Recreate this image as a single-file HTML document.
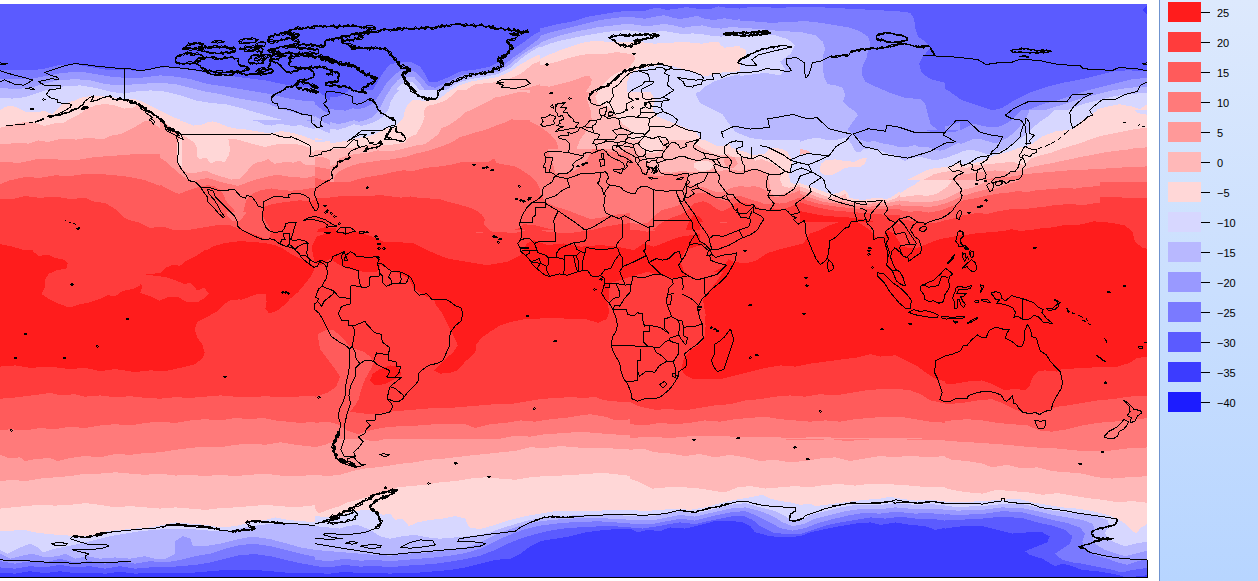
<!DOCTYPE html>
<html><head><meta charset="utf-8"><title>map</title>
<style>
html,body{margin:0;padding:0;background:#fff;}
body{width:1258px;height:581px;position:relative;overflow:hidden;font-family:"Liberation Sans",sans-serif;}
#map{position:absolute;left:0;top:0;}
#leg{position:absolute;left:1159px;top:0;width:99px;height:581px;background:linear-gradient(#dde9fd,#b7d5ff);border-left:1px solid #6f93cf;box-sizing:border-box;}
.sw{position:absolute;left:8px;width:33px;height:20px;}
.tk{position:absolute;left:41px;width:9px;height:1px;background:#000;}
.lb{position:absolute;left:57px;font-size:11px;line-height:12px;color:#000;white-space:nowrap;}
</style></head><body>
<svg id="map" width="1258" height="581" viewBox="0 0 1258 581">

<g shape-rendering="crispEdges">
<clipPath id="c0"><rect x="0" y="4" width="315" height="145"/></clipPath>
<g clip-path="url(#c0)">
<rect x="0" y="4" width="315" height="145" fill="#5b5bff"/>
<polygon fill="#7a7aff" points="0.0,69.6 15.0,69.6 30.0,70.3 42.6,69.1 57.6,65.3 75.1,64.1 87.6,66.6 105.2,69.6 120.2,69.6 140.2,71.1 160.2,67.8 175.3,66.6 190.3,69.6 205.3,72.9 220.3,74.6 235.4,76.6 250.4,78.6 265.4,80.4 280.4,83.6 295.4,86.6 315.0,87.9 365.0,3000.0 -50.0,3000.0"/>
<polygon fill="#9999ff" points="0.0,79.1 15.0,79.1 30.0,79.1 45.1,76.1 62.6,72.9 80.1,71.6 95.1,74.1 110.2,76.6 125.2,77.9 140.2,77.9 160.2,75.4 175.3,76.6 190.3,79.1 207.8,84.1 225.3,86.6 240.4,89.1 255.4,91.6 270.4,94.1 285.4,97.9 300.5,100.4 315.0,101.6 365.0,3000.0 -50.0,3000.0"/>
<polygon fill="#b8b8ff" points="0.0,87.9 15.0,89.1 30.0,87.9 42.6,84.1 57.6,80.4 75.1,79.1 90.1,80.4 105.2,84.1 120.2,85.4 130.2,84.6 145.2,83.6 160.2,82.9 175.3,84.1 190.3,87.9 205.3,91.6 220.3,94.1 235.4,97.9 250.4,100.4 265.4,102.9 275.4,106.7 290.4,111.7 305.5,115.4 315.0,116.7 365.0,3000.0 -50.0,3000.0"/>
<polygon fill="#d7d7ff" points="0.0,97.9 12.5,98.6 25.0,97.1 37.6,92.9 50.1,89.1 65.1,86.1 80.1,85.4 95.1,87.9 110.2,91.6 123.2,93.6 135.2,91.6 150.2,90.4 165.2,91.6 180.3,95.4 195.3,100.4 210.3,102.9 225.3,104.2 240.4,107.9 255.4,112.2 270.4,116.7 285.4,120.7 300.5,124.2 315.0,126.7 365.0,3000.0 -50.0,3000.0"/>
<polygon fill="#ffd7d7" points="-2.5,110.4 0.0,110.4 5.0,106.7 12.5,105.9 19.0,108.4 25.0,111.7 35.1,112.4 44.6,110.9 52.6,114.2 62.6,104.2 75.1,100.4 82.6,97.1 95.1,95.6 110.2,97.1 123.2,98.6 135.2,99.1 145.2,102.9 155.2,107.9 165.2,112.9 175.3,117.9 185.3,121.7 200.3,124.2 215.3,121.7 230.3,124.2 245.4,127.9 260.4,130.4 275.4,130.4 290.4,132.9 305.5,135.4 315.0,136.7 365.0,3000.0 -52.5,3000.0"/>
<polygon fill="#ffb8b8" points="227.8,138.0 240.4,139.2 260.4,141.2 275.4,140.5 295.4,142.2 315.0,144.2 315.0,154.2 227.8,154.2"/>
</g>
<clipPath id="c1"><rect x="0" y="4" width="315" height="145"/></clipPath>
<g clip-path="url(#c1)">
<polygon fill="#ffb8b8" points="0.0,127.7 9.5,125.3 19.1,122.9 28.6,121.7 38.2,123.7 44.5,126.1 52.5,123.7 63.6,122.6 70.0,119.0 79.5,114.2 85.9,109.4 95.4,105.4 104.9,103.8 114.5,105.4 124.0,108.6 132.0,107.8 136.7,105.4 139.9,103.8 143.1,108.6 149.4,114.2 159.0,119.7 168.5,126.1 176.5,132.5 182.8,139.6 190.8,143.6 200.0,148.4 250.0,3000.0 -50.0,3000.0"/>
<polygon fill="#ff9999" points="0.0,144.4 9.5,143.6 19.1,142.8 28.6,143.6 38.2,140.4 47.7,142.0 57.2,139.6 66.8,138.8 76.3,139.6 85.9,138.0 95.4,138.5 103.3,139.6 111.3,135.6 120.8,134.1 127.2,130.9 135.1,126.9 141.5,122.9 146.3,120.5 151.0,121.3 159.0,127.7 166.9,132.5 174.9,135.6 179.7,139.6 178.1,146.8 177.3,154.7 178.9,162.7 182.8,173.8 232.8,3000.0 -50.0,3000.0"/>
<polygon fill="#ff7a7a" points="0.0,162.7 9.5,163.5 19.1,161.9 28.6,161.1 38.2,161.9 47.7,160.3 57.2,159.5 66.8,160.3 74.7,159.5 82.7,157.1 92.2,156.3 101.7,155.5 111.3,154.7 120.8,156.3 130.4,154.7 143.1,153.9 152.6,153.9 160.6,155.5 166.9,159.5 173.3,164.3 176.5,169.0 179.7,173.8 229.7,3000.0 -50.0,3000.0"/>
</g>
<clipPath id="c2"><rect x="315" y="4" width="315" height="145"/></clipPath>
<g clip-path="url(#c2)">
<rect x="315" y="4" width="315" height="145" fill="#5b5bff"/>
<polygon fill="#7a7aff" points="312.5,86.6 315.0,87.9 324.0,95.9 334.0,104.2 347.0,108.2 360.6,104.2 370.6,94.1 377.1,82.6 384.1,71.1 390.6,64.1 397.6,62.8 410.1,61.6 420.2,66.6 425.2,74.1 428.9,81.6 437.7,81.6 450.2,76.6 460.2,71.6 475.2,69.6 490.3,66.6 501.5,60.3 507.8,54.1 515.3,47.8 522.8,42.8 532.8,35.3 545.3,29.0 560.4,24.0 575.4,20.3 590.4,16.5 602.9,14.0 615.5,12.0 630.0,10.3 680.0,3000.0 262.5,3000.0"/>
<polygon fill="#9999ff" points="312.5,102.9 315.0,104.2 325.0,111.7 337.5,117.9 347.5,119.2 357.6,115.4 368.8,109.2 376.3,101.6 381.3,91.6 387.6,81.6 395.1,74.1 401.4,70.3 415.2,71.6 422.7,79.1 427.7,85.4 435.2,87.9 445.2,82.9 455.2,77.9 465.2,74.1 480.2,72.1 495.3,69.6 505.3,64.1 512.8,57.8 520.3,52.8 530.3,45.3 540.3,37.8 552.9,32.8 567.9,27.8 580.4,24.5 592.9,21.5 605.4,19.5 618.0,18.5 630.0,17.8 680.0,3000.0 262.5,3000.0"/>
<polygon fill="#b8b8ff" points="312.5,114.2 315.0,115.9 325.0,122.9 337.5,127.9 347.5,127.9 357.6,124.2 370.1,117.9 378.8,109.2 385.1,99.1 390.1,89.1 397.6,80.4 402.6,76.6 413.9,76.6 420.2,84.1 425.2,90.4 432.7,94.1 440.2,91.6 447.7,85.4 457.7,80.4 470.2,76.6 485.3,74.1 497.8,71.6 507.8,66.1 515.3,59.6 522.8,54.1 532.8,47.8 542.8,42.1 557.9,36.0 572.9,30.3 585.4,26.5 597.9,22.8 610.4,19.5 630.0,17.0 680.0,3000.0 262.5,3000.0"/>
<polygon fill="#d7d7ff" points="312.5,124.2 315.0,125.9 325.0,131.7 337.5,135.4 347.5,134.2 362.6,129.2 373.8,122.9 381.3,114.2 387.6,104.2 392.6,94.1 400.1,85.4 405.1,81.6 412.6,81.6 417.7,87.9 422.7,95.4 431.4,102.9 440.2,97.9 447.7,89.1 457.7,82.9 470.2,79.1 485.3,76.6 497.8,74.1 510.3,67.8 517.8,61.6 525.3,55.3 535.3,49.1 547.8,42.8 562.9,36.5 577.9,31.5 590.4,27.8 605.4,24.0 618.0,22.0 630.0,20.3 680.0,3000.0 262.5,3000.0"/>
<polygon fill="#ffd7d7" points="312.5,136.7 315.0,137.5 325.0,140.5 337.5,143.0 345.0,142.2 360.1,139.2 375.1,140.5 387.6,139.2 400.1,136.7 403.1,129.2 403.9,119.2 405.1,109.2 407.6,99.1 411.4,90.4 417.7,92.9 425.2,101.6 431.4,104.2 440.2,100.4 449.0,91.6 459.0,85.4 470.2,81.6 485.3,79.1 497.8,77.1 510.3,71.6 519.1,65.3 527.8,60.3 537.8,55.3 550.4,51.6 565.4,47.8 580.4,44.1 592.9,41.6 605.4,41.1 618.0,41.6 630.0,41.6 680.0,3000.0 262.5,3000.0"/>
<polygon fill="#ffb8b8" points="312.5,146.7 315.0,147.5 330.0,150.5 340.0,151.7 422.7,151.7 423.2,134.2 425.2,116.7 432.7,109.2 445.2,102.9 455.2,97.9 465.2,90.4 475.2,84.1 490.3,82.9 505.3,80.4 520.3,74.1 532.8,64.1 547.8,57.8 565.4,52.8 577.9,51.6 587.9,45.3 597.9,42.8 615.5,41.6 630.0,39.1 680.0,3000.0 262.5,3000.0"/>
<polygon fill="#ff9999" points="440.2,151.7 442.7,134.2 455.2,121.7 465.2,114.2 477.7,109.2 490.3,102.9 502.8,94.1 515.3,90.4 527.8,87.9 540.3,84.1 555.4,80.4 572.9,77.9 587.9,75.4 591.7,79.1 590.4,89.1 586.7,99.1 590.4,109.2 591.7,119.2 587.9,129.2 580.4,139.2 575.4,151.7"/>
<polygon fill="#ff7a7a" points="460.2,151.7 465.2,139.2 475.2,131.7 490.3,126.7 505.3,121.7 515.3,119.2 530.3,121.7 540.3,126.7 550.4,134.2 556.6,141.7 559.1,151.7"/>
<polygon fill="#ffd7d7" points="633.0,67.8 630.0,67.8 615.5,76.6 602.9,86.6 595.4,96.6 597.9,104.2 607.9,106.7 615.5,114.2 623.0,124.2 630.0,129.2 633.0,129.2"/>
</g>
<clipPath id="c3"><rect x="630" y="4" width="315" height="145"/></clipPath>
<g clip-path="url(#c3)">
<rect x="630" y="4" width="315" height="145" fill="#5b5bff"/>
<polygon fill="#7a7aff" points="630.0,10.3 655.0,8.5 680.1,9.5 705.1,7.8 730.2,8.5 755.2,7.0 780.2,7.8 805.3,6.5 830.3,7.8 855.3,9.0 880.4,10.3 900.4,11.5 910.4,12.8 914.2,19.0 915.4,29.0 917.9,36.5 925.4,41.6 930.5,47.8 922.9,56.6 919.2,64.1 921.7,72.9 930.5,79.1 945.0,82.9 995.0,3000.0 580.0,3000.0"/>
<polygon fill="#9999ff" points="630.0,19.5 645.0,21.5 660.0,19.5 680.1,22.0 700.1,19.0 715.1,22.0 735.2,20.3 755.2,21.5 770.2,22.8 790.2,22.0 805.3,21.0 820.3,22.8 835.3,25.3 850.3,27.8 860.3,31.5 867.9,36.5 870.4,44.1 867.9,51.6 866.6,57.8 862.8,65.3 861.6,74.1 865.4,81.6 875.4,86.6 890.4,92.9 905.4,97.9 920.4,99.1 925.4,104.2 927.9,114.2 930.5,124.2 938.0,130.4 945.0,131.7 995.0,3000.0 580.0,3000.0"/>
<polygon fill="#b8b8ff" points="630.0,26.5 650.0,27.8 667.6,26.0 685.1,29.0 705.1,27.0 720.1,29.0 740.2,27.8 760.2,29.0 780.2,31.0 800.3,32.0 815.3,35.3 822.8,41.6 825.3,49.1 822.8,56.6 822.8,66.6 824.0,76.6 827.8,84.1 835.3,85.4 842.8,87.9 845.3,95.4 842.8,101.6 847.8,106.7 855.3,111.7 857.8,115.4 852.8,121.7 847.8,129.2 847.8,134.2 855.3,136.7 870.4,139.2 885.4,139.2 905.4,140.5 920.4,139.2 930.5,138.0 945.0,139.2 995.0,3000.0 580.0,3000.0"/>
<polygon fill="#d7d7ff" points="630.0,34.0 655.0,35.3 680.1,33.5 705.1,36.0 730.2,36.5 755.2,34.5 775.2,35.3 787.7,39.1 795.2,45.3 790.2,54.1 780.2,61.6 785.2,69.1 780.2,75.4 765.2,72.9 745.2,75.4 730.2,76.6 712.6,79.1 700.1,86.6 695.6,94.1 700.1,102.9 712.6,109.2 722.6,114.2 727.6,121.7 735.2,131.7 750.2,138.0 770.2,140.5 790.2,141.2 805.3,140.5 820.3,136.7 835.3,138.0 842.8,144.2 837.8,151.7 887.8,3000.0 580.0,3000.0"/>
<polygon fill="#ffd7d7" points="617.5,41.6 630.0,41.6 645.0,39.1 665.1,41.1 685.1,42.8 705.1,44.1 720.1,47.8 735.2,46.6 745.2,49.1 746.4,54.1 740.2,61.6 730.2,66.6 715.1,70.3 705.1,72.9 690.1,71.6 670.1,66.6 655.0,65.3 640.0,66.6 630.0,69.1 617.5,69.1"/>
<polygon fill="#ffb8b8" points="627.5,51.6 632.5,52.8 634.5,57.8 632.5,64.1 627.5,65.3"/>
<polygon fill="#ffd7d7" points="617.5,86.6 630.0,86.6 640.0,87.9 650.0,91.6 655.0,99.1 652.5,109.2 657.5,116.7 670.1,121.7 682.6,126.7 695.1,131.7 701.4,139.2 697.6,151.7 617.5,151.7"/>
</g>
<clipPath id="c4"><rect x="945" y="4" width="202" height="145"/></clipPath>
<g clip-path="url(#c4)">
<rect x="945" y="4" width="202" height="145" fill="#5b5bff"/>
<polygon fill="#7a7aff" points="832.0,8.5 847.0,7.0 862.0,9.5 882.1,11.0 902.1,12.8 912.1,15.3 914.6,24.0 917.1,29.0 925.9,34.0 927.1,41.6 922.1,49.1 919.6,56.6 919.6,66.6 924.6,76.6 937.2,84.1 949.7,91.6 962.2,100.4 977.2,105.4 992.2,110.4 1002.3,107.9 1012.3,101.6 1022.3,96.6 1032.3,91.6 1047.3,86.6 1062.3,82.9 1082.4,79.1 1097.4,75.4 1112.4,71.6 1127.4,70.3 1147.0,71.1 1197.0,3000.0 782.0,3000.0"/>
<polygon fill="#3c3cff" points="1142.5,10.3 1147.0,5.3 1150.0,5.3 1150.0,15.3 1147.0,14.5"/>
<polygon fill="#9999ff" points="832.0,30.3 844.5,35.3 857.0,42.8 867.1,51.6 869.6,59.1 863.3,66.6 861.5,76.6 869.6,85.4 882.1,91.6 897.1,97.9 912.1,100.4 922.1,98.6 925.1,106.7 922.6,114.2 927.1,122.9 930.9,129.2 939.7,127.9 949.7,125.4 962.2,121.7 972.2,122.9 982.2,124.2 992.2,126.7 1002.3,124.2 1012.3,117.9 1018.5,114.2 1029.8,109.2 1042.3,104.2 1057.3,100.4 1072.4,95.4 1087.4,90.4 1102.4,86.6 1117.4,82.9 1132.5,79.1 1147.0,77.9 1197.0,3000.0 782.0,3000.0"/>
<polygon fill="#b8b8ff" points="932.2,146.7 944.9,144.2 957.2,140.5 972.2,138.0 987.2,139.2 1002.3,136.7 1012.3,129.2 1019.8,121.7 1029.8,115.4 1039.8,111.7 1052.3,107.9 1067.4,102.9 1082.4,97.9 1097.4,94.1 1112.4,90.4 1127.4,87.9 1147.0,86.6 1197.0,3000.0 882.2,3000.0"/>
<polygon fill="#d7d7ff" points="1029.8,151.7 1032.3,139.2 1037.3,129.2 1044.8,121.7 1057.3,114.2 1069.9,109.2 1082.4,104.2 1097.4,100.4 1112.4,96.6 1127.4,94.1 1147.0,92.9 1197.0,3000.0 979.8,3000.0"/>
<polygon fill="#ffd7d7" points="1039.8,151.7 1047.3,144.2 1057.3,136.7 1067.4,129.2 1077.4,121.7 1087.4,114.2 1097.4,109.2 1107.4,106.7 1119.9,104.2 1132.5,106.7 1140.0,109.2 1147.0,104.2 1197.0,3000.0 989.8,3000.0"/>
<polygon fill="#ffb8b8" points="1082.4,151.7 1097.4,139.2 1112.4,131.7 1127.4,126.7 1140.0,124.2 1147.0,125.4 1197.0,3000.0 1032.4,3000.0"/>
</g>
<clipPath id="c5"><rect x="0" y="149" width="315" height="145"/></clipPath>
<g clip-path="url(#c5)">
<rect x="0" y="149" width="315" height="145" fill="#ff9999"/>
<polygon fill="#ff7a7a" points="-5.0,162.0 0.0,162.0 20.0,162.8 35.1,159.5 50.1,158.5 65.1,160.3 80.1,159.5 95.1,157.0 110.2,156.0 130.2,154.5 150.2,153.5 160.2,154.5 166.5,161.5 175.3,159.0 315.0,159.0 365.0,3000.0 -55.0,3000.0"/>
<polygon fill="#ff5b5b" points="-5.0,184.1 0.0,184.1 10.0,180.3 25.0,177.0 40.1,177.8 55.1,175.3 70.1,176.0 85.1,174.0 100.2,174.0 115.2,175.3 130.2,177.0 145.2,180.3 155.2,184.1 161.5,186.6 175.3,189.1 200.3,186.6 225.3,184.1 315.0,179.0 365.0,3000.0 -55.0,3000.0"/>
<polygon fill="#ff3c3c" points="-5.0,199.1 0.0,199.1 12.5,199.1 25.0,196.1 40.1,197.8 55.1,196.6 70.1,199.1 85.1,197.8 95.1,202.1 105.2,202.8 115.2,209.1 122.7,216.6 130.2,220.4 140.2,222.9 150.2,227.9 162.7,226.6 175.3,230.4 190.3,229.6 205.3,227.1 220.3,224.6 230.3,225.4 240.4,229.1 250.4,232.9 260.4,236.6 267.9,240.4 271.7,231.6 265.9,221.6 261.6,212.8 262.9,204.1 267.9,196.6 280.4,191.6 295.4,189.1 315.0,186.6 365.0,3000.0 -55.0,3000.0"/>
<polygon fill="#ff7a7a" points="225.3,209.1 227.8,216.6 232.8,221.6 240.4,220.4 245.4,214.1 246.6,209.1"/>
<polygon fill="#ff1c1c" points="-2.5,244.1 0.0,244.1 12.5,246.6 25.0,250.4 37.6,255.4 50.1,256.7 62.6,259.2 67.6,262.9 66.3,268.7 55.1,270.4 47.6,276.7 45.1,284.2 43.8,296.7 -2.5,296.7"/>
<polygon fill="#ff1c1c" points="145.2,274.2 160.2,273.7 170.3,266.7 180.3,262.9 190.3,259.2 200.3,254.2 212.8,246.6 225.3,242.9 240.4,241.1 255.4,242.1 267.9,243.6 275.4,245.4 282.9,249.2 290.4,254.2 300.5,259.2 310.5,266.7 318.0,269.2 318.0,296.7 205.3,296.7 195.3,288.0 185.3,283.0 175.3,279.2 160.2,275.4"/>
</g>
<clipPath id="c6"><rect x="160" y="120" width="155" height="92"/></clipPath>
<g clip-path="url(#c6)">
<rect x="160" y="120" width="155" height="92" fill="#d7d7ff"/>
<polygon fill="#b8b8ff" points="250.6,118.4 250.6,120.0 258.6,121.6 264.9,124.8 271.3,125.6 277.6,124.0 287.2,124.8 293.5,126.4 299.9,124.8 306.3,127.2 312.6,128.7 319.0,131.1 326.9,132.7 326.9,118.4"/>
<polygon fill="#9999ff" points="303.1,118.4 303.1,120.0 312.6,121.3 319.0,121.9 326.9,122.4 326.9,118.4"/>
<polygon fill="#ffd7d7" points="156.8,113.6 169.5,115.2 179.1,120.0 185.4,122.4 193.4,125.6 201.3,124.8 207.7,122.4 212.5,121.3 218.8,123.2 226.8,126.4 236.3,128.7 245.9,129.5 255.4,131.1 264.9,132.7 274.5,132.7 280.8,131.1 287.2,131.9 295.1,133.5 303.1,135.9 311.0,139.1 319.0,142.3 326.9,143.8 334.9,143.1 384.9,3000.0 106.8,3000.0"/>
<polygon fill="#ffb8b8" points="182.3,135.1 189.4,139.1 194.2,142.3 197.4,148.6 197.4,156.6 199.7,159.0 206.1,157.4 210.9,163.7 217.2,160.5 225.2,162.1 229.2,154.2 230.0,148.6 228.4,139.1 234.7,138.8 244.3,141.5 255.4,144.6 264.9,147.0 274.5,144.6 284.0,143.8 293.5,143.8 303.1,145.4 309.4,147.8 312.6,151.8 319.0,150.2 328.5,148.3 378.5,3000.0 132.3,3000.0"/>
<polygon fill="#ff9999" points="156.8,116.8 169.5,126.4 180.7,135.9 176.7,145.4 176.7,159.7 183.8,170.9 188.6,173.3 196.6,172.5 206.1,170.9 215.6,174.8 223.6,177.2 231.5,179.6 239.5,178.8 245.9,172.5 250.6,166.9 255.4,162.9 261.7,161.7 268.1,159.0 274.5,163.7 284.0,162.1 293.5,162.6 299.9,160.5 304.7,164.5 312.6,165.3 322.2,163.7 331.7,162.1 381.7,3000.0 106.8,3000.0"/>
<polygon fill="#ff7a7a" points="156.8,154.2 160.0,157.4 166.4,162.1 172.7,167.7 179.1,173.3 185.4,178.0 191.8,181.2 199.7,179.6 207.7,178.0 215.6,180.4 223.6,182.8 231.5,184.4 237.9,186.0 244.3,183.6 250.6,181.2 258.6,178.8 268.1,176.4 277.6,174.8 287.2,176.4 296.7,177.2 306.3,178.0 315.8,175.6 325.3,174.1 375.3,3000.0 106.8,3000.0"/>
<polygon fill="#ff5b5b" points="156.8,182.0 160.0,184.4 166.4,188.4 172.7,191.5 179.1,193.9 185.4,191.5 191.8,189.2 199.7,186.8 207.7,185.2 214.1,186.0 220.4,190.0 223.6,194.7 225.2,199.5 228.4,204.3 233.1,208.2 236.3,213.8 242.7,213.8 245.9,201.1 249.0,196.3 253.8,193.1 261.7,190.0 271.3,188.4 280.8,190.0 290.4,190.7 299.9,190.0 309.4,188.4 319.0,186.8 328.5,183.6 378.5,3000.0 106.8,3000.0"/>
<polygon fill="#ff3c3c" points="261.7,213.8 264.9,206.6 271.3,204.3 280.8,202.7 290.4,201.4 299.9,200.3 309.4,201.1 315.8,199.5 319.0,194.7 325.3,193.1 375.3,3000.0 211.7,3000.0"/>
</g>
<clipPath id="c7"><rect x="315" y="149" width="315" height="145"/></clipPath>
<g clip-path="url(#c7)">
<rect x="315" y="149" width="315" height="145" fill="#ff7a7a"/>
<polygon fill="#ff9999" points="312.5,161.5 315.0,161.5 330.0,159.0 345.0,156.5 360.1,155.3 375.1,152.8 390.1,151.5 410.1,150.3 427.7,147.7 477.7,-3000.0 262.5,-3000.0"/>
<polygon fill="#ffb8b8" points="312.5,154.0 315.0,154.0 327.5,151.5 340.0,147.7 390.0,-3000.0 262.5,-3000.0"/>
<polygon fill="#ff9999" points="549.1,154.0 552.9,164.0 555.4,172.8 565.4,174.0 575.4,170.3 582.9,164.0 587.9,159.0 590.4,152.8 592.9,147.7 547.8,147.7"/>
<polygon fill="#ff9999" points="602.9,147.7 607.9,151.5 620.5,152.8 633.0,151.5 633.0,147.7"/>
<polygon fill="#ff5b5b" points="312.5,174.0 315.0,174.0 327.5,170.3 340.0,167.8 355.1,164.0 370.1,162.8 385.1,160.3 400.1,158.5 415.2,156.5 430.2,154.5 445.2,156.5 460.2,155.3 475.2,156.5 490.3,159.0 495.3,162.8 505.3,164.0 515.3,166.5 525.3,172.8 532.8,177.8 537.8,184.1 540.3,190.3 540.3,194.1 545.3,201.6 555.4,206.6 567.9,210.3 580.4,215.3 590.4,219.1 600.4,217.9 610.4,215.3 620.5,214.1 633.0,212.8 683.0,3000.0 262.5,3000.0"/>
<polygon fill="#ff3c3c" points="312.5,197.8 315.0,197.8 327.5,195.3 340.0,194.1 355.1,195.3 370.1,194.1 385.1,196.6 400.1,197.8 415.2,197.8 430.2,199.1 445.2,200.3 460.2,205.3 475.2,211.6 482.8,217.9 485.3,224.1 495.3,229.1 510.3,230.4 520.3,227.9 522.8,224.1 535.3,225.4 550.4,229.1 565.4,231.6 580.4,232.9 590.4,230.4 605.4,226.6 620.5,224.1 633.0,222.9 683.0,3000.0 262.5,3000.0"/>
<polygon fill="#ff1c1c" points="312.5,225.4 315.0,225.4 325.0,229.1 335.0,231.6 345.0,234.1 357.6,232.9 367.6,235.4 377.6,240.4 387.6,241.6 400.1,241.1 407.6,245.4 420.2,247.9 432.7,254.2 437.7,259.2 450.2,260.4 465.2,264.2 480.2,266.7 495.3,266.2 507.8,262.9 515.3,256.7 519.1,249.2 520.3,242.9 530.3,239.1 540.3,242.9 555.4,244.1 567.9,242.9 580.4,241.6 590.4,240.4 605.4,239.1 618.0,240.4 633.0,241.6 683.0,3000.0 262.5,3000.0"/>
<polygon fill="#ff3c3c" points="312.5,261.7 315.0,261.7 325.0,259.2 332.5,255.4 340.0,254.2 342.5,259.2 347.5,261.7 360.1,259.2 372.6,259.2 380.1,264.2 390.1,269.2 400.1,271.7 407.6,276.7 412.6,284.2 415.2,296.7 312.5,296.7"/>
<polygon fill="#ff3c3c" points="619.2,266.7 625.5,267.9 633.0,266.7 633.0,285.5 625.5,284.2 620.5,277.9"/>
</g>
<clipPath id="c8"><rect x="630" y="149" width="315" height="145"/></clipPath>
<g clip-path="url(#c8)">
<rect x="630" y="149" width="315" height="145" fill="#ff1c1c"/>
<polygon fill="#ff3c3c" points="627.5,256.7 630.0,256.7 637.5,259.2 645.0,249.2 650.0,239.1 660.0,235.4 675.1,234.1 687.6,236.6 691.3,244.1 686.3,251.7 680.1,264.2 687.6,274.2 700.1,279.2 715.1,274.2 725.1,266.7 735.2,261.7 747.7,257.9 760.2,254.2 770.2,249.2 780.2,245.4 790.2,240.4 800.3,236.6 805.3,231.6 815.3,230.4 825.3,226.6 835.3,224.1 845.3,220.4 850.3,222.9 855.3,224.1 865.4,221.6 870.4,226.6 872.9,234.1 876.6,239.1 882.9,235.4 885.4,229.1 890.4,231.6 892.9,239.1 897.9,246.6 902.9,254.2 910.4,259.2 917.9,256.7 922.9,249.2 930.5,244.1 948.0,242.9 998.0,-3000.0 577.5,-3000.0"/>
<polygon fill="#ff5b5b" points="627.5,232.9 630.0,232.9 645.0,231.6 655.0,226.6 667.6,221.6 680.1,221.1 690.1,224.1 697.6,221.6 705.1,217.9 715.1,216.6 725.1,219.1 735.2,221.6 745.2,220.4 755.2,217.9 765.2,215.3 775.2,216.6 785.2,217.9 795.2,212.8 805.3,207.8 815.3,205.3 825.3,207.8 835.3,210.3 845.3,211.6 855.3,212.8 865.4,211.6 875.4,210.3 885.4,212.8 895.4,217.9 905.4,220.4 917.9,220.4 930.5,219.1 948.0,216.6 998.0,-3000.0 577.5,-3000.0"/>
<polygon fill="#ff7a7a" points="627.5,211.6 630.0,211.6 642.5,210.3 655.0,207.8 667.6,206.1 680.1,205.3 690.1,202.8 700.1,199.1 710.1,195.3 720.1,197.8 730.2,201.6 740.2,205.3 750.2,205.3 755.2,209.1 770.2,210.3 785.2,209.1 795.2,202.8 805.3,197.8 815.3,195.3 825.3,197.8 835.3,200.3 845.3,202.8 855.3,204.1 865.4,202.8 875.4,200.3 885.4,202.8 895.4,207.8 905.4,210.3 917.9,209.1 930.5,207.8 948.0,205.3 998.0,-3000.0 577.5,-3000.0"/>
<polygon fill="#ff3c3c" points="667.6,296.7 670.1,284.2 680.1,277.9 692.6,280.4 705.1,281.7 707.6,296.7"/>
</g>
<clipPath id="c9"><rect x="945" y="149" width="202" height="145"/></clipPath>
<g clip-path="url(#c9)">
<rect x="945" y="149" width="202" height="145" fill="#d7d7ff"/>
<polygon fill="#b8b8ff" points="854.5,147.7 862.0,152.8 877.1,155.3 894.6,156.5 907.1,159.0 919.6,157.8 932.2,155.3 937.2,151.5 942.2,147.7"/>
<polygon fill="#9999ff" points="877.1,147.7 889.6,152.0 907.1,154.0 922.1,152.0 929.6,147.7"/>
<polygon fill="#ffd7d7" points="829.5,190.3 832.0,190.3 842.0,192.8 852.0,195.3 862.0,194.1 872.1,195.3 882.1,196.6 889.6,194.1 897.1,189.1 902.1,181.5 907.1,176.5 917.1,172.8 927.1,170.3 937.2,168.5 947.2,166.5 957.2,165.3 967.2,162.8 977.2,159.0 987.2,155.3 997.2,151.5 1004.8,147.7 1583.1,-1.2 1633.1,3000.0 779.5,3000.0"/>
<polygon fill="#ffb8b8" points="829.5,192.8 832.0,192.8 847.0,196.1 862.0,196.6 877.1,196.6 887.1,197.1 897.1,195.3 907.1,191.6 917.1,186.6 927.1,182.8 937.2,179.0 947.2,176.5 957.2,175.3 967.2,172.8 977.2,169.0 987.2,165.3 997.2,161.5 1007.3,157.8 1017.3,154.0 1027.3,150.3 1032.3,147.7 1583.1,-1.2 1633.1,3000.0 779.5,3000.0"/>
<polygon fill="#ff9999" points="829.5,195.3 832.0,195.3 847.0,197.8 862.0,199.1 877.1,199.1 887.1,200.3 897.1,200.3 907.1,199.1 917.1,196.6 927.1,192.8 937.2,189.1 947.2,186.1 957.2,184.1 967.2,180.3 977.2,176.5 987.2,172.8 997.2,170.3 1007.3,167.8 1022.3,164.0 1037.3,160.3 1052.3,157.8 1067.4,155.3 1082.4,153.5 1097.4,151.5 1107.4,147.7 1583.1,-1.2 1633.1,3000.0 779.5,3000.0"/>
<polygon fill="#ff7a7a" points="829.5,197.8 832.0,197.8 847.0,200.3 862.0,201.1 874.6,201.6 887.1,204.1 897.1,205.3 907.1,206.1 919.6,205.3 932.2,202.8 942.2,199.1 952.2,195.3 962.2,191.6 972.2,189.1 982.2,186.6 994.7,182.8 1007.3,180.3 1022.3,177.0 1037.3,175.3 1052.3,172.8 1067.4,171.0 1082.4,169.5 1097.4,167.8 1112.4,165.3 1127.4,163.5 1150.0,162.8 1200.0,3000.0 779.5,3000.0"/>
<polygon fill="#ff5b5b" points="829.5,200.3 832.0,200.3 842.0,202.8 852.0,204.6 862.0,203.6 872.1,205.3 882.1,207.8 892.1,210.3 904.6,211.6 917.1,212.1 929.6,210.3 939.7,207.8 949.7,205.3 959.7,202.8 969.7,201.6 979.7,199.1 992.2,196.6 1007.3,194.1 1022.3,192.1 1037.3,190.3 1052.3,188.6 1067.4,186.6 1082.4,185.3 1097.4,184.1 1112.4,182.8 1127.4,183.6 1150.0,184.1 1200.0,3000.0 779.5,3000.0"/>
<polygon fill="#ff3c3c" points="829.5,206.6 832.0,206.6 842.0,209.1 852.0,210.3 859.5,207.8 869.6,211.6 879.6,215.3 889.6,217.9 902.1,219.1 914.6,220.4 927.1,219.6 937.2,217.9 947.2,216.6 957.2,217.9 967.2,216.6 977.2,214.1 987.2,212.8 1002.3,211.6 1017.3,210.3 1032.3,209.1 1047.3,207.1 1062.3,205.3 1077.4,203.6 1092.4,202.8 1107.4,200.3 1122.4,199.1 1135.0,197.8 1150.0,199.1 1200.0,3000.0 779.5,3000.0"/>
<polygon fill="#ff1c1c" points="829.5,220.4 832.0,220.4 842.0,221.6 852.0,219.1 859.5,221.6 867.1,224.1 874.6,231.6 882.1,237.9 889.6,241.6 897.1,245.4 907.1,247.9 917.1,245.4 924.6,241.6 932.2,237.9 942.2,235.4 952.2,234.1 962.2,235.4 972.2,234.1 982.2,232.9 994.7,231.6 1007.3,230.4 1022.3,229.1 1037.3,228.6 1052.3,226.6 1067.4,224.1 1082.4,222.9 1097.4,221.6 1112.4,222.9 1124.9,225.4 1132.5,231.6 1135.0,241.6 1142.5,247.9 1150.0,249.2 1200.0,3000.0 779.5,3000.0"/>
</g>
<clipPath id="c10"><rect x="630" y="140" width="200" height="92"/></clipPath>
<g clip-path="url(#c10)">
<rect x="630" y="140" width="200" height="92" fill="#ff7a7a"/>
<polygon fill="#ff9999" points="628.4,157.5 630.0,157.5 636.4,163.8 642.7,169.4 649.1,174.2 655.4,175.8 661.8,175.8 671.3,174.2 680.9,172.6 687.2,174.2 688.0,179.7 690.4,184.5 696.8,186.1 704.7,187.7 712.7,190.9 719.0,192.5 725.4,190.9 731.7,187.7 739.7,186.1 747.6,186.9 754.0,186.1 760.4,187.7 766.7,190.9 769.9,194.8 776.3,197.2 782.6,195.6 789.0,194.1 795.3,192.5 801.7,189.3 808.1,190.1 814.4,192.5 820.8,194.1 831.9,194.8 881.9,-3000.0 578.4,-3000.0"/>
<polygon fill="#ffb8b8" points="628.4,143.2 630.0,143.2 634.8,149.5 639.5,155.9 645.9,162.3 653.8,168.6 661.8,171.8 671.3,172.6 680.9,171.0 690.4,171.8 700.0,172.6 709.5,171.0 714.3,168.6 719.0,171.8 723.8,170.2 731.7,169.4 739.7,171.0 747.6,169.4 757.2,168.6 765.1,171.8 768.3,178.2 769.9,186.1 771.5,194.1 777.9,195.6 784.2,193.3 790.6,190.9 796.9,187.7 803.3,185.3 809.7,186.9 816.0,189.3 822.4,190.9 831.9,191.7 881.9,-3000.0 578.4,-3000.0"/>
<polygon fill="#ff9999" points="725.4,155.9 734.9,157.5 738.1,163.8 733.3,168.3 727.0,167.0 723.8,162.3"/>
<polygon fill="#ffd7d7" points="641.9,139.2 639.5,146.4 645.9,152.7 655.4,153.5 661.8,149.5 663.4,143.2 661.8,139.2"/>
<polygon fill="#ffd7d7" points="693.6,163.8 700.0,160.7 709.5,161.5 713.5,165.4 709.5,170.2 700.0,171.0 694.4,167.8"/>
<polygon fill="#ffd7d7" points="688.8,138.4 690.4,140.0 696.8,144.8 704.7,149.5 712.7,153.5 720.6,155.1 728.6,154.3 733.3,157.5 741.3,156.7 747.6,159.1 752.4,158.3 755.6,160.7 762.0,159.1 769.9,162.3 777.9,167.0 781.0,173.4 780.2,179.7 782.6,186.1 789.0,187.7 795.3,186.1 801.7,183.7 804.9,180.5 812.8,184.5 820.8,187.7 831.9,189.3 881.9,-3000.0 638.8,-3000.0"/>
<polygon fill="#d7d7ff" points="703.1,138.4 704.7,140.0 709.5,142.4 715.9,145.6 723.8,145.6 729.4,144.0 731.7,147.9 739.7,150.3 747.6,152.7 751.6,155.1 757.2,154.6 765.1,154.0 768.3,149.5 773.1,147.9 781.0,148.7 787.4,151.9 790.6,157.5 792.2,162.3 789.8,168.6 789.0,176.6 790.6,182.1 795.3,184.5 800.9,182.1 803.3,177.4 808.1,179.0 814.4,182.9 820.8,186.1 827.1,187.7 831.9,188.5 881.9,-3000.0 653.1,-3000.0"/>
<polygon fill="#ffd7d7" points="831.9,160.7 824.0,163.1 820.8,168.6 823.2,174.2 831.9,175.8"/>
<polygon fill="#ff5b5b" points="628.4,222.7 630.0,222.7 639.5,224.3 647.5,222.7 653.8,216.3 661.8,210.0 671.3,207.6 679.3,205.2 684.1,200.4 693.6,194.1 703.1,192.5 712.7,195.6 719.0,198.8 725.4,201.2 731.7,198.0 738.1,195.6 744.5,197.2 750.8,199.6 757.2,201.2 763.5,203.6 769.9,204.4 773.1,202.0 779.4,203.6 785.8,202.8 792.2,200.4 798.5,198.0 804.9,195.6 811.2,197.2 817.6,198.8 824.0,200.4 831.9,201.2 881.9,3000.0 578.4,3000.0"/>
<polygon fill="#ff3c3c" points="645.9,235.4 653.8,229.0 661.8,222.7 671.3,217.9 680.9,214.7 687.2,210.0 693.6,203.6 703.1,201.2 709.5,203.6 715.9,208.4 722.2,211.5 728.6,208.4 734.9,203.6 741.3,202.0 747.6,203.6 754.0,205.2 760.4,208.4 766.7,210.0 773.1,208.4 779.4,209.2 785.8,208.4 792.2,206.0 798.5,203.6 804.9,202.8 811.2,203.6 817.6,205.2 824.0,206.0 831.9,206.8 881.9,3000.0 595.9,3000.0"/>
<polygon fill="#ff1c1c" points="684.1,233.8 687.2,225.9 690.4,219.5 693.6,214.7 698.4,216.3 703.1,221.1 704.7,227.4 706.3,233.8"/>
<polygon fill="#ff1c1c" points="804.9,233.8 812.8,229.0 820.8,227.4 831.9,226.6 831.9,233.8"/>
</g>
<clipPath id="c11"><rect x="800" y="130" width="200" height="92"/></clipPath>
<g clip-path="url(#c11)">
<rect x="800" y="130" width="200" height="92" fill="#d7d7ff"/>
<polygon fill="#b8b8ff" points="798.4,141.9 800.0,141.9 809.5,138.7 819.1,137.9 828.6,140.3 838.2,139.5 846.1,137.2 849.3,141.1 852.5,145.9 855.6,151.5 860.4,152.3 863.6,149.1 870.0,148.3 876.3,149.1 882.7,151.5 889.0,153.8 895.4,155.4 901.7,159.4 904.9,161.0 911.3,157.8 920.8,157.0 927.2,158.6 933.5,160.2 939.9,159.4 946.3,157.8 952.6,155.4 959.0,153.1 965.3,150.7 971.7,151.5 978.1,153.8 984.4,155.4 990.8,157.0 1001.9,155.4 1051.9,-3000.0 748.4,-3000.0"/>
<polygon fill="#9999ff" points="846.1,128.4 847.7,130.0 854.1,134.8 860.4,139.5 866.8,141.9 874.7,141.1 882.7,143.5 892.2,145.1 900.2,147.5 908.1,146.7 914.5,145.1 920.8,147.5 927.2,146.7 933.5,149.1 939.9,150.7 946.3,149.1 952.6,145.9 959.0,142.7 966.9,140.3 974.9,139.5 982.8,141.1 990.8,143.5 1001.9,142.7 1051.9,-3000.0 796.1,-3000.0"/>
<polygon fill="#7a7aff" points="924.0,129.2 930.4,131.6 943.1,132.4 955.8,131.6 960.6,129.2"/>
<polygon fill="#ffd7d7" points="820.7,164.2 825.4,160.2 835.0,159.4 844.5,161.0 854.1,161.8 860.4,158.6 866.8,158.3 865.2,163.4 860.4,166.6 850.9,166.9 844.5,168.2 838.2,172.1 831.8,175.3 825.4,175.3 819.9,172.1"/>
<polygon fill="#ffb8b8" points="798.4,149.1 800.0,149.1 806.4,149.9 810.3,152.3 806.4,153.8 800.0,154.6 798.4,154.6"/>
<polygon fill="#ffd7d7" points="798.4,183.3 800.0,183.3 804.8,184.8 809.5,186.4 814.3,188.0 820.7,190.4 827.0,192.8 831.8,194.4 838.2,192.8 844.5,189.6 847.7,192.8 849.3,197.6 855.6,199.2 863.6,200.0 871.5,198.4 879.5,197.6 885.9,199.2 890.6,197.6 895.4,194.4 900.2,191.2 901.7,185.6 904.9,181.7 911.3,177.7 917.6,174.5 924.0,171.3 930.4,169.0 936.7,167.8 943.1,167.4 949.4,166.2 955.8,164.2 962.2,161.8 968.5,160.2 974.9,159.4 982.8,157.8 990.8,156.2 1001.9,153.8 1051.9,3000.0 748.4,3000.0"/>
<polygon fill="#ffb8b8" points="798.4,186.4 800.0,186.4 806.4,188.8 812.7,191.2 819.1,193.6 825.4,196.0 831.8,197.6 839.7,196.8 845.3,193.6 846.9,198.4 850.9,200.7 857.2,201.5 866.8,202.3 874.7,200.7 882.7,200.0 888.2,200.7 895.4,198.4 901.7,193.6 908.1,189.6 914.5,184.8 920.8,180.9 927.2,177.7 933.5,174.5 939.9,172.6 946.3,171.7 952.6,170.5 959.0,169.7 965.3,169.0 971.7,168.2 978.1,165.8 984.4,163.4 990.8,161.8 1001.9,159.4 1051.9,3000.0 748.4,3000.0"/>
<polygon fill="#ff9999" points="798.4,190.4 800.0,190.4 806.4,192.8 812.7,195.2 819.1,197.6 825.4,199.2 831.8,200.7 841.3,201.2 850.9,203.1 860.4,203.9 870.0,203.9 879.5,202.3 887.4,203.1 895.4,201.5 903.3,199.2 909.7,196.0 916.1,192.0 922.4,188.0 928.8,184.8 935.1,182.5 943.1,180.9 949.4,179.3 955.8,177.7 962.2,176.9 968.5,176.1 974.9,174.5 981.2,172.1 987.6,170.5 994.0,168.2 1001.9,165.8 1051.9,3000.0 748.4,3000.0"/>
<polygon fill="#ff7a7a" points="798.4,193.6 800.0,193.6 807.9,196.8 815.9,199.6 823.8,201.9 831.8,203.1 841.3,203.9 850.9,205.5 860.4,206.3 870.0,206.6 879.5,205.5 889.0,206.0 898.6,204.7 908.1,202.3 917.6,200.0 927.2,197.6 936.7,195.2 946.3,192.8 952.6,191.2 959.0,190.4 965.3,187.2 971.7,184.8 978.1,182.5 984.4,180.1 990.8,177.7 1001.9,175.3 1051.9,3000.0 748.4,3000.0"/>
<polygon fill="#ff5b5b" points="798.4,197.6 800.0,197.6 807.9,200.7 815.9,203.1 823.8,204.7 831.8,206.0 841.3,207.1 850.9,208.2 860.4,209.2 870.0,209.5 879.5,209.2 889.0,209.5 898.6,208.7 908.1,207.9 917.6,206.3 927.2,205.5 936.7,204.7 946.3,203.9 952.6,201.5 959.0,198.4 965.3,195.2 971.7,192.8 978.1,191.2 984.4,188.8 990.8,186.4 1001.9,184.1 1051.9,3000.0 748.4,3000.0"/>
<polygon fill="#ff3c3c" points="798.4,202.3 800.0,202.3 807.9,204.7 815.9,207.1 823.8,208.7 831.8,210.3 841.3,211.1 850.9,211.9 860.4,212.7 870.0,213.5 879.5,214.3 889.0,215.1 898.6,215.1 908.1,214.3 917.6,213.5 927.2,213.5 936.7,214.3 946.3,213.5 952.6,211.1 959.0,207.9 965.3,204.7 971.7,202.3 978.1,200.7 984.4,200.0 990.8,198.4 1001.9,196.8 1051.9,3000.0 748.4,3000.0"/>
<polygon fill="#ff1c1c" points="798.4,211.1 800.0,211.1 807.9,212.7 815.9,214.3 825.4,215.9 835.0,216.6 847.7,217.4 860.4,219.0 870.0,220.6 879.5,223.8 929.5,3000.0 748.4,3000.0"/>
</g>
<clipPath id="c12"><rect x="960" y="110" width="187" height="92"/></clipPath>
<g clip-path="url(#c12)">
<rect x="960" y="110" width="187" height="92" fill="#7a7aff"/>
<polygon fill="#9999ff" points="958.4,130.7 960.0,130.7 966.4,127.5 972.7,123.5 979.1,125.1 987.0,126.7 995.0,127.5 1001.3,125.9 1007.7,122.7 1014.1,117.9 1018.8,113.2 1022.0,109.2 1436.9,14.6 1486.9,3000.0 908.4,3000.0"/>
<polygon fill="#b8b8ff" points="958.4,144.2 960.0,144.2 966.4,141.8 972.7,139.4 979.1,138.6 987.0,141.0 995.0,143.4 999.7,141.8 1006.1,138.6 1012.5,133.8 1018.8,127.5 1023.6,121.1 1026.8,116.4 1030.0,109.2 1436.9,14.6 1486.9,3000.0 908.4,3000.0"/>
<polygon fill="#d7d7ff" points="958.4,152.1 960.0,152.1 966.4,150.5 972.7,149.7 980.7,152.1 988.6,154.5 995.0,152.9 1001.3,150.5 1007.7,147.4 1014.1,143.4 1020.4,138.6 1026.8,133.8 1033.1,127.5 1039.5,121.9 1045.9,117.9 1050.6,114.0 1055.4,109.2 1436.9,14.6 1486.9,3000.0 908.4,3000.0"/>
<polygon fill="#ffd7d7" points="958.4,164.1 960.0,164.1 964.8,164.8 969.5,163.3 975.9,162.5 982.3,160.9 988.6,157.7 995.0,155.3 1001.3,153.7 1007.7,152.1 1014.1,149.7 1020.4,147.4 1026.8,145.8 1033.1,143.4 1037.9,139.4 1042.7,136.2 1049.0,133.8 1055.4,131.5 1061.7,130.7 1068.1,129.9 1074.5,128.3 1077.6,124.3 1082.4,120.3 1087.2,117.2 1093.5,113.2 1098.3,109.2 1436.9,14.6 1486.9,3000.0 908.4,3000.0"/>
<polygon fill="#d7d7ff" points="1133.3,109.2 1138.1,113.2 1147.6,114.8 1147.6,109.2"/>
<polygon fill="#ffb8b8" points="958.4,166.4 960.0,166.4 966.4,168.0 972.7,165.6 980.7,164.8 988.6,164.1 996.6,163.3 1004.5,162.5 1012.5,161.7 1018.8,164.1 1023.6,164.8 1026.8,162.5 1031.5,158.5 1037.9,156.1 1044.3,154.5 1050.6,152.9 1057.0,150.5 1063.3,148.2 1071.3,145.8 1077.6,144.2 1084.0,141.8 1090.4,139.4 1096.7,137.3 1103.1,135.4 1111.0,133.8 1119.0,132.3 1126.9,130.7 1134.9,129.1 1141.2,128.3 1147.6,127.5 1197.6,3000.0 908.4,3000.0"/>
<polygon fill="#ff9999" points="958.4,173.6 960.0,173.6 966.4,174.4 972.7,172.8 979.1,172.0 987.0,171.2 995.0,170.4 1002.9,171.2 1010.9,172.0 1017.2,171.2 1023.6,169.6 1028.4,168.0 1034.7,166.4 1042.7,164.8 1050.6,163.3 1058.6,161.7 1068.1,159.6 1074.5,158.5 1080.8,156.9 1090.4,155.3 1098.3,153.7 1106.3,152.1 1112.6,151.3 1119.0,150.5 1126.9,149.7 1133.3,148.5 1139.7,147.8 1147.6,147.4 1197.6,3000.0 908.4,3000.0"/>
<polygon fill="#ff7a7a" points="958.4,181.5 960.0,181.5 967.9,181.5 975.9,180.7 983.8,180.0 991.8,178.4 999.7,177.6 1007.7,176.8 1015.6,176.0 1023.6,174.4 1031.5,173.6 1039.5,172.8 1049.0,172.0 1058.6,171.2 1068.1,170.4 1077.6,170.1 1087.2,169.6 1096.7,168.8 1106.3,168.5 1115.8,168.0 1125.3,167.2 1134.9,166.9 1147.6,166.4 1197.6,3000.0 908.4,3000.0"/>
<polygon fill="#ff5b5b" points="958.4,189.5 960.0,189.5 966.4,191.1 972.7,190.3 980.7,189.5 988.6,187.9 996.6,186.3 1004.5,184.7 1012.5,183.1 1020.4,181.5 1028.4,180.7 1037.9,180.7 1047.4,181.2 1058.6,181.9 1068.1,181.5 1077.6,182.3 1087.2,182.3 1096.7,181.9 1106.3,182.3 1115.8,182.3 1125.3,182.3 1134.9,181.9 1147.6,181.9 1197.6,3000.0 908.4,3000.0"/>
<polygon fill="#ff3c3c" points="958.4,198.2 960.0,198.2 966.4,199.0 975.9,198.2 985.4,197.4 995.0,195.9 1004.5,194.3 1014.1,192.7 1023.6,191.1 1033.1,191.1 1042.7,191.9 1052.2,193.5 1061.7,193.9 1071.3,194.3 1080.8,195.1 1090.4,195.9 1099.9,196.6 1109.4,197.1 1119.0,197.4 1128.5,197.8 1138.1,198.2 1147.6,198.2 1197.6,3000.0 908.4,3000.0"/>
</g>
<clipPath id="c13"><rect x="0" y="294" width="315" height="145"/></clipPath>
<g clip-path="url(#c13)">
<rect x="0" y="294" width="315" height="145" fill="#ff1c1c"/>
<polygon fill="#ff3c3c" points="40.1,292.7 50.1,300.3 65.1,306.5 80.1,305.3 95.1,300.3 105.2,296.5 115.2,292.7"/>
<polygon fill="#ff3c3c" points="140.2,292.7 150.2,297.8 165.2,300.3 175.3,296.5 185.3,299.0 197.8,302.8 205.3,297.8 210.3,292.7"/>
<polygon fill="#ff3c3c" points="-2.5,366.6 0.0,366.6 15.0,365.4 30.0,367.9 50.1,366.6 70.1,369.1 85.1,367.9 100.2,371.1 115.2,369.1 135.2,372.1 150.2,370.4 165.2,371.1 180.3,367.9 195.3,364.1 202.8,357.8 204.8,351.6 200.3,342.8 196.5,335.3 195.3,327.8 200.3,321.5 210.3,316.5 220.3,310.3 227.8,304.0 240.4,300.3 250.4,296.5 260.4,292.7 751.1,143.8 801.1,3000.0 -52.5,3000.0"/>
<polygon fill="#ff1c1c" points="265.4,292.7 266.6,301.5 265.4,309.0 269.2,313.5 277.9,310.3 285.4,304.0 292.9,296.5 296.7,292.7"/>
<polygon fill="#ff5b5b" points="-2.5,398.7 0.0,398.7 12.5,397.9 25.0,396.2 37.6,394.7 50.1,392.9 60.1,395.4 75.1,394.2 85.1,396.7 100.2,395.4 115.2,397.2 130.2,396.2 145.2,397.9 160.2,398.7 175.3,397.2 190.3,397.9 205.3,396.7 220.3,395.4 235.4,396.7 250.4,397.2 265.4,396.2 280.4,397.2 295.4,396.7 318.0,395.4 368.0,3000.0 -52.5,3000.0"/>
<polygon fill="#ff7a7a" points="-2.5,430.5 0.0,430.5 10.0,429.2 25.0,430.5 40.1,428.0 55.1,429.2 70.1,426.7 85.1,428.0 100.2,425.4 115.2,424.2 130.2,425.4 145.2,422.9 160.2,421.7 175.3,422.9 190.3,420.4 205.3,419.2 220.3,420.4 235.4,417.9 250.4,419.2 262.9,417.9 275.4,420.4 287.9,421.7 300.5,422.9 318.0,421.7 368.0,3000.0 -52.5,3000.0"/>
</g>
<clipPath id="c14"><rect x="315" y="294" width="315" height="145"/></clipPath>
<g clip-path="url(#c14)">
<rect x="315" y="294" width="315" height="145" fill="#ff3c3c"/>
<polygon fill="#ff1c1c" points="432.7,291.5 432.7,292.7 435.2,304.0 442.7,314.0 447.7,324.0 451.5,331.6 455.2,339.1 457.7,345.3 452.7,352.8 445.2,359.1 437.7,366.6 433.9,370.4 440.2,373.6 450.2,372.9 457.7,370.4 465.2,361.6 475.2,352.8 476.5,344.1 481.5,337.8 490.3,331.6 500.3,325.3 512.8,321.5 525.3,319.0 540.3,318.5 555.4,317.8 570.4,319.0 585.4,319.0 597.9,322.8 606.7,319.0 609.2,311.5 607.9,304.0 605.4,296.5 602.9,291.5"/>
<polygon fill="#ff1c1c" points="370.1,380.4 372.6,374.1 380.1,369.1 390.1,365.4 397.6,366.6 401.4,374.1 395.1,379.1 385.1,384.1 375.1,385.4"/>
<polygon fill="#ff5b5b" points="317.5,334.1 325.0,330.3 333.8,330.3 341.3,336.6 348.8,345.3 355.1,349.1 362.6,351.1 370.1,356.6 373.8,362.9 370.1,370.4 365.1,379.1 361.3,389.1 358.8,399.2 355.1,405.4 350.1,411.7 346.3,419.2 347.5,429.2 352.6,441.7 312.5,441.7 312.5,396.7 315.0,396.7 327.5,392.9 336.3,386.6 340.0,376.6 335.0,369.1 327.5,359.1 320.0,349.1"/>
<polygon fill="#ff5b5b" points="312.5,396.7 315.0,396.7 327.5,394.2 340.0,399.2 350.1,411.7 365.1,413.7 375.1,414.2 390.1,411.7 405.1,410.4 420.2,409.2 435.2,407.9 450.2,407.9 465.2,406.7 480.2,405.4 495.3,404.2 510.3,404.2 525.3,401.7 540.3,399.2 555.4,397.9 570.4,397.2 585.4,397.9 595.4,396.7 600.4,399.2 610.4,401.2 620.5,401.7 633.0,402.2 683.0,3000.0 262.5,3000.0"/>
<polygon fill="#ff7a7a" points="312.5,422.9 315.0,422.9 327.5,421.7 337.5,424.2 347.5,430.5 357.6,434.2 365.1,431.7 375.1,429.2 390.1,426.7 405.1,426.2 420.2,425.4 435.2,424.2 450.2,423.7 465.2,424.2 475.2,428.0 490.3,424.2 505.3,422.9 520.3,420.4 535.3,421.7 550.4,419.2 565.4,417.9 580.4,415.4 590.4,414.2 605.4,416.7 615.5,420.4 633.0,419.2 683.0,3000.0 262.5,3000.0"/>
<polygon fill="#ff9999" points="490.3,441.7 500.3,438.7 515.3,435.5 530.3,436.7 545.3,434.2 565.4,433.0 580.4,431.7 595.4,433.0 610.4,434.2 633.0,435.5 683.0,3000.0 440.3,3000.0"/>
</g>
<clipPath id="c15"><rect x="630" y="294" width="315" height="145"/></clipPath>
<g clip-path="url(#c15)">
<rect x="630" y="294" width="315" height="145" fill="#ff1c1c"/>
<polygon fill="#ff3c3c" points="627.5,291.5 702.1,291.5 703.6,304.0 705.6,314.0 705.1,324.0 705.6,325.3 705.1,336.6 700.1,344.1 690.1,350.3 683.8,359.1 681.3,369.1 683.8,374.1 692.6,379.1 705.1,378.6 720.1,379.1 735.2,375.4 750.2,371.6 765.2,367.9 780.2,365.4 795.2,366.6 810.3,363.6 825.3,361.6 840.3,359.6 855.3,357.8 870.4,354.1 880.4,356.6 895.4,355.3 905.4,360.3 917.9,366.6 927.9,374.1 935.5,379.1 948.0,381.6 948.0,444.2 627.5,444.2"/>
<polygon fill="#ff5b5b" points="627.5,402.2 630.0,402.2 640.0,406.7 655.0,409.7 670.1,409.2 685.1,410.4 700.1,407.9 715.1,405.4 730.2,404.2 745.2,400.4 760.2,399.2 775.2,396.7 790.2,395.4 805.3,396.7 820.3,394.2 835.3,395.4 850.3,392.9 865.4,390.4 880.4,389.1 895.4,388.6 910.4,390.4 920.4,394.2 930.5,400.4 948.0,404.2 998.0,3000.0 577.5,3000.0"/>
<polygon fill="#ff7a7a" points="627.5,424.2 630.0,424.2 645.0,425.4 660.0,422.9 675.1,424.2 690.1,422.9 705.1,420.4 720.1,421.7 735.2,419.2 750.2,417.9 765.2,416.7 780.2,419.2 795.2,420.4 810.3,421.7 825.3,420.4 840.3,421.7 855.3,419.2 870.4,417.9 885.4,416.7 900.4,416.7 915.4,419.2 930.5,421.7 948.0,422.9 998.0,3000.0 577.5,3000.0"/>
<polygon fill="#ff9999" points="627.5,438.0 630.0,438.0 650.0,436.7 670.1,438.0 690.1,436.2 715.1,435.5 740.2,437.2 765.2,436.7 790.2,438.0 815.3,437.2 855.3,438.0 948.0,438.7 998.0,3000.0 577.5,3000.0"/>
</g>
<clipPath id="c16"><rect x="945" y="294" width="202" height="145"/></clipPath>
<g clip-path="url(#c16)">
<rect x="945" y="294" width="202" height="145" fill="#ff1c1c"/>
<polygon fill="#ff3c3c" points="829.5,361.1 832.0,361.1 844.5,357.8 857.0,356.6 869.6,354.1 882.1,356.6 894.6,356.1 907.1,361.6 917.1,366.6 927.1,374.1 934.7,379.1 939.7,382.9 952.2,384.1 967.2,381.6 982.2,380.4 992.2,384.1 1004.8,390.4 1014.8,388.6 1024.8,390.4 1029.8,385.4 1032.3,377.9 1037.3,371.6 1044.8,370.4 1057.3,371.6 1062.3,369.1 1072.4,368.6 1087.4,367.9 1102.4,366.6 1117.4,366.6 1129.9,362.9 1137.5,357.8 1150.0,356.6 1200.0,3000.0 779.5,3000.0"/>
<polygon fill="#ff5b5b" points="829.5,394.2 832.0,394.2 847.0,392.9 862.0,391.6 877.1,389.1 892.1,390.4 907.1,394.2 919.6,399.2 932.2,402.9 947.2,404.2 962.2,402.9 977.2,400.4 992.2,399.2 1004.8,404.2 1017.3,410.4 1032.3,412.9 1044.8,411.7 1057.3,406.7 1067.4,405.4 1082.4,402.9 1097.4,400.4 1112.4,399.2 1127.4,396.7 1150.0,395.4 1200.0,3000.0 779.5,3000.0"/>
<polygon fill="#ff7a7a" points="829.5,419.2 832.0,419.2 847.0,421.7 862.0,418.7 877.1,417.9 892.1,419.2 907.1,420.4 922.1,421.7 937.2,422.2 952.2,420.4 967.2,419.2 982.2,420.4 997.2,422.9 1012.3,424.2 1027.3,425.4 1039.8,430.5 1052.3,431.7 1067.4,429.2 1082.4,425.4 1097.4,422.9 1112.4,421.7 1127.4,420.4 1150.0,417.9 1200.0,3000.0 779.5,3000.0"/>
</g>
<clipPath id="c17"><rect x="0" y="439" width="315" height="138"/></clipPath>
<g clip-path="url(#c17)">
<rect x="0" y="439" width="315" height="138" fill="#ff7a7a"/>
<polygon fill="#ff9999" points="-2.5,454.8 0.0,454.8 10.0,458.5 20.0,457.3 25.0,461.0 35.1,459.0 50.1,458.0 57.6,461.0 70.1,458.0 85.1,456.0 100.2,457.3 115.2,454.0 130.2,454.8 145.2,453.0 160.2,452.3 175.3,449.8 190.3,448.0 205.3,446.5 220.3,447.3 235.4,444.8 250.4,443.5 265.4,444.8 280.4,442.3 295.4,444.8 318.0,447.3 368.0,3000.0 -52.5,3000.0"/>
<polygon fill="#ffb8b8" points="-2.5,481.1 0.0,481.1 12.5,479.8 25.0,481.1 40.1,478.6 55.1,477.3 70.1,476.1 85.1,473.6 100.2,473.6 115.2,472.3 130.2,473.6 145.2,474.8 160.2,473.6 175.3,475.6 190.3,474.8 205.3,476.1 220.3,474.8 235.4,476.1 250.4,474.8 265.4,473.6 280.4,475.6 295.4,476.1 318.0,474.8 368.0,3000.0 -52.5,3000.0"/>
<polygon fill="#ffd7d7" points="-2.5,508.6 0.0,508.6 12.5,507.4 25.0,506.1 40.1,504.9 55.1,505.6 70.1,504.9 85.1,503.1 100.2,504.9 115.2,507.4 130.2,506.1 145.2,507.4 160.2,508.6 175.3,507.4 190.3,508.6 205.3,509.9 220.3,508.1 235.4,507.4 250.4,506.1 265.4,504.9 280.4,506.1 295.4,507.4 318.0,504.9 368.0,3000.0 -52.5,3000.0"/>
<polygon fill="#d7d7ff" points="-2.5,531.1 0.0,531.1 12.5,530.6 25.0,529.9 35.1,532.4 45.1,533.6 57.6,534.9 70.1,535.6 82.6,536.2 95.1,534.9 107.7,531.1 120.2,529.9 135.2,528.6 150.2,527.4 162.7,524.9 175.3,522.4 190.3,523.6 205.3,524.9 220.3,527.4 235.4,526.1 250.4,522.4 265.4,519.9 275.4,517.4 287.9,519.9 300.5,521.1 318.0,522.4 368.0,3000.0 -52.5,3000.0"/>
<polygon fill="#b8b8ff" points="-2.5,549.9 0.0,549.9 7.5,553.7 17.5,548.7 30.0,543.7 37.6,547.4 42.6,552.4 55.1,548.7 67.6,546.2 80.1,543.7 95.1,539.9 110.2,536.2 125.2,533.6 140.2,531.1 155.2,529.9 170.3,528.6 185.3,528.6 200.3,529.9 215.3,531.1 230.3,530.6 245.4,527.4 260.4,524.9 275.4,523.6 290.4,523.6 300.5,524.9 318.0,526.1 368.0,3000.0 -52.5,3000.0"/>
<polygon fill="#9999ff" points="-2.5,553.7 0.0,553.7 10.0,558.7 20.0,556.2 32.5,553.7 45.1,557.4 57.6,556.2 65.1,553.7 75.1,558.7 87.6,556.2 100.2,558.7 115.2,557.4 130.2,558.7 145.2,556.2 155.2,558.7 165.2,558.7 175.3,553.7 175.3,541.2 182.8,536.2 190.3,538.7 192.8,546.2 205.3,546.2 220.3,543.7 235.4,539.9 250.4,536.7 255.4,536.9 270.4,539.2 285.4,543.2 300.5,547.4 318.0,550.4 368.0,3000.0 -52.5,3000.0"/>
<polygon fill="#7a7aff" points="-2.5,561.2 0.0,561.2 15.0,563.7 30.0,561.2 45.1,562.4 60.1,558.7 75.1,562.4 90.1,561.2 105.2,563.7 120.2,561.2 135.2,563.7 150.2,561.2 165.2,562.4 180.3,559.9 195.3,556.2 210.3,553.7 225.3,548.7 240.4,544.9 255.4,543.9 270.4,546.2 285.4,549.9 300.5,553.7 318.0,557.4 368.0,3000.0 -52.5,3000.0"/>
<polygon fill="#5b5bff" points="-2.5,567.4 0.0,567.4 15.0,568.7 30.0,566.2 45.1,567.4 60.1,564.9 75.1,567.4 90.1,566.2 105.2,568.7 120.2,566.2 135.2,568.7 150.2,567.4 165.2,567.4 180.3,566.2 195.3,564.9 210.3,562.4 225.3,558.7 240.4,554.9 255.4,554.2 270.4,556.2 285.4,559.9 300.5,563.2 318.0,566.4 368.0,3000.0 -52.5,3000.0"/>
<polygon fill="#3c3cff" points="-2.5,572.5 0.0,572.5 15.0,573.7 30.0,571.2 45.1,573.2 60.1,571.2 75.1,573.2 90.1,572.5 105.2,573.7 120.2,571.7 135.2,573.7 150.2,572.5 165.2,573.2 180.3,572.5 195.3,572.5 210.3,571.2 225.3,570.0 240.4,570.0 255.4,570.0 270.4,571.2 285.4,572.5 300.5,572.5 318.0,572.5 368.0,3000.0 -52.5,3000.0"/>
</g>
<clipPath id="c18"><rect x="315" y="439" width="315" height="138"/></clipPath>
<g clip-path="url(#c18)">
<rect x="315" y="439" width="315" height="138" fill="#ff9999"/>
<polygon fill="#ff7a7a" points="312.5,433.5 312.5,447.3 315.0,447.3 325.0,444.8 335.0,441.0 340.0,438.5 345.0,436.0 347.5,433.5"/>
<polygon fill="#ff7a7a" points="360.1,433.5 365.1,439.8 375.1,441.5 385.1,439.0 390.1,433.5"/>
<polygon fill="#ffb8b8" points="312.5,474.8 315.0,474.8 327.5,476.1 340.0,474.8 352.6,471.1 365.1,468.5 377.6,467.3 390.1,465.5 402.6,463.5 415.2,462.3 427.7,459.8 440.2,459.0 455.2,457.3 470.2,455.5 485.3,454.0 500.3,452.3 515.3,451.0 530.3,447.3 545.3,448.0 560.4,446.0 575.4,447.3 590.4,448.5 605.4,448.0 620.5,449.0 633.0,449.8 683.0,3000.0 262.5,3000.0"/>
<polygon fill="#ffd7d7" points="312.5,508.6 315.0,508.6 318.8,513.6 327.5,509.9 340.0,506.1 347.5,502.3 357.6,499.8 370.1,496.1 385.1,492.3 397.6,487.3 410.1,486.1 425.2,484.8 440.2,482.3 455.2,481.1 470.2,478.6 485.3,477.3 500.3,478.6 515.3,479.8 530.3,477.3 545.3,476.1 560.4,475.6 575.4,474.8 590.4,473.6 605.4,473.1 620.5,474.8 633.0,476.1 683.0,3000.0 262.5,3000.0"/>
<polygon fill="#d7d7ff" points="312.5,515.6 315.0,515.6 325.0,517.4 335.0,516.1 345.0,513.6 355.1,511.1 365.1,509.9 375.1,511.1 382.6,514.9 390.1,513.6 395.1,519.9 402.6,518.6 408.9,526.1 417.7,522.4 430.2,519.9 442.7,518.6 455.2,516.1 465.2,518.6 469.0,527.4 480.2,529.1 495.3,524.9 510.3,519.9 525.3,516.1 540.3,513.6 555.4,511.1 570.4,510.6 585.4,511.1 600.4,510.6 615.5,509.9 633.0,509.9 683.0,3000.0 262.5,3000.0"/>
<polygon fill="#b8b8ff" points="312.5,526.1 315.0,526.1 327.5,527.4 340.0,528.6 347.5,526.1 357.6,524.9 370.1,529.9 380.1,536.2 390.1,538.7 402.6,536.2 415.2,534.9 427.7,537.4 440.2,538.7 455.2,537.4 470.2,536.2 480.2,534.9 490.3,532.4 500.3,528.6 512.8,524.9 525.3,521.1 540.3,518.1 555.4,516.1 570.4,515.6 585.4,514.9 600.4,514.6 615.5,515.1 633.0,516.1 683.0,3000.0 262.5,3000.0"/>
<polygon fill="#9999ff" points="312.5,549.9 315.0,549.9 330.0,551.2 345.0,552.4 360.1,553.7 375.1,554.9 390.1,555.7 405.1,553.7 420.2,553.2 435.2,551.7 450.2,549.9 465.2,547.4 477.7,543.7 487.8,538.7 497.8,533.6 510.3,529.1 522.8,524.9 537.8,521.6 552.9,519.9 570.4,518.6 585.4,518.1 600.4,518.1 615.5,518.9 633.0,519.9 683.0,3000.0 262.5,3000.0"/>
<polygon fill="#7a7aff" points="312.5,559.9 315.0,559.9 330.0,561.2 345.0,558.7 360.1,560.7 375.1,559.9 390.1,561.2 405.1,559.9 420.2,558.7 435.2,557.4 450.2,555.7 465.2,553.2 480.2,548.7 490.3,543.7 500.3,538.7 512.8,533.6 525.3,529.1 540.3,525.6 555.4,523.6 570.4,522.4 585.4,521.6 600.4,521.4 615.5,522.4 633.0,523.6 683.0,3000.0 262.5,3000.0"/>
<polygon fill="#5b5bff" points="312.5,566.2 315.0,566.2 330.0,567.4 345.0,564.9 360.1,566.7 375.1,565.7 390.1,567.4 405.1,565.7 420.2,564.9 435.2,563.7 450.2,561.7 465.2,559.2 480.2,555.7 495.3,549.9 507.8,543.7 520.3,538.7 532.8,534.9 547.8,531.1 562.9,528.6 577.9,527.4 592.9,526.6 607.9,526.1 620.5,526.6 633.0,527.4 683.0,3000.0 262.5,3000.0"/>
<polygon fill="#3c3cff" points="312.5,573.2 315.0,573.2 330.0,573.7 345.0,571.7 360.1,573.2 375.1,572.5 390.1,573.7 405.1,572.5 420.2,572.5 435.2,571.2 450.2,570.0 465.2,567.4 480.2,563.7 495.3,559.9 510.3,558.7 520.3,553.7 530.3,546.2 540.3,541.2 555.4,538.7 570.4,536.2 585.4,532.4 600.4,530.4 615.5,529.1 633.0,528.6 683.0,3000.0 262.5,3000.0"/>
</g>
<clipPath id="c19"><rect x="630" y="439" width="315" height="138"/></clipPath>
<g clip-path="url(#c19)">
<rect x="630" y="439" width="315" height="138" fill="#ff9999"/>
<polygon fill="#ff7a7a" points="755.2,433.5 770.2,438.5 790.2,439.8 810.3,440.5 830.3,439.0 845.3,441.0 865.4,439.8 880.4,438.5 900.4,439.0 920.4,440.5 945.0,439.8 948.0,433.5"/>
<polygon fill="#ff7a7a" points="662.5,433.5 672.6,438.0 692.6,438.5 707.6,437.3 715.1,433.5"/>
<polygon fill="#ffb8b8" points="627.5,449.8 630.0,449.8 642.5,448.5 655.0,452.3 670.1,453.5 685.1,456.0 700.1,454.0 715.1,457.3 730.2,454.8 745.2,457.3 760.2,461.0 775.2,459.8 790.2,462.3 805.3,461.0 820.3,458.5 835.3,457.3 850.3,461.0 865.4,458.5 880.4,456.0 895.4,457.3 910.4,455.5 925.4,457.3 948.0,456.0 998.0,3000.0 577.5,3000.0"/>
<polygon fill="#ffd7d7" points="627.5,478.6 630.0,478.6 640.0,482.3 652.5,488.6 667.6,487.3 685.1,487.3 700.1,488.6 715.1,491.1 725.1,492.3 737.7,487.3 750.2,486.1 765.2,488.6 780.2,487.3 795.2,486.1 810.3,487.3 825.3,484.8 840.3,484.1 855.3,485.6 870.4,483.6 885.4,484.1 900.4,484.8 915.4,486.1 930.5,487.3 948.0,487.3 998.0,3000.0 577.5,3000.0"/>
<polygon fill="#d7d7ff" points="627.5,509.9 630.0,509.9 645.0,511.1 660.0,509.9 675.1,508.6 690.1,509.9 705.1,507.4 720.1,503.1 735.2,499.8 750.2,497.3 762.7,494.8 770.2,498.6 780.2,501.1 790.2,502.3 800.3,504.9 810.3,503.6 815.3,506.1 825.3,504.9 837.8,503.1 850.3,501.6 865.4,499.8 880.4,498.6 890.4,496.8 900.4,498.6 915.4,500.6 930.5,499.8 948.0,501.6 998.0,3000.0 577.5,3000.0"/>
<polygon fill="#b8b8ff" points="627.5,516.1 630.0,516.1 655.0,515.6 680.1,511.1 695.1,513.6 710.1,509.9 730.2,504.9 745.2,503.1 760.2,507.4 775.2,511.1 785.2,516.1 792.7,521.1 802.8,519.9 810.3,514.9 825.3,511.1 840.3,507.4 855.3,504.9 880.4,504.9 895.4,503.1 915.4,504.9 930.5,504.1 948.0,505.6 998.0,3000.0 577.5,3000.0"/>
<polygon fill="#9999ff" points="627.5,519.9 630.0,519.9 655.0,519.9 680.1,514.9 695.1,516.6 710.1,513.1 730.2,508.6 745.2,507.4 760.2,511.1 772.7,516.1 782.7,522.4 792.7,526.1 805.3,523.6 815.3,518.6 830.3,514.9 845.3,511.1 860.3,509.1 880.4,509.1 895.4,507.4 915.4,509.1 930.5,508.6 948.0,509.9 998.0,3000.0 577.5,3000.0"/>
<polygon fill="#7a7aff" points="627.5,523.6 630.0,523.6 655.0,523.6 680.1,518.6 695.1,520.6 710.1,516.6 730.2,512.4 745.2,511.1 757.7,516.1 770.2,522.4 780.2,528.1 792.7,530.6 805.3,528.1 817.8,523.1 832.8,519.1 847.8,515.6 862.8,513.1 880.4,513.6 895.4,511.6 915.4,513.6 930.5,513.1 948.0,514.9 998.0,3000.0 577.5,3000.0"/>
<polygon fill="#5b5bff" points="627.5,527.4 630.0,527.4 642.5,528.6 655.0,526.6 680.1,522.4 695.1,524.1 710.1,520.6 730.2,516.6 742.7,515.6 752.7,519.9 760.2,526.1 772.7,532.4 785.2,534.1 800.3,534.1 812.8,529.9 825.3,525.6 840.3,522.4 855.3,519.9 870.4,517.4 885.4,518.6 900.4,516.6 915.4,518.6 930.5,518.6 948.0,521.1 998.0,3000.0 577.5,3000.0"/>
<polygon fill="#3c3cff" points="627.5,528.6 630.0,528.6 637.5,532.4 647.5,529.9 660.0,531.1 670.1,527.4 685.1,528.6 700.1,524.9 715.1,521.1 730.2,520.6 742.7,522.4 750.2,526.1 755.2,532.4 770.2,536.2 785.2,537.4 800.3,536.2 810.3,532.4 825.3,529.1 840.3,526.1 855.3,523.6 870.4,522.4 880.4,524.9 895.4,522.4 910.4,524.9 925.4,526.1 935.5,529.9 948.0,527.4 998.0,3000.0 577.5,3000.0"/>
</g>
<clipPath id="c20"><rect x="945" y="439" width="202" height="138"/></clipPath>
<g clip-path="url(#c20)">
<rect x="945" y="439" width="202" height="138" fill="#ff7a7a"/>
<polygon fill="#ff9999" points="829.5,440.5 832.0,440.5 857.0,439.8 882.1,439.0 907.1,439.8 932.2,440.5 957.2,441.5 982.2,443.0 1007.3,444.8 1032.3,447.3 1057.3,448.5 1082.4,451.0 1107.4,451.0 1127.4,448.5 1150.0,447.3 1200.0,3000.0 779.5,3000.0"/>
<polygon fill="#ffb8b8" points="829.5,457.3 832.0,457.3 847.0,459.8 862.0,457.3 882.1,456.0 902.1,458.0 917.1,455.5 932.2,457.3 942.2,456.0 952.2,459.8 967.2,461.0 982.2,463.5 992.2,467.3 1007.3,464.8 1022.3,468.5 1037.3,467.3 1052.3,471.1 1067.4,472.3 1082.4,473.6 1097.4,477.3 1112.4,478.6 1127.4,477.3 1150.0,476.1 1200.0,3000.0 779.5,3000.0"/>
<polygon fill="#ffd7d7" points="829.5,484.1 832.0,484.1 847.0,485.6 862.0,484.8 882.1,486.1 902.1,487.3 917.1,484.8 932.2,488.6 942.2,487.3 952.2,489.8 967.2,492.3 982.2,493.6 997.2,489.8 1012.3,491.1 1027.3,492.3 1042.3,494.8 1057.3,493.1 1072.4,495.6 1087.4,498.1 1102.4,499.8 1117.4,502.3 1132.5,501.1 1150.0,503.1 1200.0,3000.0 779.5,3000.0"/>
<polygon fill="#d7d7ff" points="829.5,502.3 832.0,502.3 857.0,499.8 882.1,498.6 892.1,497.3 907.1,500.6 932.2,501.6 957.2,502.3 982.2,501.1 1002.3,499.8 1017.3,498.6 1032.3,502.3 1047.3,504.9 1062.3,507.4 1077.4,508.6 1092.4,511.1 1107.4,514.9 1117.4,518.6 1124.9,523.6 1132.5,531.1 1136.2,533.6 1141.2,527.4 1150.0,522.4 1200.0,3000.0 779.5,3000.0"/>
<polygon fill="#b8b8ff" points="829.5,508.6 832.0,508.6 857.0,506.1 892.1,504.1 932.2,504.9 957.2,506.9 982.2,506.1 1002.3,504.1 1022.3,504.1 1037.3,507.4 1052.3,510.6 1067.4,512.4 1082.4,514.1 1097.4,516.6 1107.4,519.9 1109.9,526.1 1104.9,532.4 1107.4,538.7 1114.9,542.4 1124.9,546.2 1135.0,543.7 1150.0,541.2 1200.0,3000.0 779.5,3000.0"/>
<polygon fill="#9999ff" points="829.5,512.4 832.0,512.4 857.0,509.9 892.1,508.1 932.2,509.1 957.2,510.6 982.2,509.9 1002.3,507.4 1022.3,508.1 1037.3,511.1 1052.3,514.9 1067.4,517.4 1082.4,519.9 1092.4,523.6 1094.9,529.9 1092.4,536.2 1094.9,543.7 1104.9,549.9 1114.9,553.2 1124.9,556.2 1135.0,553.7 1150.0,549.9 1200.0,3000.0 779.5,3000.0"/>
<polygon fill="#7a7aff" points="829.5,516.1 832.0,516.1 857.0,514.1 892.1,512.4 932.2,513.6 957.2,514.9 982.2,514.1 1002.3,511.1 1022.3,512.4 1037.3,516.1 1052.3,519.9 1067.4,523.1 1079.9,527.4 1084.9,533.6 1082.4,541.2 1084.9,548.7 1094.9,554.9 1107.4,558.7 1117.4,562.4 1127.4,564.9 1137.5,561.2 1150.0,558.7 1200.0,3000.0 779.5,3000.0"/>
<polygon fill="#5b5bff" points="829.5,521.1 832.0,521.1 857.0,519.9 892.1,517.4 932.2,519.1 957.2,519.9 982.2,518.6 1002.3,516.6 1022.3,518.1 1037.3,522.4 1052.3,525.6 1064.8,529.9 1072.4,536.2 1069.9,543.7 1062.3,548.7 1054.8,553.7 1062.3,559.9 1072.4,562.4 1082.4,563.7 1094.9,566.2 1107.4,568.7 1122.4,572.5 1132.5,570.0 1150.0,567.4 1200.0,3000.0 779.5,3000.0"/>
<polygon fill="#3c3cff" points="829.5,527.4 832.0,527.4 844.5,528.1 857.0,525.6 877.1,523.6 892.1,526.1 907.1,527.4 922.1,529.1 937.2,529.9 952.2,527.4 967.2,525.6 982.2,526.1 997.2,529.9 1012.3,533.6 1027.3,532.4 1042.3,532.4 1049.8,536.2 1047.3,542.4 1037.3,546.2 1024.8,551.2 1029.8,554.9 1042.3,558.7 1054.8,566.2 1062.3,563.7 1072.4,566.2 1082.4,570.0 1097.4,571.2 1112.4,573.7 1127.4,577.5 1150.0,575.0 1200.0,3000.0 779.5,3000.0"/>
</g>
<clipPath id="c21"><rect x="20" y="250" width="220" height="102"/></clipPath>
<g clip-path="url(#c21)">
<rect x="20" y="250" width="220" height="102" fill="#ff1c1c"/>
<polygon fill="#ff3c3c" points="33.2,248.2 33.2,251.8 39.3,256.1 48.1,254.4 55.1,257.9 63.9,259.7 67.8,263.2 66.5,268.4 56.9,270.2 49.0,273.7 44.6,279.9 45.5,286.0 41.4,293.9 48.1,298.3 58.6,303.6 69.2,307.6 79.7,304.4 90.2,302.3 99.0,299.2 107.8,295.3 115.7,296.0 121.8,291.3 132.4,289.0 139.4,286.0 141.2,282.5 142.0,287.8 140.3,293.0 149.9,296.0 159.6,300.6 169.3,296.5 178.0,297.1 186.8,301.8 197.3,302.3 204.4,298.3 208.8,293.9 204.4,287.8 197.3,290.4 190.3,282.5 185.1,284.2 174.5,279.9 165.7,277.2 153.5,275.5 145.5,274.6 160.5,272.8 165.7,267.6 172.8,264.9 179.8,265.8 186.8,260.5 195.6,256.1 202.6,251.8 206.1,248.2"/>
<polygon fill="#ff3c3c" points="243.0,299.2 230.7,300.0 223.7,304.4 216.7,311.5 206.1,317.6 197.3,322.0 194.7,329.0 197.3,337.8 202.6,344.8 204.4,353.6 243.0,353.6"/>
</g>
<clipPath id="c22"><rect x="280" y="230" width="420" height="70"/></clipPath>
<g clip-path="url(#c22)">
<rect x="280" y="230" width="420" height="70" fill="#ff3c3c"/>
<polygon fill="#ff1c1c" points="311.7,246.7 316.7,236.7 330.1,231.7 346.8,230.1 363.5,233.4 376.8,238.4 383.5,241.7 393.5,241.7 413.6,243.4 426.9,250.1 446.9,258.4 467.0,261.8 487.0,265.1 507.0,261.8 520.4,255.1 527.1,243.4 533.8,240.1 547.1,245.1 563.8,243.4 580.5,246.7 600.5,245.1 617.2,246.7 633.9,250.1 643.9,243.4 654.0,246.7 670.7,240.1 680.7,236.7 704.0,233.4 704.0,271.8 687.3,275.1 674.0,278.5 660.6,275.1 647.3,271.8 630.6,276.8 620.6,280.1 608.9,283.5 608.9,305.2 610.6,313.5 605.5,321.9 593.9,320.2 573.8,318.5 553.8,316.9 533.8,318.5 513.7,321.9 493.7,328.5 480.3,336.9 477.0,346.9 472.0,360.3 460.3,372.0 443.6,373.6 435.3,370.3 440.3,365.3 446.9,356.9 452.0,346.9 450.3,340.2 453.6,331.9 446.9,315.2 436.9,300.2 426.9,296.8 413.6,288.5 408.5,278.5 393.5,270.8 380.2,265.1 380.2,266.8 376.8,271.8 363.5,271.8 346.8,268.4 336.8,263.4 330.1,258.4 321.7,265.1 315.1,263.4 313.4,256.8"/>
<polygon fill="#ff1c1c" points="276.7,245.1 280.0,246.7 290.0,253.4 300.0,258.4 310.1,263.4 315.1,266.8 311.7,275.1 306.7,281.8 298.4,291.8 288.3,300.2 280.0,306.8 276.7,308.5"/>
<polygon fill="#ff3c3c" points="680.0,260.1 685.7,250.1 697.4,246.1 710.7,246.7 720.7,253.4 720.7,276.8 707.4,278.5 694.0,277.5 684.0,271.8"/>
<polygon fill="#ff5b5b" points="423.6,226.7 446.9,230.1 467.0,230.7 480.3,233.4 485.3,231.7 500.4,231.7 513.7,233.4 520.4,231.7 533.8,228.4 547.1,231.7 567.1,233.4 587.2,230.7 600.5,228.4 617.2,226.7 633.9,229.4 647.3,231.7 657.3,230.1 657.3,223.4 423.6,223.4"/>
</g>
<clipPath id="c23"><rect x="700" y="222" width="245" height="78"/></clipPath>
<g clip-path="url(#c23)">
<rect x="700" y="222" width="245" height="78" fill="#ff1c1c"/>
<polygon fill="#ff3c3c" points="676.7,220.0 680.0,220.0 686.7,225.0 693.4,231.7 700.0,240.1 708.4,250.1 720.1,255.1 733.4,261.8 746.8,263.4 756.8,260.1 766.8,253.4 776.8,250.1 790.2,246.7 803.5,243.4 810.2,233.4 820.2,230.1 830.3,225.0 840.3,221.7 850.3,220.0 860.3,223.4 870.3,230.1 877.0,238.4 883.7,236.7 887.0,230.1 893.7,233.4 900.4,243.4 910.4,246.7 920.4,243.4 930.4,236.7 947.1,233.4 963.8,231.7 980.5,233.4 1030.5,-3000.0 626.7,-3000.0"/>
<polygon fill="#ff5b5b" points="676.7,206.7 680.0,206.7 693.4,213.4 710.1,220.0 723.4,223.4 736.8,220.0 750.1,216.7 760.1,213.4 770.2,211.7 780.2,215.0 790.2,216.7 800.2,220.0 813.6,218.4 826.9,215.0 840.3,211.7 853.6,211.7 867.0,215.0 880.3,220.0 897.0,223.4 913.7,225.0 927.1,221.7 940.4,218.4 953.8,215.0 1003.8,-3000.0 626.7,-3000.0"/>
<polygon fill="#ff3c3c" points="685.0,250.1 693.4,243.4 706.7,245.1 720.1,250.1 730.1,256.8 723.4,266.8 713.4,271.8 700.0,271.8 690.0,266.8"/>
<polygon fill="#ff3c3c" points="680.0,271.8 723.4,271.8 715.1,283.5 706.7,293.5 700.7,303.5 698.4,310.2 680.0,310.2"/>
</g>
<clipPath id="c24"><rect x="540" y="4" width="200" height="88"/></clipPath>
<g clip-path="url(#c24)">
<rect x="540" y="4" width="200" height="88" fill="#5b5bff"/>
<polygon fill="#7a7aff" points="538.4,28.6 540.0,28.6 549.5,26.2 559.1,23.8 568.6,22.3 578.2,19.9 587.7,16.7 597.2,15.1 606.8,13.5 616.3,11.9 625.9,11.1 635.4,11.4 644.9,11.1 651.3,8.7 657.6,7.9 667.2,9.9 676.7,8.7 686.3,7.2 692.6,7.9 702.2,9.5 711.7,8.7 718.1,6.4 727.6,7.9 741.9,8.7 791.9,3000.0 488.4,3000.0"/>
<polygon fill="#9999ff" points="538.4,35.8 540.0,35.8 549.5,32.6 559.1,30.2 568.6,27.8 578.2,25.4 587.7,23.1 597.2,20.7 606.8,19.1 616.3,17.8 625.9,16.7 635.4,17.5 644.9,18.8 654.5,16.7 664.0,15.1 672.0,17.5 679.9,19.1 689.4,17.5 697.4,15.9 705.3,19.1 714.9,19.9 724.4,18.3 734.0,19.9 741.9,19.1 791.9,3000.0 488.4,3000.0"/>
<polygon fill="#b8b8ff" points="538.4,42.9 540.0,42.9 549.5,39.0 559.1,35.8 568.6,33.4 578.2,31.0 587.7,29.4 597.2,27.3 606.8,26.2 616.3,25.1 625.9,23.8 635.4,24.6 644.9,26.2 654.5,25.4 664.0,23.8 673.5,25.4 683.1,27.8 692.6,26.2 702.2,25.4 711.7,27.8 721.2,28.6 730.8,27.0 741.9,27.8 791.9,3000.0 488.4,3000.0"/>
<polygon fill="#d7d7ff" points="538.4,47.7 540.0,47.7 549.5,43.7 559.1,41.0 568.6,39.0 578.2,36.9 587.7,35.0 597.2,33.4 606.8,31.8 616.3,31.0 625.9,30.2 635.4,31.0 644.9,32.6 654.5,31.8 664.0,31.0 673.5,32.6 683.1,34.2 692.6,33.4 702.2,34.2 711.7,35.8 721.2,36.6 730.8,35.8 741.9,36.6 791.9,3000.0 488.4,3000.0"/>
<polygon fill="#ffd7d7" points="538.4,58.8 540.0,58.8 546.4,55.6 552.7,53.3 559.1,50.6 565.4,48.5 571.8,46.1 579.7,43.7 587.7,41.7 597.2,41.0 606.8,41.7 616.3,42.1 625.9,41.7 635.4,41.7 644.9,42.6 654.5,43.7 664.0,42.9 673.5,42.6 683.1,41.7 692.6,42.9 702.2,43.7 711.7,42.1 718.1,41.7 721.2,45.3 724.4,47.7 730.8,46.9 741.9,45.3 791.9,3000.0 488.4,3000.0"/>
<polygon fill="#ffb8b8" points="538.4,65.2 540.0,65.2 549.5,63.6 559.1,61.2 568.6,58.0 578.2,55.6 587.7,54.1 597.2,54.4 606.8,53.7 616.3,52.1 625.9,53.3 633.8,54.8 635.4,58.8 632.2,63.6 629.0,67.6 624.3,70.0 617.9,72.3 611.5,76.3 606.8,81.1 602.0,85.9 597.2,89.0 592.5,93.8 538.4,93.8"/>
<polygon fill="#ff9999" points="538.4,85.9 540.0,85.9 549.5,86.6 559.1,84.3 568.6,81.9 578.2,78.7 584.5,76.3 589.3,75.5 591.7,79.5 590.9,84.3 587.7,89.0 584.5,93.8 538.4,93.8"/>
<polygon fill="#d7d7ff" points="626.6,93.8 627.1,82.7 629.8,74.7 637.0,70.0 648.1,66.8 660.8,65.2 672.0,66.0 683.1,69.2 695.8,72.3 705.3,76.3 713.3,74.7 722.8,72.3 730.8,72.3 741.9,70.7 741.9,93.8"/>
<polygon fill="#b8b8ff" points="697.4,93.8 705.3,86.6 714.9,81.1 724.4,77.9 734.0,75.5 741.9,73.9 741.9,93.8"/>
</g>
<clipPath id="c25"><rect x="900" y="180" width="200" height="92"/></clipPath>
<g clip-path="url(#c25)">
<rect x="900" y="180" width="200" height="92" fill="#d7d7ff"/>
<polygon fill="#ffd7d7" points="898.4,194.3 900.0,193.5 903.2,191.1 907.9,187.9 914.3,184.8 920.7,180.0 922.3,178.4 1376.9,84.6 1426.9,3000.0 848.4,3000.0"/>
<polygon fill="#ffb8b8" points="898.4,197.8 900.0,197.5 909.5,195.9 919.1,195.1 927.0,195.9 935.0,194.3 941.3,191.1 947.7,186.4 952.5,180.0 953.3,178.4 1376.9,84.6 1426.9,3000.0 848.4,3000.0"/>
<polygon fill="#ff9999" points="898.4,200.7 900.0,200.7 909.5,201.5 919.1,201.5 928.6,202.3 938.2,200.7 944.5,199.1 952.5,195.1 960.4,191.1 963.6,189.5 971.5,187.9 979.5,184.8 989.0,180.0 990.6,178.4 1376.9,84.6 1426.9,3000.0 848.4,3000.0"/>
<polygon fill="#ff7a7a" points="898.4,205.4 900.0,205.4 909.5,206.2 919.1,206.2 928.6,207.0 938.2,205.4 946.1,203.1 954.1,199.9 962.0,195.9 968.4,194.3 976.3,191.9 985.9,189.5 995.4,188.7 1001.7,186.4 1011.3,183.2 1020.8,180.0 1022.4,178.4 1376.9,84.6 1426.9,3000.0 848.4,3000.0"/>
<polygon fill="#ff5b5b" points="898.4,210.2 900.0,210.2 909.5,211.8 919.1,211.0 928.6,212.6 938.2,211.0 947.7,207.8 954.1,205.4 962.0,200.7 970.0,199.1 979.5,197.5 989.0,195.1 998.6,193.5 1008.1,192.7 1017.6,191.1 1027.2,191.9 1036.7,190.3 1046.3,189.5 1055.8,188.7 1065.3,187.9 1074.9,188.7 1084.4,187.2 1094.0,186.4 1101.9,185.6 1151.9,3000.0 848.4,3000.0"/>
<polygon fill="#ff3c3c" points="898.4,219.7 900.0,219.7 909.5,220.5 919.1,221.3 925.4,223.7 935.0,222.9 944.5,220.5 954.1,218.2 960.4,215.8 970.0,214.2 979.5,212.6 985.9,214.2 995.4,211.8 1004.9,210.2 1014.5,208.6 1024.0,209.4 1033.5,207.8 1043.1,207.0 1052.6,205.4 1062.2,204.6 1071.7,203.8 1081.2,205.4 1090.8,203.8 1101.9,202.3 1151.9,3000.0 848.4,3000.0"/>
<polygon fill="#ff1c1c" points="898.4,246.8 900.0,246.8 907.9,247.6 915.9,248.4 923.8,245.2 931.8,242.0 941.3,238.8 950.9,237.2 957.2,235.6 966.8,234.8 976.3,233.3 985.9,232.5 995.4,231.7 1004.9,230.9 1011.3,229.3 1020.8,230.9 1030.4,230.1 1039.9,228.5 1049.4,227.7 1059.0,226.1 1066.9,224.5 1074.9,225.3 1084.4,223.7 1094.0,221.3 1101.9,222.1 1151.9,3000.0 848.4,3000.0"/>
</g>
<clipPath id="c26"><rect x="315" y="140" width="200" height="92"/></clipPath>
<g clip-path="url(#c26)">
<rect x="315" y="140" width="200" height="92" fill="#d7d7ff"/>
<polygon fill="#ffd7d7" points="313.4,142.4 315.0,142.4 324.5,141.6 334.1,140.0 335.7,138.4 791.9,44.6 841.9,3000.0 263.4,3000.0"/>
<polygon fill="#ffb8b8" points="313.4,150.3 315.0,150.3 324.5,149.5 334.1,149.5 343.6,151.1 351.6,151.9 362.7,149.5 372.2,147.2 381.8,144.8 391.3,142.4 397.7,140.0 399.3,138.4 791.9,44.6 841.9,3000.0 263.4,3000.0"/>
<polygon fill="#ff9999" points="313.4,156.7 315.0,156.7 324.5,157.5 330.9,160.7 335.7,163.8 343.6,162.3 353.2,159.9 362.7,157.5 372.2,155.1 381.8,151.9 391.3,150.3 400.9,147.9 410.4,147.2 419.9,145.6 426.3,143.2 432.6,140.0 434.2,138.4 791.9,44.6 841.9,3000.0 263.4,3000.0"/>
<polygon fill="#ff7a7a" points="313.4,167.0 315.0,167.0 322.9,167.8 330.9,169.4 340.4,167.8 350.0,165.4 359.5,163.8 369.1,163.8 378.6,161.5 388.1,159.9 397.7,156.7 407.2,155.9 416.7,153.5 426.3,154.3 435.8,149.5 442.2,146.4 450.1,142.4 453.3,140.0 454.9,138.4 791.9,44.6 841.9,3000.0 263.4,3000.0"/>
<polygon fill="#ff5b5b" points="313.4,177.4 315.0,177.4 324.5,180.5 334.1,177.4 343.6,175.8 353.2,174.2 362.7,172.6 372.2,172.6 381.8,171.8 391.3,169.4 400.9,170.2 410.4,168.6 419.9,167.8 429.5,166.2 439.0,164.6 448.5,163.8 458.1,162.3 467.6,161.5 477.2,161.5 486.7,160.7 493.1,158.3 496.2,163.8 502.6,165.4 509.0,164.6 516.9,166.2 566.9,3000.0 263.4,3000.0"/>
<polygon fill="#ff3c3c" points="313.4,198.0 315.0,198.0 324.5,198.0 334.1,197.2 343.6,195.6 353.2,196.4 362.7,196.4 372.2,195.6 381.8,195.3 391.3,196.4 400.9,197.6 410.4,196.4 419.9,198.0 429.5,198.5 439.0,198.8 448.5,202.0 458.1,204.4 467.6,206.8 475.6,210.0 481.9,214.7 485.1,219.5 483.5,224.3 488.3,229.0 494.7,233.8 544.7,3000.0 263.4,3000.0"/>
<polygon fill="#ff1c1c" points="318.2,229.0 324.5,227.4 335.7,228.2 337.3,233.8 316.6,233.8"/>
</g>
<clipPath id="c27"><rect x="330" y="90" width="200" height="92"/></clipPath>
<g clip-path="url(#c27)">
<rect x="330" y="90" width="200" height="92" fill="#5b5bff"/>
<polygon fill="#7a7aff" points="328.4,97.2 330.0,97.2 336.4,97.2 342.7,94.8 347.5,91.6 349.1,88.4 806.9,-5.4 856.9,3000.0 278.4,3000.0"/>
<polygon fill="#9999ff" points="328.4,109.1 330.0,109.1 337.9,109.9 345.9,110.7 352.3,108.3 358.6,109.1 365.0,107.5 371.3,104.3 376.1,99.5 379.3,94.8 382.5,90.0 383.3,88.4 806.9,-5.4 856.9,3000.0 278.4,3000.0"/>
<polygon fill="#b8b8ff" points="328.4,121.8 330.0,121.8 337.9,124.2 345.9,122.6 353.8,120.2 358.6,121.8 365.0,120.2 371.3,117.8 376.1,113.8 379.3,109.1 382.5,102.7 385.6,96.4 390.4,90.0 391.2,88.4 806.9,-5.4 856.9,3000.0 278.4,3000.0"/>
<polygon fill="#d7d7ff" points="328.4,129.0 330.0,129.0 337.9,129.7 345.9,127.4 353.8,124.2 361.8,125.8 368.2,124.2 374.5,121.8 379.3,119.4 384.1,115.4 388.8,109.1 390.4,102.7 393.6,96.4 400.0,90.0 400.7,88.4 806.9,-5.4 856.9,3000.0 278.4,3000.0"/>
<polygon fill="#ffd7d7" points="328.4,143.3 330.0,143.3 336.4,142.5 345.9,140.9 358.6,137.7 369.7,136.1 377.7,132.9 385.6,128.2 395.2,126.6 400.0,121.8 403.1,118.6 404.7,110.7 407.9,104.3 412.7,99.5 425.4,101.1 438.1,99.5 444.5,94.8 450.8,90.0 451.6,88.4 806.9,-5.4 856.9,3000.0 278.4,3000.0"/>
<polygon fill="#ffb8b8" points="328.4,148.8 330.0,148.8 336.4,148.8 345.9,148.0 358.6,147.2 366.6,145.6 374.5,144.1 382.5,145.6 390.4,144.8 396.8,144.1 404.7,142.5 409.5,136.9 415.9,134.5 419.0,129.7 422.2,123.4 424.6,117.0 423.8,110.7 427.0,105.9 434.9,104.3 444.5,101.1 450.8,96.4 457.2,90.0 458.0,88.4 806.9,-5.4 856.9,3000.0 278.4,3000.0"/>
<polygon fill="#ff9999" points="328.4,166.3 330.0,166.3 334.8,164.7 339.5,158.4 349.1,155.2 358.6,153.6 368.2,152.8 377.7,150.4 387.2,151.2 396.8,150.4 406.3,148.0 415.9,145.6 425.4,144.1 431.7,139.3 438.1,134.5 441.3,128.2 447.6,125.8 454.0,121.8 460.4,117.0 465.1,112.3 473.1,109.1 482.6,104.3 489.0,101.1 495.3,97.2 501.7,96.4 511.2,94.0 520.8,91.6 531.9,93.2 581.9,3000.0 278.4,3000.0"/>
<polygon fill="#ff7a7a" points="333.2,183.8 334.8,175.9 339.5,171.1 345.9,167.9 352.3,165.5 360.2,163.1 368.2,162.3 377.7,160.7 387.2,160.0 396.8,158.4 406.3,156.8 415.9,153.6 423.8,152.0 431.7,149.6 441.3,146.4 447.6,144.1 454.0,140.9 460.4,136.9 466.7,135.3 476.3,132.1 485.8,129.7 495.3,125.8 504.9,122.6 511.2,119.4 520.8,120.2 531.9,119.4 581.9,3000.0 283.2,3000.0"/>
<polygon fill="#ff5b5b" points="345.9,183.8 355.4,179.8 365.0,177.4 374.5,175.9 384.1,174.3 393.6,171.9 403.1,170.3 412.7,171.1 422.2,168.7 431.7,167.1 441.3,166.3 450.8,164.7 460.4,162.3 469.9,161.5 479.4,162.3 489.0,161.5 493.8,158.4 496.9,163.1 504.9,164.7 514.4,166.3 520.8,169.5 525.5,172.7 531.9,176.6 581.9,3000.0 295.9,3000.0"/>
</g>
</g>
<clipPath id="cm"><rect x="0" y="4" width="1147" height="573"/></clipPath>
<g clip-path="url(#cm)" fill="none" stroke="#000" stroke-width="1" stroke-linejoin="round" shape-rendering="crispEdges">
<polyline points="0.0,559.9 25.0,560.7 50.1,562.4 75.1,563.2 100.2,562.4 131.4,561.7"/>
<polyline points="86.4,559.9 85.1,556.2 88.9,553.7 82.6,552.4 72.6,549.9 82.6,549.9 100.2,548.7 108.9,546.2 105.2,544.2 87.6,544.2 77.6,541.2 70.1,538.7 72.6,536.2 85.1,537.4 92.6,536.2 107.7,532.4 125.2,530.6 140.2,529.1 155.2,528.1 170.3,524.9 185.3,526.1 200.3,527.4 215.3,528.6 220.3,530.6 230.3,531.1 250.4,529.9 255.4,528.6 247.9,524.9 245.4,522.4 257.9,520.6 270.4,522.4 285.4,523.6 300.5,524.1 315.0,525.6"/>
<polyline points="51.3,543.7 58.8,542.2 67.6,543.7 65.1,545.7 56.3,545.7 51.3,543.7"/>
<polyline points="315.0,523.6 330.0,521.1 340.0,518.6 330.0,517.4 337.5,514.9 347.5,511.1 355.1,506.1 365.1,501.1 375.1,494.8 387.6,491.1 397.6,489.8 390.1,494.8 380.1,498.6 372.6,503.6 370.1,508.6 375.1,511.1 378.8,516.1 381.3,523.6 375.1,528.6 365.1,532.4 352.6,534.1 337.5,534.1 325.0,533.1 323.8,534.9 332.5,537.4 342.5,538.7 330.0,539.2 315.0,538.7"/>
<polyline points="315.0,543.7 330.0,546.2 345.0,548.7 365.1,551.7 385.1,554.9 390.1,554.9 405.1,553.2 425.2,551.7 445.2,549.9 465.2,548.2 480.2,546.2 485.3,543.7 480.2,542.4 465.2,541.2 457.7,541.7 459.0,538.7 475.2,536.2 490.3,534.1 505.3,532.4 515.3,531.1 520.3,527.4 530.3,522.4 540.3,518.6 550.4,516.6 565.4,517.4 575.4,516.6 590.4,515.6 605.4,514.9 620.5,514.9 630.0,514.1"/>
<polyline points="400.1,547.4 410.1,542.4 420.2,539.9 432.7,540.7 435.2,544.9 425.2,546.7 410.1,548.2 400.1,547.4"/>
<polyline points="360.1,546.2 370.1,544.7 381.3,545.2 380.1,547.9 368.8,548.2 360.1,546.2"/>
<polyline points="345.0,543.2 352.6,541.2 357.6,542.7 352.6,544.2 345.0,543.2"/>
<polyline points="630.0,514.9 642.5,515.1 655.0,514.9 667.6,513.1 680.1,509.9 687.6,511.6 695.1,512.4 705.1,509.1 717.6,506.6 730.2,503.6 737.7,501.6 745.2,501.1 752.7,503.1 760.2,504.9 770.2,506.1 780.2,506.9 795.2,507.4 795.7,511.1 790.2,514.1 789.0,519.9 795.2,521.1 802.8,518.6 805.3,515.6 815.3,512.4 825.3,508.6 835.3,506.1 845.3,504.1 855.3,503.1 867.9,503.1 880.4,503.1 890.4,501.6 895.4,499.8 905.4,501.6 917.9,503.1 930.5,501.1 945.0,503.1"/>
<polyline points="832.0,506.1 844.5,504.1 854.5,502.3 857.0,503.6 869.6,503.1 882.1,502.3 892.1,501.1 894.6,503.1 907.1,502.3 919.6,503.6 932.2,501.6 944.7,503.6 957.2,503.6 972.2,503.1 982.2,504.1 992.2,502.3 1001.0,501.1 1001.0,498.6 1004.8,498.6 1004.8,501.6 1017.3,503.1 1032.3,504.1 1039.8,507.4 1052.3,509.1 1064.8,510.6 1077.4,513.1 1089.9,514.9 1102.4,516.6 1117.4,519.1 1114.9,524.9 1104.9,527.4 1094.9,529.9 1091.1,533.6 1094.9,537.4 1104.9,538.7 1113.7,538.2 1102.4,539.9 1092.4,542.4 1084.9,544.9 1078.6,546.7 1084.9,548.7 1089.9,552.4 1097.4,554.2 1107.4,556.2 1119.9,558.2 1132.5,559.2 1147.0,559.9"/>
<polyline points="124.3,68.9 111.5,67.7 95.6,66.1 86.0,64.8 74.9,63.5 63.7,66.1 54.2,69.3 44.6,72.4 51.0,75.6 57.3,77.2 58.9,79.4 51.0,78.8 38.2,81.7 44.6,85.2 60.5,85.2 60.5,88.3 49.4,89.9 46.2,94.7 51.0,97.9 57.3,99.5 57.3,102.7 68.5,103.6 71.7,104.3 70.1,107.4 62.1,112.2 54.2,115.4 48.4,116.7 57.3,115.4 66.9,112.9 76.5,109.0 82.8,104.9 84.4,101.7 89.2,97.9 94.0,95.7 90.8,101.7 97.2,100.1 102.0,97.9 108.3,96.3 114.7,99.5 122.7,99.5 129.0,100.4 137.0,104.3 143.4,107.4 149.7,112.2 156.1,115.4 159.3,118.6 164.1,123.4 167.3,128.1 175.2,131.3 181.0,134.5 183.2,139.3 176.2,136.4 178.4,143.4 178.1,153.6 177.5,161.9 181.6,169.5 184.8,173.3 189.2,180.7 195.9,182.2 200.4,187.0 203.9,192.4 207.1,196.6 207.1,201.3 210.3,204.5 215.1,209.3 218.2,213.1 223.0,217.3 224.6,216.6 221.4,212.5 218.2,206.1 214.1,199.8 208.7,193.4 207.7,189.3 213.5,191.2 215.1,196.6 219.8,201.3 224.6,206.1 229.4,210.9 234.2,215.7 237.4,222.0 237.4,226.2 242.1,230.0 248.5,233.2 254.9,236.4 262.8,239.5 270.8,238.9 274.0,239.5 279.7,244.0 286.7,246.5 294.1,248.5 294.7,249.7 299.5,253.9 300.4,256.1 302.7,258.6 307.4,262.8 309.7,264.4 313.8,267.2 317.6,266.6 318.6,263.4 320.2,261.8 324.3,264.4 326.9,267.6"/>
<polyline points="326.9,262.8 321.8,260.2 315.4,262.5 310.6,260.2 307.4,257.0 306.8,252.3 308.1,243.4 304.3,240.2 299.5,239.9 293.1,240.2 290.6,239.5 292.5,234.8 294.7,226.8 296.3,222.0 291.5,222.0 285.8,223.6 284.5,228.4 282.0,231.6 274.0,232.5 269.2,230.6 266.0,227.4 262.8,220.4 262.2,214.1 263.8,207.7 263.5,202.0 269.2,198.8 274.0,196.3 280.4,196.3 285.1,197.5 289.3,197.8 288.3,194.3 293.1,193.7 299.5,193.7 304.3,195.0 309.0,198.2 310.0,202.0 312.2,206.1 314.8,210.3 317.6,209.9 318.6,205.2 316.7,199.8 314.5,195.0 315.4,188.6 320.2,185.4 325.0,182.2 329.8,180.0 332.6,178.1 331.3,172.7 332.9,169.5 337.1,164.7 337.7,161.6 344.1,160.0 350.5,157.7 348.2,154.6 350.5,151.1 355.2,149.1 360.0,147.2 366.4,145.6 368.0,146.3 363.2,152.0 369.6,148.8 379.1,146.3 382.3,144.1 380.7,140.9 375.9,144.7 369.6,143.1 367.0,138.3 363.2,137.0 366.4,134.5 360.0,134.5 353.6,137.7 347.3,141.5 350.5,139.3 356.8,134.5 361.6,130.7 372.8,130.4 382.3,130.4 387.1,127.2 395.1,125.0 395.1,120.2 388.7,117.0 382.3,113.8 377.5,109.0 375.9,104.3 369.6,98.5 363.2,102.7 356.8,104.3 352.1,102.7 352.1,96.3 344.1,93.8 337.7,92.2 326.6,91.5 325.0,96.3 326.6,101.1 323.4,103.6 328.2,109.0 329.8,113.8 321.8,117.0 320.2,125.0 322.4,126.5 317.0,127.5 311.6,122.4 311.3,115.4 302.7,114.5 293.1,110.6 285.1,108.4 278.8,109.0 277.2,103.6 272.4,102.7 271.4,97.9 277.2,93.1 283.6,89.9 286.7,86.8 293.1,86.8 296.3,82.6 299.5,79.4 307.4,79.8 313.8,77.2 313.8,72.4 310.6,68.6 302.7,68.6 293.1,71.8 286.7,72.4 283.6,69.3 277.2,62.9 270.8,61.3 267.6,67.7 274.0,70.8 267.6,73.4 258.1,74.0 248.5,74.7 235.8,72.4 227.8,75.6 223.0,74.0 211.9,74.7 205.5,71.5 191.2,69.3 176.8,67.7 168.9,67.0 164.1,66.1 156.1,67.7 149.7,69.3 140.2,70.8 130.6,68.9 124.3,68.9"/>
<polyline points="124.3,68.9 124.3,98.5"/>
<polyline points="181.0,134.5 270.8,134.5 271.4,133.5 280.4,136.7 288.3,137.7 291.5,136.7 304.3,142.5 307.4,144.1 310.6,146.3 310.6,153.6 309.0,156.8 315.4,155.8 321.8,153.9 321.8,152.0 329.8,150.4 334.5,147.2 345.7,147.2 348.9,144.1 353.6,139.6 357.5,140.9 357.5,145.0 360.0,147.2"/>
<polyline points="200.4,187.0 207.7,187.0 219.8,190.8 228.8,190.8 228.8,189.3 234.2,189.3 240.5,196.3 245.3,198.2 246.9,195.6 251.7,196.6 256.5,202.9 258.1,206.4 263.8,207.7"/>
<polyline points="279.7,244.0 282.0,239.5 285.1,239.5 283.6,235.7 283.6,233.8 289.3,233.8 289.3,239.5 290.6,239.5"/>
<polyline points="289.3,239.5 289.0,244.6 286.7,246.5"/>
<polyline points="289.0,244.6 291.5,245.9 294.1,248.5"/>
<polyline points="294.7,249.7 297.9,246.5 302.7,244.0 308.1,243.4"/>
<polyline points="300.4,256.1 304.3,255.5 306.8,256.1"/>
<polyline points="309.7,264.4 309.7,260.2"/>
<polyline points="340.9,41.6 356.8,48.6 350.5,47.0 363.2,48.6 382.3,48.6 388.7,51.7 396.7,61.3 399.8,66.1 411.0,69.3 403.0,72.4 404.6,80.4 409.4,86.8 415.8,93.1 420.6,96.3 430.1,99.5 436.5,98.9 438.1,93.1 444.4,85.2 455.6,81.3 468.3,75.6 487.5,72.4 500.2,67.7 503.4,62.9 497.0,59.7 506.6,54.9 509.8,50.2 512.9,45.4 506.6,42.2 516.1,37.4 519.3,35.2 509.8,33.6 528.9,32.0 506.6,29.5 477.9,25.3 452.4,24.7 430.1,27.9 407.8,28.8 382.3,29.5 372.8,32.0 356.8,34.2 363.2,37.4 340.9,41.6"/>
<polyline points="497.0,82.0 503.4,79.1 516.1,79.8 525.7,79.4 530.2,83.6 525.7,85.8 514.5,88.7 506.6,87.4 501.2,87.4 503.4,85.2 497.0,83.6 503.4,82.6 497.0,82.0"/>
<polyline points="302.7,220.8 309.0,217.3 315.4,216.6 325.0,219.5 332.9,224.6 337.1,226.2 326.6,227.1 327.5,224.9 323.4,222.0 313.8,219.8 307.4,219.8 302.7,220.8"/>
<polyline points="336.4,231.9 340.9,227.1 345.0,227.8 350.5,227.4 355.6,231.3 352.1,231.9 345.7,234.1 342.5,232.5 336.4,231.9"/>
<polyline points="345.0,227.8 345.0,233.2"/>
<polyline points="324.0,232.2 330.4,232.5 328.2,233.8 324.0,232.2"/>
<polyline points="359.4,231.9 364.5,231.9 363.2,233.2 359.4,233.2 359.4,231.9"/>
<polyline points="384.6,139.0 388.7,132.9 392.5,127.2 396.3,126.5 395.1,131.3 401.4,132.9 404.6,136.1 405.6,139.3 403.0,141.8 398.2,140.9 395.1,139.3 384.6,139.0"/>
<polyline points="164.7,128.8 173.6,130.7 180.0,136.1 175.2,135.1 167.3,131.3 164.7,128.8"/>
<polyline points="377.5,78.8 369.6,83.6 361.6,89.9 366.4,93.1 356.8,91.5 347.3,87.4 336.1,85.2 325.0,85.2 328.2,82.0 337.7,82.0 339.3,74.0 328.2,69.3 321.8,67.7 302.7,67.7 289.9,66.1 289.9,56.5 302.7,55.9 317.0,56.5 325.0,58.7 337.7,62.9 347.3,64.5 356.8,67.7 360.0,71.5 369.6,75.6 377.5,78.8"/>
<polyline points="175.2,61.3 181.6,63.8 194.3,62.9 205.5,58.1 199.1,54.3 184.8,53.3 176.8,56.5 175.2,61.3"/>
<polyline points="200.7,68.0 213.5,72.1 229.4,72.1 242.1,71.2 250.1,68.9 245.3,66.1 238.9,64.5 238.9,58.7 229.4,57.5 219.8,58.7 210.3,57.2 197.5,59.1 194.3,62.9 200.7,66.1 200.7,68.0"/>
<polyline points="254.9,71.2 264.4,69.3 266.0,71.8 258.1,72.4 254.9,71.2"/>
<polyline points="248.5,62.9 261.3,63.5 266.0,59.1 261.3,54.9 251.7,55.9 248.5,59.7 248.5,62.9"/>
<polyline points="269.2,61.3 286.7,55.2 272.4,54.6 269.2,61.3"/>
<polyline points="267.6,50.2 280.4,53.0 293.1,53.3 318.6,53.0 318.6,50.2 312.2,48.6 289.9,47.0 280.4,46.7 267.6,50.2"/>
<polyline points="286.7,47.0 302.7,43.8 325.0,46.0 325.0,40.6 334.5,39.0 347.3,35.8 366.4,31.1 375.9,27.9 350.5,26.3 318.6,26.3 293.1,29.5 283.6,32.6 299.5,34.9 293.1,39.0 299.5,42.2 286.7,47.0"/>
<polyline points="267.6,41.6 280.4,40.6 296.3,37.4 286.7,32.6 270.8,35.8 267.6,41.6"/>
<polyline points="197.5,50.2 216.6,53.3 235.8,51.7 235.8,48.6 223.0,47.0 203.9,47.0 197.5,50.2"/>
<polyline points="238.9,49.2 262.8,51.7 261.3,47.0 248.5,47.0 238.9,49.2"/>
<polyline points="181.6,48.6 197.5,48.6 203.9,43.8 191.2,43.8 181.6,48.6"/>
<polyline points="299.5,81.7 305.9,82.9 318.6,87.7 309.0,90.6 296.3,87.7 299.5,81.7"/>
<polyline points="25.5,88.3 35.0,89.9 31.9,87.7 25.5,88.3"/>
<polyline points="6.4,125.6 12.7,125.3"/>
<polyline points="17.5,124.3 25.5,124.0"/>
<polyline points="35.0,122.4 43.0,119.5"/>
<polyline points="86.0,106.5 81.2,109.0 87.6,107.4 86.0,106.5"/>
<polyline points="326.9,262.8 331.3,260.9 332.9,256.4 337.1,254.8 344.1,251.6 345.7,255.5 344.1,260.2 347.3,260.2 345.7,255.5 350.5,251.6 355.2,254.5 356.8,257.0 363.2,256.7 368.0,258.0 375.9,256.4 379.1,259.3 377.5,263.4 382.3,264.1 387.1,268.2 391.9,271.4 398.2,271.4 403.0,273.0 407.8,275.5 411.0,277.7 414.2,284.7 414.2,290.5 419.0,295.2 426.9,293.7 431.7,299.1 439.7,299.4 446.0,299.4 450.8,302.2 455.6,305.7 461.3,308.0 462.6,314.3 461.3,320.7 455.6,325.5 450.8,331.8 449.2,338.2 449.2,346.2 446.0,353.5 442.9,360.5 436.5,363.7 430.7,364.6 425.3,367.5 419.0,372.6 418.6,380.5 414.2,386.0 407.2,393.0 403.0,398.7 398.6,401.6 393.5,401.2 387.4,398.7 391.2,403.5 392.8,406.6 389.6,412.1 379.1,414.6 375.3,414.6 375.0,420.3 366.4,421.0 370.2,425.7 366.4,428.9 364.8,433.7 358.4,436.9 363.2,441.7 358.4,448.0 353.6,452.2 355.6,456.9 347.3,458.5 347.3,461.7 337.7,459.2 334.5,452.8 332.9,444.8 336.1,438.5 339.3,430.5 340.9,424.2 338.4,417.8 339.3,408.9 342.5,403.5 345.7,393.9 345.7,386.0 347.3,378.0 348.9,371.6 349.2,365.3 349.8,357.3 349.5,349.0 345.7,345.5 339.3,342.0 331.3,336.6 327.5,328.7 323.4,320.7 319.2,313.4 314.8,309.6 314.5,304.2 317.6,301.3 318.6,298.4 315.4,297.5 317.0,293.3 318.6,288.9 322.4,286.0 323.4,282.5 326.6,278.4 327.2,273.0 326.9,267.6"/>
<polyline points="354.9,458.2 355.9,460.1 361.6,464.9 365.8,464.6 356.8,467.1 348.9,465.5 340.9,462.4 347.3,461.7"/>
<polyline points="379.1,454.4 383.9,453.8 389.3,454.7 385.5,456.9 379.1,454.4"/>
<polyline points="326.9,267.6 327.5,265.3 326.9,262.8"/>
<polyline points="344.1,251.6 341.5,256.1 342.5,261.8 343.1,266.6 350.5,268.2 358.4,270.7 358.4,276.1 360.0,284.1 360.3,286.7"/>
<polyline points="360.3,286.7 351.1,285.1 350.5,288.9 350.5,303.8"/>
<polyline points="350.5,303.8 341.5,306.4 338.4,313.7 341.5,320.4 348.9,320.7 348.9,325.5 352.1,325.5"/>
<polyline points="322.4,286.0 326.6,288.2 333.6,290.8 333.6,293.7 324.0,301.3 321.8,306.4 317.6,301.3"/>
<polyline points="333.6,290.8 339.3,297.5 350.5,298.4 350.5,303.8"/>
<polyline points="352.1,325.5 354.6,330.3 353.6,339.2 352.1,346.2 349.5,349.0"/>
<polyline points="352.1,346.2 355.2,352.5 356.2,358.9 360.0,363.7 355.2,368.5 355.2,376.4 350.5,386.0 348.9,395.5 350.5,403.5 347.3,413.0 344.7,424.2 344.1,440.1 340.9,449.6 344.1,456.0 355.6,456.9"/>
<polyline points="360.0,363.7 364.8,360.5 373.7,361.1 376.9,364.6 388.7,370.0 390.0,371.6 386.8,377.0 395.1,377.4 399.5,372.0 400.5,366.9 396.7,366.9 396.0,361.5 388.7,360.5 388.1,354.8 376.6,352.9 373.7,361.1"/>
<polyline points="388.1,354.8 390.0,347.8 382.3,342.0 381.4,334.4 374.4,332.5 365.1,322.3 365.1,321.3 354.6,325.5 352.1,325.5"/>
<polyline points="395.1,377.4 402.1,377.0 390.0,386.6 388.1,393.9 387.4,398.7"/>
<polyline points="390.0,386.6 395.1,388.5 403.0,394.9 403.0,398.7"/>
<polyline points="360.3,286.7 364.8,287.9 369.6,285.7 369.6,277.1 379.1,276.1 380.1,273.9 377.5,263.4"/>
<polyline points="380.1,273.9 383.0,276.1 382.3,282.5 386.1,286.3 391.9,284.1 390.9,279.3 388.7,277.1 391.2,271.4"/>
<polyline points="391.9,284.1 395.7,283.1 399.8,283.1 401.4,279.3 400.2,274.6 401.4,272.0"/>
<polyline points="399.8,283.1 406.2,283.1 409.1,277.1"/>
<polyline points="606.9,101.7 599.0,105.9 591.0,103.3 589.4,96.3 594.2,90.6 605.3,86.8 613.3,80.4 619.7,74.0 627.6,70.2 637.2,67.7 646.8,65.1 656.3,64.5 664.3,65.1 672.2,67.0 669.1,68.6 678.6,69.6 688.2,70.2 700.9,75.0 704.1,78.8 696.1,80.1 685.0,78.8 677.0,77.2 683.4,82.0 685.0,85.8 693.0,87.1 693.0,85.2 700.9,84.8 702.5,81.0 708.9,79.1 713.7,79.8 712.1,73.4 720.0,74.0 721.6,77.5 729.6,74.0 742.3,72.4 748.7,72.4 758.3,71.2 766.2,68.6 779.0,69.9 786.9,71.5 791.7,70.8 786.9,64.5 786.9,58.7 796.5,57.5 804.5,62.9 804.5,72.4 806.1,78.2 809.2,74.0 812.4,62.9 822.0,60.7 830.0,56.5 849.1,55.2 850.7,51.7 866.6,48.9 885.7,47.6 904.8,43.5 914.4,46.3 930.3,47.0 935.1,54.9 923.9,55.6 933.5,55.9 949.4,56.5 965.4,58.1 978.1,59.7 986.1,64.5 997.2,62.9 1010.0,62.9 1019.5,59.4 1038.6,60.3 1053.0,63.5 1060.9,64.8 1080.1,65.4 1083.2,68.9 1099.2,69.3 1111.9,70.8 1118.3,67.7 1134.2,68.3 1147.0,70.8"/>
<polyline points="0.0,70.8 12.7,74.7 25.5,77.8 32.8,80.1 23.9,85.2 14.3,84.2 4.8,79.8 0.0,82.0"/>
<polyline points="1147.0,82.0 1140.6,85.2 1137.4,91.5 1124.7,94.7 1115.1,99.5 1102.4,99.5 1094.4,105.9 1089.6,110.6 1092.8,115.4 1088.0,116.4 1083.2,121.1 1078.5,124.3 1072.7,128.1 1070.5,121.8 1069.9,112.2 1073.7,106.5 1083.2,97.9 1092.8,93.1 1083.2,94.7 1072.1,94.7 1067.3,101.1 1054.6,101.7 1038.6,101.4 1027.5,102.0 1013.1,109.0 1005.2,115.4 1011.6,118.6 1021.1,120.2 1023.7,124.0 1021.1,131.3 1020.5,136.7 1014.7,142.5 1006.8,148.8 998.8,153.6 992.4,153.6 989.3,155.2 986.7,160.0 980.7,163.8 982.9,167.9 986.1,174.3 985.1,178.4 976.5,180.7 976.5,175.9 977.5,171.1 971.7,169.5 972.7,164.7 969.5,163.1 961.2,166.3 960.6,160.6 952.6,165.7 948.5,167.3 952.6,171.7 959.0,170.5 963.8,172.7 957.4,175.2 953.6,179.1 957.4,183.8 961.5,189.3 960.6,193.4 962.2,195.6 960.6,200.4 955.8,205.5 952.6,210.3 947.8,214.7 941.5,218.2 936.0,219.8 928.7,222.0 924.9,224.3 923.3,222.0 917.6,222.0 913.4,224.9 910.6,230.0 914.4,236.4 919.2,240.2 921.4,247.5 920.8,252.9 914.4,257.0 908.0,261.8 908.0,258.0 903.2,256.1 899.4,251.6 894.9,247.8 892.1,250.7 890.5,257.0 892.7,263.4 895.3,268.8 900.0,272.0 903.2,277.7 905.5,286.0 901.6,284.7 896.2,280.9 893.4,273.0 891.1,269.8 886.7,265.0 887.6,258.6 887.3,250.7 884.8,242.7 884.1,238.0 879.3,237.0 873.9,239.5 873.9,231.6 871.4,227.4 867.2,223.6 866.0,219.5 861.8,220.4 857.0,221.1 850.7,222.0 849.1,226.8 844.3,228.4 836.3,237.0 829.0,241.1 829.0,248.5 827.7,257.7 825.2,260.9 822.0,263.4 820.4,264.7 816.3,259.3 812.4,250.7 809.2,242.7 806.1,234.8 805.4,229.4 805.1,223.6 804.5,220.4 798.1,224.3 793.3,219.5 796.5,217.9 791.7,215.7 787.9,211.5 785.3,209.6 777.4,210.3 769.4,210.3 761.5,209.6 755.7,208.3 753.5,204.5 747.1,205.8 740.7,202.9 736.0,198.8 733.4,195.0 729.0,194.0 726.4,195.6 728.6,199.8 732.8,205.5 733.4,208.3 736.0,210.9 737.9,208.0 736.9,212.5 740.7,213.4 747.1,213.1 751.9,208.3 753.2,206.8 753.5,212.5 760.8,215.7 764.0,218.9 759.9,225.2 757.3,230.0 750.3,234.8 740.7,238.6 729.6,245.0 716.9,249.7 712.1,250.0 709.8,242.7 708.9,237.0 704.1,230.0 698.4,222.0 694.5,214.1 689.8,207.7 685.0,201.3 684.4,196.6 682.8,201.3 682.4,202.0 680.2,200.7 677.3,195.3"/>
<polyline points="676.4,190.8 682.4,190.8 685.0,186.1 687.2,180.7 688.2,175.9 688.8,173.3 683.4,173.7 675.4,175.6 670.7,174.3 665.9,174.9 660.5,172.7 657.9,167.9 658.5,164.7 657.0,163.1 661.1,161.6 665.9,160.0 672.2,159.3 678.6,156.8 685.0,156.8 688.2,158.4 694.5,160.0 700.9,160.0 705.7,158.1 704.1,153.6 697.7,150.4 693.0,147.2 694.5,144.1 698.4,140.2 693.0,140.9 685.6,143.1 686.6,146.3 680.2,148.8 678.6,144.7 673.8,142.1 671.3,142.8 668.1,146.3 664.6,150.4 662.7,153.6 662.1,155.8 663.3,158.4 665.9,160.0"/>
<polyline points="657.0,163.1 656.3,160.6 651.5,160.6 649.3,162.5 646.1,161.6 646.1,165.4 649.9,169.5 647.4,169.8 646.8,174.3 645.2,174.3 642.6,173.3 641.0,170.2 641.0,168.6 638.8,165.4 635.6,161.6 635.6,157.4 632.4,155.2 626.0,152.0 621.3,148.8 619.0,146.3 616.8,147.2 617.1,145.0 612.7,146.0 612.7,149.5 616.8,152.0 618.7,155.5 624.5,157.1 630.8,161.2 632.4,162.8 627.6,161.6 626.0,164.7 628.0,166.3 624.8,169.5 623.5,169.5 624.5,166.3 622.9,163.1 619.7,160.9 613.3,158.4 608.5,155.2 606.3,152.0 603.7,149.5 599.6,150.4 597.4,151.1 592.6,153.3 587.8,152.3 583.7,153.6 583.7,156.8 579.9,159.0 575.1,161.6 572.5,164.7 574.1,167.0 571.2,170.5 567.1,173.3 559.1,173.7 556.0,175.9 553.4,173.7 549.9,172.1 545.1,172.7 545.4,167.9 543.2,167.0 545.4,162.5 545.4,156.8 544.2,153.6 548.0,151.4 556.0,151.7 562.3,152.0 567.7,152.3 569.7,148.8 569.7,144.1 566.5,140.2 559.1,138.3 558.5,136.4 563.9,135.1 568.7,135.5 567.7,132.3 570.3,133.2 574.1,132.9 578.3,130.7 579.2,128.1 584.6,126.5 587.8,123.4 589.4,120.8 595.8,120.2 600.6,119.2 601.5,116.0 599.6,113.8 599.6,109.0 606.9,106.8 606.3,110.6 605.3,113.8 604.4,116.0 608.5,118.6 613.3,117.3 618.7,118.6 626.0,117.0 632.4,116.4 636.6,117.3 640.4,114.5 640.4,109.0 645.2,106.8 649.9,109.0 651.2,104.9 648.4,102.0 653.1,101.1 662.7,101.1 669.7,99.8 664.3,97.9 656.3,98.2 646.8,99.8 642.0,97.6 642.0,93.1 641.3,89.3 651.5,84.2 654.1,82.0 645.2,81.0 642.0,85.2 634.0,89.0 628.6,93.1 628.3,97.3 633.4,100.1 630.8,101.7 626.0,104.3 626.0,109.0 624.5,111.6 619.0,113.8 614.9,114.1 613.9,111.6 611.1,106.5 609.2,102.7 606.9,101.7"/>
<polyline points="555.3,131.3 562.3,130.4 568.7,129.1 577.6,127.5 576.0,126.5 578.9,122.7 574.1,121.8 573.5,119.5 568.7,115.4 567.1,112.2 563.3,112.2 567.1,107.1 560.7,107.1 563.9,103.9 557.5,103.9 555.0,107.4 555.6,111.3 557.5,113.8 558.2,116.4 562.3,115.7 563.9,119.2 559.1,120.8 560.1,123.4 556.9,125.6 563.3,126.9 559.8,128.1 555.3,131.3"/>
<polyline points="554.4,124.3 553.7,120.2 556.0,117.0 550.2,114.5 546.4,117.0 541.6,118.0 543.2,121.1 540.7,125.0 543.2,126.5 548.0,125.6 554.4,124.3"/>
<polyline points="599.6,159.3 604.4,159.6 604.1,165.7 600.6,166.3 599.6,159.3"/>
<polyline points="601.2,153.9 603.7,153.9 603.1,158.4 601.2,157.4 601.2,153.9"/>
<polyline points="613.3,169.5 622.9,168.9 621.6,173.7 613.3,170.8 613.3,169.5"/>
<polyline points="648.4,177.5 657.3,178.4 651.5,179.1 648.4,177.5"/>
<polyline points="676.4,179.1 683.4,177.2 681.2,179.7 677.0,180.0 676.4,179.1"/>
<polyline points="677.3,195.3 676.4,190.8 672.2,190.2 668.4,191.2 659.5,190.8 653.1,189.6 646.8,186.4 642.0,186.1 637.2,189.3 635.6,193.4 630.8,193.4 622.9,190.2 621.3,187.3 614.9,185.7 608.5,184.8 606.0,182.2 608.5,177.5 606.9,173.3 605.3,171.7 600.6,172.7 589.4,173.3 583.0,173.0 573.5,176.5 567.1,178.7 556.6,176.5 554.4,176.8 551.8,182.2 544.2,187.0 542.3,190.5 542.6,195.0 536.8,200.4 532.1,202.3 527.3,207.1 522.5,214.7 519.3,223.6 521.5,230.0 520.9,239.5 517.7,243.7 520.0,248.1 520.3,251.3 525.7,255.5 529.8,260.2 532.1,264.1 536.8,268.5 544.2,274.6 549.6,276.5 559.1,273.9 567.1,275.2 576.7,272.0 584.3,270.1 587.8,270.7 591.0,275.8 594.2,276.8 600.6,275.8 604.4,278.4 604.7,283.1 603.1,288.9 601.5,293.0 604.7,298.4 609.2,303.2 611.7,307.0 612.7,309.6 615.9,317.5 617.4,324.5 616.5,330.3 612.7,336.6 611.1,343.9 612.7,350.3 615.9,356.7 619.7,363.0 620.6,370.0 623.8,379.0 627.0,382.8 630.8,391.7 631.8,398.7 637.2,401.2 645.2,398.7 655.4,398.7 661.1,396.5 669.1,389.8 672.9,385.0 678.0,377.0 678.0,372.3 685.9,366.9 686.6,360.5 684.4,354.1 689.8,349.4 697.7,343.9 703.2,338.2 702.5,330.3 702.2,323.9 699.3,317.5 698.7,312.1 697.1,308.0 700.0,303.2 702.5,298.4 705.7,295.9 712.1,288.9 720.0,282.5 726.4,276.1 731.2,268.2 735.3,260.2 736.6,252.9 729.6,254.5 723.2,255.1 715.3,257.4 711.4,253.9 710.5,250.0 705.1,244.3 699.3,240.8 696.1,233.2 692.3,228.4 692.0,222.0 686.9,214.7 683.4,207.7 680.2,202.0 677.3,195.3"/>
<polyline points="730.5,328.7 733.7,339.8 731.2,347.8 728.0,357.3 723.9,369.4 717.5,371.6 713.7,366.9 711.4,360.5 714.6,354.1 714.3,344.6 720.0,340.8 724.8,336.6 730.5,328.7"/>
<polyline points="935.1,360.5 937.3,359.9 945.6,355.7 952.6,354.1 960.6,350.9 963.1,345.5 967.0,345.5 971.7,339.8 977.5,335.0 982.2,337.6 986.1,337.6 989.3,330.3 995.6,327.1 1003.6,329.3 1009.3,329.3 1006.8,333.4 1005.2,338.2 1011.6,341.4 1017.9,346.2 1022.1,346.2 1024.9,338.2 1024.3,331.2 1027.5,324.5 1030.7,330.3 1031.6,336.6 1036.4,338.2 1038.6,346.2 1040.2,350.9 1046.6,355.1 1049.8,360.5 1053.9,365.3 1060.3,371.6 1061.6,378.0 1062.5,382.8 1060.9,389.1 1057.1,395.5 1054.6,399.3 1052.3,405.1 1051.4,409.8 1045.0,411.4 1039.6,414.6 1034.8,412.1 1030.7,414.0 1022.7,412.1 1018.9,408.2 1016.3,404.1 1013.8,403.5 1013.1,399.3 1012.2,395.5 1010.0,398.7 1006.8,401.2 1004.2,400.3 1001.0,394.9 994.0,392.3 984.5,391.1 974.9,393.3 968.5,395.5 967.0,398.7 955.8,398.7 949.4,401.9 943.1,401.2 939.9,399.6 942.1,392.3 939.9,386.0 937.3,378.0 934.5,372.6 935.1,366.9 935.1,360.5"/>
<polyline points="1034.5,420.0 1040.2,421.3 1045.6,420.3 1046.0,424.2 1043.4,428.9 1038.6,428.9 1036.4,425.1 1034.5,420.0"/>
<polyline points="1123.7,400.0 1128.8,403.5 1132.6,407.6 1134.2,409.8 1140.6,410.2 1141.5,413.0 1137.4,416.2 1135.2,421.0 1131.0,422.6 1130.4,420.3 1131.7,417.8 1127.2,415.6 1130.1,411.4 1129.4,406.6 1124.7,401.9 1123.7,400.0"/>
<polyline points="1123.7,419.4 1128.5,421.6 1127.8,424.2 1124.0,428.9 1119.2,431.5 1117.6,436.3 1113.5,438.5 1108.7,438.5 1103.9,436.9 1108.7,431.5 1116.7,427.3 1121.5,422.6 1123.7,419.4"/>
<polyline points="990.5,182.2 995.6,177.5 1003.6,176.8 1009.3,173.3 1010.9,171.1 1014.7,171.7 1017.9,167.9 1019.5,163.1 1020.5,159.3 1023.7,158.7 1024.3,161.6 1025.9,164.7 1022.7,168.6 1022.7,173.3 1021.1,176.8 1018.9,179.1 1015.7,180.0 1010.0,180.3 1009.3,181.3 1006.1,183.8 1003.6,181.3 998.8,181.0 994.0,182.2 990.5,182.2"/>
<polyline points="1020.5,158.4 1019.5,155.2 1021.1,152.6 1024.9,146.0 1029.1,148.8 1036.4,149.5 1037.0,152.6 1032.3,153.6 1030.0,156.8 1024.9,154.9 1022.4,155.2 1022.7,157.4 1020.5,158.4"/>
<polyline points="990.5,182.6 993.1,183.5 993.7,186.1 992.1,190.5 989.9,191.5 988.3,188.6 986.7,185.4 988.9,183.5 990.5,182.6"/>
<polyline points="995.6,182.2 1001.0,181.3 1002.6,182.9 1001.0,184.5 997.2,186.1 995.6,184.5 995.6,182.2"/>
<polyline points="1025.9,117.6 1029.1,121.8 1030.0,128.1 1029.7,133.5 1034.5,135.1 1029.1,140.9 1030.7,143.4 1025.9,144.1 1026.5,137.7 1025.9,131.3 1024.9,125.0 1025.9,117.6"/>
<polyline points="960.6,210.3 961.9,212.5 959.0,219.5 956.4,217.9 956.4,214.7 959.0,210.9 960.6,210.3"/>
<polyline points="925.5,226.8 927.1,228.1 923.9,231.9 919.8,230.6 919.8,228.4 922.3,226.8 925.5,226.8"/>
<polyline points="828.4,259.3 832.2,263.4 834.1,268.2 831.5,270.7 829.0,271.4 827.7,268.2 827.7,263.4 828.4,259.3"/>
<polyline points="877.1,272.6 884.1,273.9 888.9,279.0 893.7,283.5 901.6,288.9 906.4,293.7 911.2,300.0 910.6,308.9 906.4,308.9 899.4,303.2 895.3,298.4 888.9,290.5 884.8,283.5 877.7,276.1 877.1,272.6"/>
<polyline points="908.6,312.1 913.7,309.6 919.2,311.2 926.5,310.8 932.5,312.4 938.3,315.3 937.6,317.8 927.1,316.9 917.6,315.3 912.8,314.0 908.6,312.1"/>
<polyline points="920.8,285.7 923.9,285.1 928.1,282.5 933.5,280.3 939.9,274.6 945.6,268.2 948.5,270.4 952.6,273.9 949.4,276.8 948.8,280.9 949.4,286.7 947.8,290.5 944.6,295.2 943.7,301.6 938.9,303.2 933.5,300.7 929.7,301.6 924.6,299.4 923.9,294.6 920.8,290.5 920.8,285.7"/>
<polyline points="955.8,287.9 959.0,286.3 965.4,287.6 971.7,285.4 970.1,288.9 965.4,289.2 959.0,289.2 956.8,293.3 960.6,293.3 966.3,293.0 963.8,296.2 960.6,296.8 963.1,301.6 965.4,304.2 963.8,307.3 961.2,305.7 959.0,299.4 957.1,300.0 957.1,308.0 954.2,308.0 954.2,301.6 952.6,298.4 955.2,291.1 955.8,287.9"/>
<polyline points="990.8,293.0 995.6,291.7 1000.4,293.0 1002.0,298.4 1005.2,301.0 1011.6,295.6 1017.9,297.5 1022.7,298.7 1033.9,302.6 1038.0,307.0 1043.4,309.6 1041.8,312.1 1046.6,318.5 1053.0,323.9 1050.7,323.3 1043.4,322.3 1038.6,316.9 1033.9,315.0 1030.7,318.5 1025.9,319.8 1022.7,319.4 1017.9,316.3 1013.8,317.2 1015.7,312.8 1013.1,308.0 1006.8,305.1 998.8,303.2 996.6,303.2 999.8,299.7 995.6,299.4 994.0,296.8 990.8,293.0"/>
<polyline points="1022.7,298.7 1022.7,319.4"/>
<polyline points="957.7,231.6 962.8,231.6 963.1,236.4 960.6,239.5 961.2,244.3 965.4,245.9 968.5,249.1 967.9,250.0 963.8,246.9 959.0,246.9 958.0,244.3 955.8,241.1 956.8,238.0 957.7,231.6"/>
<polyline points="962.2,268.2 967.0,263.4 971.7,259.6 975.9,263.4 976.5,269.8 973.3,272.0 969.5,269.8 967.0,266.6 962.2,268.2"/>
<polyline points="947.2,263.4 954.2,254.8 953.6,257.7 947.8,264.1 947.2,263.4"/>
<polyline points="969.5,250.7 973.3,251.6 974.0,255.5 971.7,258.0 970.1,255.5 969.5,250.7"/>
<polyline points="962.2,252.9 965.4,253.9 966.3,258.6 964.7,261.2 963.4,258.6 962.2,257.0 962.2,252.9"/>
<polyline points="941.5,316.6 946.2,316.9 952.6,317.2 957.4,316.9 964.7,316.9 962.2,318.5 952.6,318.5 946.2,319.1 941.5,317.8 941.5,316.6"/>
<polyline points="967.0,323.3 971.7,320.1 978.1,317.2 976.5,319.1 970.1,322.9 967.0,323.3"/>
<polyline points="952.6,320.7 958.3,322.0 955.8,323.3 952.6,320.7"/>
<polyline points="979.7,284.7 981.3,287.3 980.7,292.1 982.9,288.9 983.5,285.7 979.7,284.7"/>
<polyline points="981.3,300.0 987.7,299.7 990.2,302.6 984.5,301.6 981.3,300.0"/>
<polyline points="974.9,300.7 978.1,300.7 978.1,302.6 974.9,301.9 974.9,300.7"/>
<polyline points="1046.6,308.3 1053.0,308.0 1057.8,303.8 1058.7,306.4 1054.6,309.6 1048.2,310.5 1046.6,308.3"/>
<polyline points="1054.6,299.4 1060.3,302.6 1059.3,303.8 1054.6,300.0 1054.6,299.4"/>
<polyline points="1066.4,308.0 1069.9,311.8 1068.3,312.1 1066.4,308.0"/>
<polyline points="1072.1,312.8 1075.3,314.3"/>
<polyline points="1078.5,315.0 1082.6,317.5"/>
<polyline points="1082.6,320.1 1085.8,321.7"/>
<polyline points="1085.8,317.5 1087.4,320.7"/>
<polyline points="1088.0,323.3 1090.6,324.8"/>
<polyline points="1104.3,338.2 1106.2,340.8 1107.1,343.0"/>
<polyline points="1109.7,346.5 1110.3,347.4"/>
<polyline points="1096.0,354.8 1100.8,358.3 1105.5,361.5 1102.4,359.9 1096.9,356.0 1096.0,354.8"/>
<polyline points="1138.4,346.2 1142.5,346.2 1142.2,348.4 1139.0,348.4 1138.4,346.2"/>
<polyline points="1143.8,343.0 1147.0,342.0"/>
<polyline points="737.6,62.9 742.3,58.1 751.9,53.3 764.6,48.6 783.8,45.4 791.7,47.0 771.0,51.7 758.3,54.9 751.9,59.7 756.7,65.4 745.5,65.1 737.6,62.9"/>
<polyline points="608.5,37.4 618.1,35.8 630.8,35.2 643.6,34.9 659.5,35.2 649.9,38.1 634.0,40.6 640.4,42.2 627.6,46.7 618.1,43.8 611.7,39.6 608.5,37.4"/>
<polyline points="723.2,34.2 732.8,33.0 748.7,32.6 764.6,30.7 771.0,32.6 758.3,34.9 739.2,35.5 723.2,34.2"/>
<polyline points="876.1,39.0 892.1,42.2 908.0,40.6 904.8,36.5 885.7,32.6 876.1,35.8 876.1,39.0"/>
<polyline points="1010.0,50.2 1025.9,48.6 1035.5,50.2 1051.4,51.1 1045.0,52.4 1025.9,52.4 1013.1,52.4 1010.0,50.2"/>
<polyline points="1019.5,56.5 1029.1,57.2 1024.3,55.6 1019.5,56.5"/>
<polyline points="1142.2,63.8 1147.0,62.9"/>
<polyline points="0.0,62.9 8.0,63.8 0.0,64.8"/>
<polyline points="1147.0,64.8 1142.2,63.8"/>
<polyline points="724.8,153.6 729.6,158.4 732.1,162.2 729.6,166.3 729.6,171.1 736.0,173.3 744.9,173.0 744.9,166.3 742.3,163.1 741.7,158.4 740.7,155.2 737.6,153.0 736.0,148.8 742.3,146.6 742.3,141.5 736.0,140.9 729.6,142.5 724.8,146.3 724.8,153.6"/>
<polyline points="1038.6,148.8 1041.8,147.2"/>
<polyline points="1045.0,146.3 1049.8,144.1"/>
<polyline points="1051.4,143.4 1054.6,141.5"/>
<polyline points="1057.8,140.2 1061.6,136.7"/>
<polyline points="1064.1,134.5 1068.9,130.4"/>
<polyline points="76.5,228.4 79.7,227.4 78.1,230.0 76.5,228.4"/>
<polyline points="73.3,223.6 76.5,224.3"/>
<polyline points="69.5,222.0 71.0,222.7"/>
<polyline points="64.7,220.1 66.0,220.4"/>
<polyline points="567.1,178.7 569.7,187.0 562.3,190.2 556.0,195.6 545.8,199.1 545.8,203.6"/>
<polyline points="545.8,202.3 532.1,202.3"/>
<polyline points="545.8,203.6 545.8,207.7 535.2,207.7 535.2,215.7 532.1,217.3 532.1,222.7 519.3,222.7"/>
<polyline points="545.8,203.6 558.2,210.9 553.7,220.4 556.0,241.1 539.4,241.5 534.6,243.4 528.9,238.0 520.9,239.5"/>
<polyline points="558.2,210.9 576.7,223.6 583.0,228.4 583.7,230.0 586.9,229.4 592.6,227.4 611.7,215.7"/>
<polyline points="611.7,215.7 605.3,212.5 603.7,206.1 605.3,195.0 603.7,194.3"/>
<polyline points="600.9,173.0 599.6,180.7 597.4,182.9 602.2,188.6 603.7,194.3 606.3,189.6 610.1,184.8"/>
<polyline points="653.1,189.6 653.1,226.8 649.9,226.8 649.9,228.4 624.5,215.7 621.3,217.3 618.7,218.5 611.7,215.7"/>
<polyline points="653.1,220.4 691.0,220.4"/>
<polyline points="621.3,217.3 622.9,223.6 622.9,236.7 616.5,244.3 616.5,247.5"/>
<polyline points="649.9,228.4 649.9,240.5 646.1,241.1 645.2,249.1 643.6,250.7 646.4,255.5 648.7,262.5"/>
<polyline points="586.9,229.4 586.9,238.0 584.6,241.1 576.7,242.7 574.1,242.7"/>
<polyline points="574.1,242.7 567.1,245.3 559.8,248.5 556.0,253.9 556.0,257.4"/>
<polyline points="584.9,253.2 586.2,247.5 595.8,249.1 602.2,249.7 611.7,248.5 616.5,247.5"/>
<polyline points="574.1,242.7 576.7,249.1 580.8,251.3 584.9,253.2 582.4,261.8 582.1,270.1"/>
<polyline points="616.5,247.5 618.1,249.1 619.7,253.9 614.9,260.2 611.1,268.2 604.7,269.8 600.9,275.2"/>
<polyline points="578.6,270.7 578.6,261.8 576.0,255.5"/>
<polyline points="577.3,271.1 575.1,263.4 573.5,255.5"/>
<polyline points="563.6,274.2 564.9,265.0 564.6,260.2 564.6,255.5 573.5,255.5 576.3,255.5 580.8,251.3"/>
<polyline points="556.0,257.4 564.6,259.3"/>
<polyline points="549.6,276.5 546.4,269.8 547.0,266.3 548.9,263.4 548.0,258.0 556.0,257.4"/>
<polyline points="536.8,268.5 540.7,263.4 547.0,266.3"/>
<polyline points="531.1,261.8 540.7,263.4 539.4,258.6 531.1,261.8"/>
<polyline points="520.3,251.3 529.8,250.0 537.2,251.0 537.2,252.3 546.4,255.5 548.0,258.0"/>
<polyline points="525.7,255.5 529.8,253.2 529.8,250.0"/>
<polyline points="534.6,243.4 537.2,251.0"/>
<polyline points="520.0,247.5 528.9,247.2 528.9,248.1 520.0,248.8"/>
<polyline points="619.7,253.9 622.9,258.6 622.9,266.6 619.7,271.4 625.1,285.1 615.9,283.5 609.5,283.5 604.7,283.1"/>
<polyline points="615.9,283.5 619.7,292.1 619.4,296.8 613.3,298.4 609.2,303.2"/>
<polyline points="604.7,287.3 609.5,287.3 609.5,283.5"/>
<polyline points="612.7,309.2 614.9,305.1 619.7,306.1 624.5,298.4 630.2,292.1 631.1,284.1 632.7,279.3 632.4,276.8 645.2,277.4 653.1,274.6 660.8,274.2"/>
<polyline points="625.1,285.1 631.1,284.1"/>
<polyline points="622.9,266.6 634.0,261.8 646.4,255.5"/>
<polyline points="648.7,262.5 660.8,274.2"/>
<polyline points="648.7,262.5 656.3,258.6 662.7,260.2 669.1,258.6 675.4,252.3 679.3,251.6 681.5,260.2"/>
<polyline points="696.1,233.2 689.8,242.7 689.5,244.6 685.0,255.5 681.8,260.2 678.6,265.0 681.8,271.4 687.9,275.8"/>
<polyline points="689.5,244.6 694.5,243.7 700.9,244.3 708.6,250.7 710.8,250.0"/>
<polyline points="709.8,255.8 710.5,260.2 716.9,262.8 726.4,265.0 716.9,274.6 707.3,277.1 704.1,278.1"/>
<polyline points="711.4,253.9 709.8,255.8 706.7,255.5 708.6,250.7"/>
<polyline points="687.9,275.8 689.8,276.5 694.5,279.0 699.3,279.3 704.1,278.1 704.1,290.5 705.7,295.9"/>
<polyline points="681.8,277.1 683.4,287.3 681.8,290.5"/>
<polyline points="681.8,293.7 693.3,300.0 698.4,305.4"/>
<polyline points="671.6,279.3 673.2,283.5 668.4,288.9 667.8,294.9 666.5,299.1 667.1,304.5 671.6,316.6"/>
<polyline points="671.6,279.3 681.8,277.1 687.9,275.8"/>
<polyline points="660.8,274.2 665.9,276.5 671.6,279.3"/>
<polyline points="667.8,294.9 670.7,294.0 671.6,298.1 670.3,304.5 667.1,304.5"/>
<polyline points="670.7,294.0 674.5,293.7"/>
<polyline points="702.2,323.9 694.5,326.4 685.0,327.1 683.7,327.1"/>
<polyline points="671.6,316.6 678.3,320.4 681.8,320.7 683.7,327.1 683.7,336.0 687.5,337.6 685.9,344.9 682.8,341.4 678.6,335.0 679.6,325.5 678.3,320.4"/>
<polyline points="678.6,335.0 669.7,338.2 670.3,341.4 678.3,343.6 678.3,354.1 673.2,361.8 675.4,368.5 675.8,375.8 678.3,376.1"/>
<polyline points="671.6,316.6 664.3,319.1 664.9,328.7 668.4,333.1 660.1,327.4 649.9,325.5 649.9,331.8 643.6,331.8 643.6,342.0 648.0,346.5"/>
<polyline points="612.7,309.6 626.4,309.2 627.6,314.3 634.0,315.9 637.2,312.8 642.9,313.7 642.9,320.7 644.5,326.1 649.9,325.5"/>
<polyline points="611.1,345.2 618.1,345.9 632.4,345.9 648.0,346.5 653.8,347.1"/>
<polyline points="640.4,348.7 640.4,360.5 637.2,360.5 637.2,380.9 627.6,381.2 626.0,381.5"/>
<polyline points="637.2,369.4 639.4,376.1 646.8,371.0 654.7,372.3 659.5,365.6 667.1,361.1"/>
<polyline points="653.8,347.1 656.3,352.5 661.7,355.7 667.1,361.1 673.2,361.8"/>
<polyline points="653.8,347.1 659.5,347.4 665.6,341.4 670.3,340.1"/>
<polyline points="659.5,384.7 664.3,381.5 667.1,384.1 663.3,387.9 659.5,384.7"/>
<polyline points="672.2,373.2 675.4,374.2 675.1,377.4 672.2,376.4 672.2,373.2"/>
<polyline points="545.4,157.1 552.8,157.1 551.5,163.1 549.6,171.1 549.9,172.1"/>
<polyline points="567.7,152.3 575.7,154.6 583.7,155.5"/>
<polyline points="597.4,151.1 595.8,145.6 595.8,144.4 592.9,143.4 595.1,139.3 597.7,139.0 599.6,134.5 593.9,132.9 588.8,131.3 581.4,127.8"/>
<polyline points="593.9,132.9 592.6,128.8 592.6,125.6 595.8,124.0 596.4,120.8"/>
<polyline points="592.0,127.5 584.3,126.9"/>
<polyline points="601.2,115.7 604.7,116.0"/>
<polyline points="618.7,118.9 620.0,125.0 621.3,128.1 612.3,130.4 617.4,135.1 614.9,139.3 605.3,139.3 604.1,139.3 597.7,139.0"/>
<polyline points="604.1,139.3 606.9,141.2 613.0,141.8 617.1,142.5 617.1,145.0"/>
<polyline points="595.8,144.4 600.6,143.4 606.9,141.2"/>
<polyline points="621.3,128.1 627.6,130.4 633.4,132.9 645.2,134.2 649.9,129.7 648.7,125.0 649.6,118.9 646.1,117.3 636.6,117.3"/>
<polyline points="617.4,135.1 621.3,134.5 627.6,135.1 627.6,137.7 624.8,141.2 617.1,142.5"/>
<polyline points="627.6,135.1 633.4,132.9"/>
<polyline points="640.4,112.2 658.2,113.2"/>
<polyline points="651.2,106.2 660.8,107.4"/>
<polyline points="662.7,101.1 660.8,107.4 663.3,111.6 658.2,113.2 649.6,118.9"/>
<polyline points="648.7,126.5 670.7,127.2 674.8,124.6"/>
<polyline points="663.3,111.6 672.2,115.4 677.7,120.2 674.8,124.6 686.6,129.7 700.9,132.6 700.3,138.3 695.2,140.6"/>
<polyline points="645.2,134.2 644.2,136.4 652.8,138.6 658.2,136.7 663.3,145.6 668.1,146.3"/>
<polyline points="658.2,136.7 665.9,137.7 669.1,142.8 663.3,145.6"/>
<polyline points="644.2,136.4 638.2,143.4 641.7,147.9 645.8,149.8 649.9,151.4 659.5,150.1 664.6,151.4"/>
<polyline points="627.6,137.7 633.4,138.3 644.2,136.4"/>
<polyline points="624.8,141.2 626.0,142.5 633.7,144.4 638.2,143.4"/>
<polyline points="617.1,145.0 622.2,145.6 626.0,142.5"/>
<polyline points="633.7,144.4 634.0,147.6 635.6,153.6 638.8,156.8 635.6,157.4"/>
<polyline points="623.8,146.6 627.6,146.6 634.0,147.6"/>
<polyline points="626.0,152.0 629.2,153.6 632.4,155.2"/>
<polyline points="638.8,156.8 644.8,155.8 645.8,149.8"/>
<polyline points="644.8,155.8 646.8,159.0"/>
<polyline points="638.8,156.8 639.1,160.0 640.4,160.3"/>
<polyline points="662.7,156.8 657.6,157.7 656.3,160.6"/>
<polyline points="657.6,157.7 650.9,158.4 646.8,159.0 640.4,160.3 637.2,164.1"/>
<polyline points="609.2,102.7 613.3,96.3 612.3,88.3 618.1,85.2 624.5,77.2 630.8,72.4 638.8,70.8 648.4,74.3 649.9,81.0"/>
<polyline points="638.8,70.8 655.4,69.3 656.3,67.7 662.7,67.7 665.9,70.2 671.6,68.3"/>
<polyline points="665.9,70.2 664.3,73.4 669.1,75.6 667.5,85.2 673.8,90.3 662.1,97.9"/>
<polyline points="688.2,175.9 694.5,173.3 708.2,172.1 716.2,172.1 713.7,165.1 716.2,164.1"/>
<polyline points="705.7,158.4 712.1,159.6 716.2,164.1 721.6,166.7 729.3,168.2"/>
<polyline points="712.1,159.6 716.9,159.0 721.6,157.4"/>
<polyline points="700.9,152.3 713.7,154.9 721.6,157.4 728.0,157.4"/>
<polyline points="716.9,159.0 721.6,166.7"/>
<polyline points="716.2,172.1 720.0,176.5 718.4,182.2 725.8,191.8 728.0,195.0"/>
<polyline points="708.2,172.1 704.1,181.0 697.1,184.2 698.4,188.0 715.9,197.5 721.6,197.8 725.5,194.7"/>
<polyline points="721.6,197.8 727.7,199.8"/>
<polyline points="697.1,184.2 690.7,187.7 687.2,186.4"/>
<polyline points="698.4,188.0 691.4,190.2 694.5,193.4 688.2,197.5 685.0,196.9"/>
<polyline points="682.4,190.8 684.7,196.6"/>
<polyline points="686.6,184.5 686.6,191.8 685.0,196.6"/>
<polyline points="687.9,180.3 689.8,181.6 687.9,184.5 685.3,185.1"/>
<polyline points="709.8,238.3 713.7,235.1 723.2,236.4 739.2,230.0 748.7,226.8 750.9,220.4 749.3,218.2 741.1,217.6 737.9,213.1"/>
<polyline points="739.2,230.0 742.7,237.6"/>
<polyline points="749.3,218.2 751.9,211.2"/>
<polyline points="745.2,171.7 755.1,168.9 768.5,174.0 766.2,183.2 767.5,190.2 770.4,190.5 767.5,195.6 774.2,203.9 769.7,210.3"/>
<polyline points="767.5,195.6 784.7,195.3 794.3,188.9 796.5,183.8 800.3,175.9 812.1,172.1"/>
<polyline points="768.5,174.0 779.0,174.9 785.3,171.4 790.1,172.7 801.3,167.9 812.1,172.1"/>
<polyline points="790.8,215.0 799.7,212.5 795.2,203.9 807.3,195.3 811.2,191.5 809.2,185.4 821.4,177.5 812.1,172.1"/>
<polyline points="821.4,177.5 824.9,181.3 825.2,187.0 831.5,194.3 828.7,198.8 841.1,202.9 854.2,206.4"/>
<polyline points="831.5,194.3 842.7,199.1 854.2,201.7 854.2,206.4"/>
<polyline points="854.2,201.7 857.0,203.6 866.6,204.8 865.6,202.0 857.0,201.3 854.2,201.7"/>
<polyline points="866.6,202.0 882.5,200.4"/>
<polyline points="854.2,206.4 854.5,212.5 857.0,220.4"/>
<polyline points="859.6,207.7 867.2,210.9 864.0,214.7 867.5,222.4"/>
<polyline points="882.5,200.4 876.1,207.7 870.7,214.1 869.8,220.4 867.5,222.4"/>
<polyline points="884.1,200.4 887.9,209.3 884.4,214.1 889.5,220.1 895.9,222.7 892.4,225.9 885.1,231.6 888.6,238.6 886.3,242.7 889.5,252.9 887.6,258.6"/>
<polyline points="892.4,225.9 895.3,234.4 904.8,232.2 907.1,238.0 909.9,244.6 901.3,245.3 899.4,247.5 901.3,253.2"/>
<polyline points="895.9,222.7 898.8,219.2 904.8,225.5 908.6,231.6 916.0,242.7 916.0,244.3 911.2,253.2 906.4,257.4"/>
<polyline points="909.9,244.6 916.0,244.3"/>
<polyline points="898.8,219.2 909.0,216.3 917.6,222.0"/>
<polyline points="892.4,270.1 898.8,270.7"/>
<polyline points="922.7,284.1 928.7,287.3 938.3,285.7 941.5,276.8 948.2,277.1"/>
<polyline points="853.2,133.9 863.4,146.6 877.7,149.8 882.5,154.2 908.0,158.1 930.0,151.4 945.3,143.1 955.5,141.8 943.1,134.8 945.3,132.0"/>
<polyline points="853.2,133.9 868.2,128.8 885.7,131.3 886.7,125.0 899.1,127.2 914.4,132.3 930.3,132.9 945.3,132.0 955.8,120.8 967.0,120.2 979.7,132.0 989.9,134.8 1002.6,136.7 997.2,147.2 991.5,152.0 989.6,155.5"/>
<polyline points="969.5,163.1 977.8,157.4 981.9,156.8 989.6,155.5"/>
<polyline points="977.1,170.2 982.6,167.6"/>
<polyline points="723.2,137.7 721.6,132.0 734.4,126.2 750.3,129.1 769.4,127.5 767.8,118.9 793.0,114.5 807.7,118.9 817.2,117.6 828.7,128.8 851.6,134.2 845.9,140.9 836.3,146.3 829.0,155.8"/>
<polyline points="829.0,155.8 807.7,153.6 799.7,155.8 790.1,160.0 783.8,155.2 767.8,147.2 759.9,145.6"/>
<polyline points="751.9,147.2 751.9,159.0 742.3,156.8"/>
<polyline points="751.9,159.0 759.9,155.2 769.4,159.3 785.3,171.4"/>
<polyline points="829.0,155.8 815.6,161.9 808.3,164.7 812.1,172.1"/>
<polyline points="790.1,160.0 798.1,162.5 808.3,164.7"/>
<polyline points="790.1,172.7 791.7,164.7 798.1,162.5"/>
<polyline points="340.9,41.6 342.5,41.5 343.9,43.5 346.6,44.2 349.6,43.4 351.5,44.2 352.8,44.9 355.6,47.7 356.8,48.6 354.9,49.6 351.8,46.8 350.5,47.0 352.3,47.5 353.6,49.3 356.2,49.1 358.4,46.5 361.8,47.6 363.2,48.6 365.5,47.3 367.2,49.1 368.7,48.8 371.1,46.8 373.7,49.3 376.1,47.8 377.7,48.4 380.6,49.7 382.3,48.6 385.0,48.8 387.2,51.1 388.7,51.7 389.0,53.6 389.4,55.6 393.3,56.7 395.1,57.2 397.0,58.8 396.7,61.3 397.5,64.4 399.8,66.1 401.3,68.0 404.3,68.1 406.4,68.3 409.2,70.2 411.0,69.3 408.7,70.3 407.3,72.6 403.9,71.5 403.0,72.4 402.1,74.3 404.3,76.7 406.1,78.0 404.6,80.4 406.8,81.1 409.5,84.0 409.4,86.8 411.7,86.9 413.4,90.2 415.3,90.3 415.8,93.1 418.7,95.3 420.6,96.3 422.8,98.4 424.5,96.7 427.2,97.9 427.0,100.4 430.1,99.5 431.6,98.0 434.2,98.0 436.5,98.9 437.5,96.5 438.1,93.1 437.7,90.4 440.3,89.5 443.6,89.2 443.4,86.6 444.4,85.2 446.1,85.4 450.0,85.0 452.2,84.1 453.0,81.8 455.6,81.3 457.3,78.8 458.3,78.2 460.9,77.7 463.0,77.3 464.8,75.0 468.3,75.6 469.9,73.7 473.0,72.9 474.1,75.1 476.4,73.3 478.1,73.4 482.3,74.7 483.2,73.0 484.3,71.3 487.5,72.4 488.9,71.2 491.5,72.3 494.0,67.9 495.3,69.6 497.3,68.9 500.2,67.7 502.4,64.5 503.4,62.9 501.6,60.3 499.0,61.7 497.0,59.7 498.8,57.3 501.4,57.7 502.0,56.5 506.1,56.6 506.6,54.9 509.7,52.8 509.8,50.2 512.7,48.1 512.9,45.4 510.3,45.3 509.3,44.2 506.6,42.2 507.2,39.7 510.3,39.3 513.0,41.0 515.9,39.5 516.1,37.4 519.3,35.2 517.5,33.0 514.9,35.6 512.5,35.3 509.8,33.6 512.7,33.9 514.1,34.6 516.8,33.6 518.4,31.2 521.1,34.3 522.5,33.5 525.1,31.0 527.3,31.5 528.9,32.0 527.3,29.9 523.9,31.8 523.6,30.5 521.3,32.6 518.3,29.2 515.9,32.0 514.6,28.4 512.5,30.7 511.4,31.5 508.5,27.8 506.6,29.5 503.7,28.9 501.7,29.0 501.2,27.4 498.6,29.3 496.0,29.0 494.3,28.7 491.2,28.7 490.2,27.7 487.4,26.4 485.2,26.7 484.0,26.2 483.0,26.0 480.5,25.9 477.9,25.3 475.1,27.2 473.7,26.5 471.4,24.3 469.3,25.8 466.7,24.8 465.0,26.6 463.5,26.0 460.9,23.8 458.3,24.6 456.8,23.1 454.5,24.3 452.4,24.7 450.0,25.0 448.3,25.5 445.5,25.8 443.4,25.2 442.5,24.3 439.3,26.3 438.7,25.3 436.5,28.5 434.9,28.9 432.0,29.3 430.1,27.9 427.2,26.9 425.7,29.4 424.7,27.5 421.0,26.7 419.1,29.5 418.0,28.8 415.2,26.6 414.1,29.9 412.2,28.6 410.3,29.9 407.8,28.8 406.6,28.0 403.7,28.7 401.8,30.9 399.3,28.5 396.3,30.9 394.1,28.0 393.4,30.8 390.3,31.1 389.5,30.2 385.8,29.7 384.9,28.1 382.3,29.5 379.5,31.7 377.1,30.6 376.4,32.7 372.8,32.0 370.8,31.5 368.1,34.4 366.1,32.4 364.3,34.9 362.3,35.2 361.2,33.8 357.9,33.9 356.8,34.2 358.7,34.1 360.6,36.2 363.2,37.4 362.1,39.2 360.1,39.8 357.6,39.2 355.3,37.8 353.7,39.2 352.1,40.1 350.1,40.9 346.7,39.5 345.2,42.0 343.4,39.3 340.9,41.6"/>
<polyline points="340.9,41.6 342.3,43.5 345.5,43.6 347.1,43.8 349.4,46.1 351.7,45.6 352.8,47.7 354.7,47.2 356.8,48.6 355.0,49.9 351.7,49.1 350.5,47.0 352.0,46.2 355.6,45.9 357.0,49.3 358.6,47.1 361.1,47.5 363.2,48.6 365.2,47.2 368.4,47.6 369.7,50.5 372.6,47.5 373.5,47.8 375.7,46.6 378.1,48.5 380.2,47.4 382.3,48.6 384.9,47.6 387.1,49.1 388.7,51.7 390.8,51.4 391.6,54.0 392.4,56.8 393.4,59.0 395.2,60.8 396.7,61.3 398.4,63.1 399.8,66.1 400.9,68.4 404.3,68.3 407.7,66.4 408.6,70.2 411.0,69.3 408.1,69.4 407.5,72.2 404.4,71.9 403.0,72.4 402.4,75.3 403.7,77.2 403.6,78.9 404.6,80.4 406.5,81.1 408.8,83.5 409.4,86.8 412.6,87.7 412.6,90.3 414.1,92.1 415.8,93.1 417.4,94.1 420.6,96.3 422.6,98.2 424.4,97.6 425.3,98.5 427.4,99.6 430.1,99.5 431.6,97.6 433.9,100.0 436.5,98.9 438.5,95.3 438.1,93.1 439.2,91.7 440.8,89.6 442.9,88.8 443.1,87.8 444.4,85.2 445.8,83.2 448.9,84.7 450.3,83.4 452.4,80.6 455.6,81.3 458.4,80.9 459.8,80.2 461.9,78.6 463.3,77.7 466.3,78.3 468.3,75.6 471.6,77.0 472.2,73.0 475.8,75.7 476.3,74.1 479.7,72.6 481.1,72.3 483.0,71.7 484.9,74.7 487.5,72.4 490.0,72.8 492.6,72.1 494.2,68.8 495.0,69.5 497.4,66.6 500.2,67.7 501.4,65.5 503.4,62.9 500.9,63.2 498.2,61.1 497.0,59.7 498.5,56.7 500.8,59.3 503.9,58.2 505.0,57.5 506.6,54.9 507.6,52.4 509.8,50.2 513.1,48.7 512.9,45.4 510.7,44.9 509.1,44.5 506.6,42.2 508.4,39.5 510.8,39.1 511.4,38.6 513.7,38.7 516.1,37.4 519.3,35.2 515.9,35.1 514.2,32.8 511.4,33.3 509.8,33.6 512.1,35.2 513.2,34.2 516.1,34.0 518.6,33.9 519.4,31.9 521.9,34.3 524.3,32.3 527.2,31.3 528.9,32.0 527.5,29.9 525.3,31.0 523.0,31.1 521.3,32.5 517.8,31.9 517.3,30.7 513.9,28.7 513.3,30.4 511.3,31.2 509.3,30.4 506.6,29.5 504.9,30.3 501.8,28.5 500.7,27.6 498.3,28.6 496.6,28.5 494.5,29.5 493.2,25.7 489.9,27.0 488.9,25.4 486.5,27.5 484.1,26.6 481.6,24.0 481.1,24.3 477.9,25.3 475.3,27.1 473.7,23.6 472.5,24.8 468.5,25.5 466.6,23.7 465.7,23.1 463.7,26.5 460.5,24.8 458.4,23.1 456.1,24.2 454.4,24.9 452.4,24.7 450.1,26.9 447.7,26.4 446.6,24.9 445.0,27.3 441.8,25.7 441.3,27.8 438.0,26.6 436.8,27.4 435.1,26.8 432.3,28.4 430.1,27.9 427.7,26.1 426.0,26.5 424.6,29.2 421.5,26.4 421.0,29.0 417.6,28.4 416.4,28.8 413.0,27.9 412.8,29.7 410.0,29.4 407.8,28.8 406.3,28.1 403.1,27.8 402.0,29.0 399.6,27.2 397.7,27.8 394.6,30.3 392.1,30.0 391.4,29.3 388.9,30.4 385.7,28.7 384.7,30.8 382.3,29.5 379.3,31.5 378.8,31.9 375.8,33.0 372.8,32.0 369.8,30.8 367.7,31.8 366.9,31.1 364.1,34.5 363.6,32.3 361.0,33.0 359.2,34.4 356.8,34.2 358.7,33.7 361.2,35.4 363.2,37.4 361.6,35.9 359.4,36.2 356.6,39.2 355.0,37.6 353.4,41.1 350.3,40.3 349.5,41.2 347.6,38.7 344.4,41.3 343.6,40.0 340.9,41.6"/>
<polyline points="396.7,61.3 399.6,61.5 399.8,66.1 400.9,68.6 404.9,68.8 406.2,67.0 408.4,70.9 411.0,69.3 408.9,71.4 407.9,71.5 405.3,74.2 403.0,72.4 401.5,75.2 401.4,75.7 405.5,78.1 404.6,80.4 405.1,84.8 407.9,83.8 409.4,86.8 411.2,88.1 410.5,90.9 413.5,93.0 415.8,93.1 417.8,96.4 420.6,96.3 421.9,97.3 424.3,96.6 424.8,99.2 429.3,97.6 430.1,99.5"/>
<polyline points="396.7,61.3 398.7,62.1 399.8,66.1 402.8,64.5 405.7,66.8 407.2,70.2 408.1,67.2 411.0,69.3 409.8,71.9 406.7,69.8 405.7,72.8 403.0,72.4 402.9,75.0 402.8,77.5 403.2,77.6 404.6,80.4 404.5,83.1 407.3,84.6 409.4,86.8 409.6,88.7 413.0,88.6 416.1,91.0 415.8,93.1 417.6,94.8 420.6,96.3 423.8,96.8 423.7,97.4 426.2,99.8 426.5,100.9 430.1,99.5"/>
<polyline points="487.5,72.4 490.3,71.2 493.3,72.1 492.5,68.1 494.6,67.7 499.1,70.6 500.2,67.7 503.4,66.7 503.4,62.9 502.2,60.2 498.0,61.5 497.0,59.7 499.0,61.2 501.3,58.1 501.8,55.7 503.2,54.6 506.6,54.9 507.3,51.7 509.8,50.2 511.6,48.8 512.9,45.4 510.1,46.7 509.8,42.8 506.6,42.2"/>
<polyline points="487.5,72.4 488.6,71.0 492.3,72.2 492.1,68.4 495.9,68.7 497.4,69.5 500.2,67.7 500.7,63.9 503.4,62.9 501.5,62.5 497.7,61.1 497.0,59.7 498.7,57.8 500.3,57.2 504.7,57.9 503.7,55.6 506.6,54.9 508.7,53.8 509.8,50.2 509.9,45.6 512.9,45.4 509.9,44.3 507.6,43.2 506.6,42.2"/>
<polyline points="591.0,103.3 590.5,101.6 588.2,98.9 589.4,96.3 591.9,94.2 591.6,91.4 594.2,90.6 596.3,89.4 597.9,88.0 601.6,88.1 602.6,86.2 605.3,86.8 608.3,85.8 607.3,83.8 611.8,83.6 611.0,82.1 613.3,80.4 615.8,80.0 617.7,78.1 618.5,76.9 619.7,74.0 621.7,74.2 624.1,71.5 625.6,72.5 627.6,70.2 629.6,68.6 632.2,69.0 634.0,67.1 637.2,67.7 640.5,67.6 641.7,64.8 643.8,66.9 646.8,65.1 648.5,66.2 651.7,65.1 653.6,65.1 656.3,64.5 659.1,64.4 661.9,64.7 664.3,65.1"/>
<polyline points="591.0,103.3 590.3,101.1 588.2,98.8 589.4,96.3 590.7,94.7 593.6,92.7 594.2,90.6 595.8,89.9 597.9,89.2 600.3,87.1 602.5,86.2 605.3,86.8 606.3,86.0 608.2,85.1 611.0,83.3 611.1,82.2 613.3,80.4 614.8,79.0 617.2,78.8 619.6,75.9 619.7,74.0 622.5,73.6 624.0,70.7 626.4,70.8 627.6,70.2 629.8,71.2 633.4,69.7 634.1,66.9 637.2,67.7 639.2,68.1 642.0,67.9 644.0,67.0 646.8,65.1 649.9,64.9 651.0,63.8 653.6,64.7 656.3,64.5 658.5,63.0 662.5,63.7 664.3,65.1"/>
<polyline points="591.0,103.3 590.9,100.1 588.7,98.4 589.4,96.3 590.0,93.5 592.8,93.0 594.2,90.6 596.9,91.1 599.4,89.1 601.3,86.7 603.1,88.0 605.3,86.8 607.3,86.6 609.7,85.5 610.2,82.2 611.1,81.9 613.3,80.4 614.9,80.0 617.0,78.3 619.1,75.4 619.7,74.0 622.1,73.2 622.6,71.9 624.4,69.9 627.6,70.2 630.0,70.0 633.1,68.8 634.0,67.1 637.2,67.7 638.9,67.8 641.3,64.7 643.8,64.4 646.8,65.1 649.2,64.0 651.0,65.2 653.9,65.1 656.3,64.5 659.9,63.4 661.1,63.9 664.3,65.1"/>
<polyline points="108.3,96.3 111.4,96.0 112.4,100.0 114.7,99.5 116.9,99.1 120.3,97.5 122.7,99.5 124.5,100.0 126.7,100.7 129.0,100.4 130.7,103.2 134.2,101.8 135.9,101.7 137.0,104.3 138.8,104.8 142.5,105.1 143.4,107.4 146.7,107.5 146.0,111.6 149.7,112.2 152.6,112.3 154.2,114.5 156.1,115.4 156.4,117.4 159.3,118.6 161.1,119.4 164.3,121.0 164.1,123.4 165.0,126.7 167.3,128.1 170.6,127.4 170.8,130.6 172.8,131.4 175.2,131.3 177.0,131.0 178.8,132.1 181.0,134.5"/>
<polyline points="108.3,96.3 111.2,97.0 112.8,99.4 114.7,99.5 116.9,100.3 119.9,99.7 122.7,99.5 124.7,101.0 127.3,99.2 129.0,100.4 129.7,102.8 131.5,103.3 134.9,102.2 137.0,104.3 139.5,106.6 140.5,107.1 143.4,107.4 144.3,110.1 148.9,110.3 149.7,112.2 152.0,113.9 154.6,115.4 156.1,115.4 158.3,117.4 159.3,118.6 160.8,121.2 163.0,121.9 164.1,123.4 165.2,125.6 167.3,128.1 169.9,128.0 172.6,128.5 172.9,128.9 175.2,131.3 178.7,131.4 178.7,132.6 181.0,134.5"/>
<polyline points="108.3,96.3 110.5,95.3 112.5,99.2 114.7,99.5 117.8,100.3 120.2,97.8 122.7,99.5 125.5,99.4 127.5,101.5 129.0,100.4 132.4,100.2 133.1,104.2 135.2,101.6 137.0,104.3 139.0,103.5 141.2,107.9 143.4,107.4 145.7,109.9 147.0,110.8 149.7,112.2 151.9,111.5 153.0,115.0 156.1,115.4 158.1,116.4 159.3,118.6 161.9,118.5 163.4,121.5 164.1,123.4 165.9,125.2 167.3,128.1 168.6,130.7 170.9,131.1 173.8,128.7 175.2,131.3 177.7,132.4 179.7,133.1 181.0,134.5"/>
<polyline points="138.6,105.9 140.3,107.3 141.7,109.5 145.0,110.6 146.3,113.3 149.7,115.4 152.9,118.0"/>
<polyline points="149.7,118.6 152.4,119.2 154.5,121.8 153.6,124.3 151.7,121.5 149.7,120.2 149.7,118.6"/>
<polyline points="48.4,116.7 50.5,115.2 53.2,116.0 55.0,115.0 57.3,115.4 60.0,114.3 62.5,113.4 64.1,113.1 66.9,112.9 69.0,112.5 70.5,110.4 72.6,109.5 75.0,110.1 76.5,109.0 78.6,108.0 80.5,106.2 82.8,104.9"/>
<polyline points="48.4,116.7 50.3,117.4 52.5,117.0 54.7,115.1 57.3,115.4 60.0,115.7 62.5,113.7 64.3,112.9 66.9,112.9 69.1,112.1 71.1,111.8 72.3,110.3 74.6,108.9 76.5,109.0 79.0,107.8 80.2,105.7 82.8,104.9"/>
<polyline points="339.3,430.5 337.3,432.2 339.3,435.0 335.6,435.3 336.1,438.5 336.5,440.8 332.9,443.0 332.9,444.8 334.7,445.8 334.7,448.2 333.9,450.1 334.5,452.8 336.0,454.0 335.0,458.4 337.7,459.2 341.5,458.4 342.7,458.7 345.0,463.3 347.3,461.7 348.6,463.6 352.0,462.9 353.3,463.1 354.3,465.1 356.8,467.1"/>
<polyline points="339.3,430.5 338.7,433.3 336.9,434.2 336.4,436.2 336.1,438.5 336.4,441.5 334.1,443.4 332.9,444.8 331.5,447.0 333.5,449.4 334.4,450.2 334.5,452.8 335.1,456.1 335.8,458.0 337.7,459.2 340.1,461.4 342.2,461.0 345.4,460.4 347.3,461.7 349.9,461.2 350.9,465.2 352.2,465.2 355.0,465.7 356.8,467.1"/>
<polyline points="339.3,430.5 338.1,432.1 336.6,435.1 338.1,437.3 336.1,438.5 334.1,439.8 333.6,443.7 332.9,444.8 335.3,446.5 335.3,449.1 332.2,451.2 334.5,452.8 337.2,454.3 336.7,457.6 337.7,459.2 340.4,459.9 342.2,461.9 345.9,461.0 347.3,461.7 350.2,461.9 351.8,463.8 354.8,464.0 354.4,465.0 356.8,467.1"/>
<polyline points="339.3,430.5 339.5,432.7 339.8,435.1 337.1,437.0 336.1,438.5 335.9,440.4 334.8,443.7 332.9,444.8 331.4,447.3 335.1,449.2 334.5,450.1 334.5,452.8 337.3,454.7 335.6,457.9 337.7,459.2 340.3,459.7 343.8,459.5 345.3,460.5 347.3,461.7 349.1,464.4 350.8,463.5 352.2,464.7 353.9,467.2 356.8,467.1"/>
<polyline points="557.5,103.9 555.6,104.8 555.0,107.4 555.6,111.3 557.5,113.8"/>
<polyline points="557.5,103.9 556.8,105.6 555.0,107.4 555.6,111.3 557.5,113.8"/>
<polyline points="550.2,106.5 553.7,108.4 552.8,104.9 550.2,106.5"/>
<polyline points="608.5,37.4 610.3,36.9 613.4,34.8 615.1,35.5 618.1,35.8 620.1,35.0 622.6,35.3 624.2,36.1 627.3,36.9 629.2,33.7 630.8,35.2 633.5,36.6 635.6,33.8 636.3,35.5 640.1,33.2 641.0,35.5 643.6,34.9 645.2,33.5 648.6,34.0 649.8,34.4 653.2,36.5 655.7,33.9 657.7,35.5 659.5,35.2 656.3,35.5 653.8,35.8 652.3,38.5 649.9,38.1 647.5,38.3 645.3,39.0 644.4,38.8 642.8,40.2 640.8,39.5 638.6,40.0 636.0,40.3 634.0,40.6 636.7,41.4 639.3,40.1 640.4,42.2 638.2,43.1 635.4,43.3 634.3,44.8 632.1,43.3 629.4,45.5 627.6,46.7 624.6,47.5 622.3,44.4 619.5,44.8 618.1,43.8 616.0,42.4 615.3,40.3 611.7,39.6 608.5,37.4"/>
<polyline points="608.5,37.4 611.3,37.8 613.9,35.9 615.6,35.8 618.1,35.8 620.7,35.8 622.2,34.6 624.5,35.2 626.3,36.6 628.6,36.5 630.8,35.2 632.5,35.2 635.9,35.1 637.7,35.6 639.0,34.4 641.6,34.2 643.6,34.9 646.3,35.4 648.6,33.3 650.5,36.4 652.3,33.4 654.4,33.3 657.4,36.7 659.5,35.2 656.5,35.5 654.1,35.3 652.0,37.0 649.9,38.1 647.7,37.7 646.4,38.0 644.0,38.4 642.5,38.3 641.0,40.7 637.1,39.1 636.1,39.7 634.0,40.6 636.4,42.4 637.8,41.8 640.4,42.2 638.6,43.6 636.5,44.3 633.1,44.2 632.3,46.7 631.0,47.2 627.6,46.7 625.4,44.8 623.4,43.8 620.2,46.2 618.1,43.8 615.5,41.7 614.8,39.6 611.7,39.6 608.5,37.4"/>
<polyline points="608.5,37.4 610.2,36.8 612.9,37.2 614.6,35.1 618.1,35.8 620.4,33.9 623.1,34.2 625.0,34.0 625.6,34.1 628.3,36.1 630.8,35.2 632.4,36.0 635.5,33.5 637.9,35.8 638.6,35.8 641.8,35.4 643.6,34.9 646.6,34.8 649.0,34.1 649.5,35.8 653.0,33.3 654.2,36.2 657.7,34.5 659.5,35.2 656.8,37.2 655.5,36.4 652.3,37.8 649.9,38.1 647.7,38.6 645.6,40.0 643.8,39.5 642.1,38.8 639.5,40.1 637.2,38.5 636.3,40.0 634.0,40.6 637.3,39.8 638.7,42.5 640.4,42.2 638.3,43.6 635.0,42.3 634.2,44.0 631.3,45.6 629.6,46.4 627.6,46.7 624.7,45.4 623.6,44.3 620.4,46.3 618.1,43.8 615.7,42.6 613.9,39.7 611.7,39.6 608.5,37.4"/>
<polyline points="723.2,34.2 725.9,32.8 728.5,34.3 730.1,33.5 732.8,33.0 735.4,33.8 737.8,33.3 739.1,32.5 742.2,32.9 744.4,32.0 746.1,33.7 748.7,32.6 750.9,32.6 752.3,32.1 754.9,31.3 756.7,32.4 758.9,30.4 760.4,31.9 763.1,31.1 764.6,30.7 766.5,32.3 769.0,32.0 771.0,32.6 769.4,33.7 766.7,34.2 764.6,34.1 762.5,34.4 761.1,35.2 758.3,34.9 756.3,33.7 753.9,36.0 752.3,34.4 750.0,34.9 748.2,35.2 745.0,36.4 743.4,34.5 741.6,35.3 739.2,35.5 737.0,34.7 734.4,34.1 731.8,34.2 730.6,35.4 728.1,35.3 726.0,35.5 723.2,34.2"/>
<polyline points="723.2,34.2 726.1,34.0 728.5,33.4 730.0,34.3 732.8,33.0 734.9,33.2 737.9,32.0 739.7,32.2 742.4,33.1 744.0,33.1 746.0,32.6 748.7,32.6 751.4,33.4 752.1,31.6 754.4,31.4 757.3,32.6 758.2,32.3 761.0,31.9 763.3,31.3 764.6,30.7 766.7,30.2 769.2,32.7 771.0,32.6 769.1,32.6 766.4,33.2 765.0,34.7 763.1,34.6 760.8,34.5 758.3,34.9 756.6,35.6 754.6,34.6 752.2,34.6 749.3,36.3 747.1,35.9 745.0,34.4 743.5,36.2 740.8,36.4 739.2,35.5 736.8,34.5 734.8,35.3 732.4,34.2 730.5,34.5 728.3,35.3 725.5,33.9 723.2,34.2"/>
<polyline points="723.2,34.2 725.9,33.0 727.8,33.1 730.0,32.5 732.8,33.0 734.9,33.7 737.3,32.1 740.1,32.4 742.4,31.8 744.6,31.7 746.1,33.1 748.7,32.6 750.4,32.4 752.3,31.6 755.2,31.5 757.3,32.8 758.3,30.5 760.2,32.2 762.5,31.5 764.6,30.7 765.9,32.3 768.5,32.7 771.0,32.6 769.6,33.8 766.6,32.6 764.8,34.5 762.7,33.1 760.8,34.3 758.3,34.9 755.8,35.7 754.4,34.5 752.4,36.1 749.8,34.9 748.0,35.8 745.3,35.0 743.3,34.6 741.8,36.1 739.2,35.5 737.0,34.8 735.2,34.7 732.6,34.2 729.7,33.9 728.4,34.7 725.6,33.4 723.2,34.2"/>
<polyline points="723.2,33.3 725.1,34.0 727.7,32.5 729.1,32.9 731.6,32.8 733.6,32.0 735.7,32.8 738.0,32.1 740.2,33.5 742.1,32.4 744.2,32.5 746.4,31.8 748.2,33.5 750.3,32.6 751.8,32.6 754.1,33.4 756.1,31.8 758.8,31.8 760.2,31.4 762.4,32.6 764.9,31.2 766.9,32.3 768.5,32.5 771.0,32.0"/>
<polyline points="723.2,33.3 725.5,34.0 727.0,32.3 729.5,33.1 731.1,32.6 733.2,32.8 736.1,33.1 737.8,32.2 739.5,33.3 742.4,33.4 743.9,32.5 746.1,33.4 748.6,32.4 750.1,33.1 752.1,32.0 754.9,32.3 756.9,33.0 758.9,33.0 760.6,31.4 763.2,33.1 764.7,31.7 766.7,32.4 768.5,32.1 771.0,32.0"/>
<polyline points="737.6,62.9 739.0,61.2 739.6,59.2 742.3,58.1 745.1,58.0 746.8,57.1 748.8,55.7 749.9,55.4 751.9,53.3 753.9,53.0 756.0,52.2 758.8,50.9 760.2,50.5 762.5,49.4 764.6,48.6 766.7,49.3 769.0,47.4 771.0,46.6 773.3,48.2 775.1,46.3 777.0,46.6 778.9,45.3 781.4,45.3 783.8,45.4"/>
<polyline points="737.6,62.9 738.6,61.2 740.1,59.0 742.3,58.1 744.7,57.8 746.4,56.3 748.0,54.5 750.0,54.2 751.9,53.3 754.1,52.8 755.7,51.4 758.0,50.3 760.4,49.9 761.9,48.3 764.6,48.6 766.6,49.1 768.9,48.0 771.5,46.9 773.4,46.6 774.6,46.1 777.5,47.3 779.2,45.1 781.9,45.5 783.8,45.4"/>
<polyline points="876.1,39.0 878.0,38.2 880.2,41.2 882.1,39.1 884.5,40.2 886.6,41.4 887.9,42.4 890.3,42.6 892.1,42.2 894.1,42.8 896.5,42.6 897.6,42.9 899.4,42.6 902.2,42.0 904.7,40.9 905.9,41.0 908.0,40.6 906.8,37.6 904.8,36.5 902.9,35.8 900.6,35.8 898.9,34.6 896.2,35.1 894.4,34.7 891.7,33.0 890.0,33.5 887.9,34.1 885.7,32.6 884.0,34.3 882.4,33.5 879.8,33.3 877.3,34.4 876.1,35.8 876.1,39.0"/>
<polyline points="876.1,39.0 877.4,40.7 880.8,39.7 881.7,38.6 884.1,40.8 886.3,42.3 888.8,41.7 890.1,41.9 892.1,42.2 894.0,42.6 896.2,41.4 898.7,41.1 900.1,41.9 901.7,40.0 904.1,40.7 906.6,41.0 908.0,40.6 907.5,37.7 904.8,36.5 902.5,36.2 901.1,34.2 898.0,35.0 896.4,35.8 894.0,32.8 892.7,34.0 889.9,32.3 887.3,32.0 885.7,32.6 883.5,32.1 882.5,34.8 880.0,34.5 878.8,35.9 876.1,35.8 876.1,39.0"/>
<polyline points="1010.0,50.2 1012.1,50.3 1014.5,49.3 1015.4,49.9 1018.2,49.1 1020.1,48.7 1021.6,47.8 1024.1,49.6 1025.9,48.6 1027.9,49.3 1030.7,49.4 1033.3,49.2 1035.5,50.2 1038.3,50.4 1039.9,50.6 1041.9,49.6 1044.0,51.3 1046.5,49.9 1049.5,51.0 1051.4,51.1 1048.8,51.3 1047.9,52.9 1045.0,52.4 1043.1,51.7 1040.9,51.9 1038.9,53.2 1036.0,53.3 1034.6,52.2 1032.4,52.5 1029.7,53.5 1027.5,52.2 1025.9,52.4 1023.6,52.5 1022.2,53.0 1019.1,51.3 1016.9,52.8 1015.5,51.6 1013.1,52.4 1010.0,50.2"/>
<polyline points="1010.0,50.2 1012.5,50.1 1014.5,49.7 1015.7,49.0 1017.6,49.9 1020.3,48.7 1022.3,48.9 1023.4,48.2 1025.9,48.6 1028.0,48.6 1030.2,50.4 1032.6,49.8 1035.5,50.2 1037.6,50.4 1039.5,50.2 1042.7,49.7 1044.3,50.3 1046.6,50.1 1048.6,50.3 1051.4,51.1 1049.4,51.1 1047.1,52.8 1045.0,52.4 1043.2,53.4 1041.2,51.6 1038.2,52.5 1036.9,51.6 1034.1,52.7 1031.7,52.7 1029.6,53.1 1028.3,52.4 1025.9,52.4 1024.2,52.5 1021.9,51.9 1019.4,51.4 1017.7,52.7 1015.6,52.1 1013.1,52.4 1010.0,50.2"/>
<polyline points="830.0,56.5 831.6,57.5 834.3,56.3 836.7,55.4 838.7,55.6 840.3,56.0 842.1,55.4 845.3,54.5 847.2,54.8 849.1,55.2 850.7,51.7 852.5,50.2 854.6,50.6 855.9,50.2 858.1,49.8 860.7,48.8 862.4,49.0 865.2,50.4 866.6,48.9 869.3,49.8 870.4,47.5 873.1,47.0 874.9,48.8 877.4,47.9 879.0,48.7 881.3,48.9 883.1,48.2 885.7,47.6 888.2,45.9 890.4,47.3 891.1,45.0 893.5,44.9 896.0,44.8 897.9,43.6 900.2,44.9 903.0,44.9 904.8,43.5 906.7,44.7 909.9,44.8 911.4,45.0 914.4,46.3 917.0,47.4 918.3,45.8 921.3,47.7 923.2,45.3 926.2,45.6 928.7,46.0 930.3,47.0 930.5,48.8 932.1,51.1 933.5,53.7 935.1,54.9"/>
<polyline points="830.0,56.5 831.4,55.8 834.2,57.6 836.7,57.4 839.0,56.6 840.5,56.2 842.9,54.3 844.8,55.3 846.5,56.7 849.1,55.2 850.7,51.7 852.1,52.3 855.2,51.5 856.6,50.0 859.1,51.7 860.3,50.2 862.2,48.3 864.1,49.1 866.6,48.9 868.1,48.2 871.1,49.2 872.5,47.7 875.0,48.4 877.1,49.5 879.9,47.4 881.5,46.8 884.0,47.2 885.7,47.6 888.2,47.2 890.0,45.7 892.1,46.5 894.9,46.4 895.8,44.2 897.9,44.5 900.0,43.2 902.8,43.0 904.8,43.5 906.7,43.9 909.7,44.4 911.6,45.1 914.4,46.3 916.0,45.1 919.2,48.0 921.6,45.4 923.5,48.1 925.8,45.6 927.6,46.7 930.3,47.0 931.0,48.4 931.7,51.8 933.9,53.7 935.1,54.9"/>
<polyline points="377.5,78.8 375.7,79.2 374.7,81.7 372.1,84.3 369.6,83.6 367.5,83.5 367.0,87.3 363.3,86.8 363.6,90.1 361.6,89.9 363.7,92.9 366.4,93.1 364.5,93.5 362.2,91.1 359.0,92.4 356.8,91.5 354.1,90.9 353.4,91.2 351.0,88.7 349.3,86.9 347.3,87.4 344.5,85.2 342.8,86.5 340.7,87.5 339.2,85.5 336.1,85.2 334.6,84.4 330.7,85.4 330.4,86.8 327.8,85.4 325.0,85.2 326.5,84.9 328.2,82.0 331.3,83.3 332.8,83.1 335.6,81.1 337.7,82.0 338.1,80.2 337.9,78.0 339.7,75.5 339.3,74.0 338.7,72.0 335.4,73.2 334.1,71.5 332.2,72.3 329.8,70.7 328.2,69.3 325.7,66.7 323.3,66.5 321.8,67.7 319.4,65.8 318.4,66.4 315.2,67.0 313.1,68.5 311.2,65.8 309.4,67.1 306.1,68.3 305.4,69.5 302.7,67.7 300.7,66.7 297.9,68.7 296.1,67.4 294.1,66.9 292.3,66.1 289.9,66.1 288.4,64.3 291.5,61.2 288.4,58.2 289.9,56.5 291.2,55.5 293.7,56.5 296.4,56.2 298.5,55.0 300.5,54.4 302.7,55.9 303.9,56.3 305.9,55.7 309.6,55.9 311.3,56.5 312.1,57.3 315.3,58.4 317.0,56.5 320.1,55.7 320.5,57.0 322.6,60.0 325.0,58.7 326.1,60.3 328.0,60.9 331.4,59.7 334.2,59.7 335.6,61.0 337.7,62.9 339.8,64.1 342.5,65.3 344.8,65.6 347.3,64.5 349.4,66.9 352.0,64.6 353.7,66.0 355.3,67.9 356.8,67.7 359.4,68.4 360.0,71.5 362.4,73.5 362.7,73.6 364.9,74.0 368.1,75.2 369.6,75.6 372.9,75.3 372.8,77.7 375.9,76.8 377.5,78.8"/>
<polyline points="377.5,78.8 374.7,78.9 375.2,82.0 371.9,84.0 369.6,83.6 368.7,85.9 366.6,87.0 365.7,87.3 362.2,87.5 361.6,89.9 364.1,92.5 366.4,93.1 365.3,91.1 362.2,93.1 358.5,91.8 356.8,91.5 356.3,90.0 351.9,90.8 351.6,88.5 349.8,88.6 347.3,87.4 345.5,85.6 342.9,85.0 340.6,87.8 337.4,86.6 336.1,85.2 334.8,84.8 331.9,86.5 329.3,85.3 327.5,85.6 325.0,85.2 325.3,82.1 328.2,82.0 329.6,81.3 333.9,81.8 334.6,80.2 337.7,82.0 338.7,80.6 337.6,77.8 338.0,75.7 339.3,74.0 336.7,72.8 337.2,71.0 333.3,71.2 332.0,69.3 330.0,69.5 328.2,69.3 326.3,69.4 323.5,66.9 321.8,67.7 319.3,65.9 317.0,68.4 315.4,66.7 313.6,67.1 311.4,67.5 309.4,69.4 305.9,68.4 305.1,67.7 302.7,67.7 300.9,68.5 299.1,67.8 295.3,68.7 294.3,66.8 292.5,66.1 289.9,66.1 288.6,64.5 289.1,61.7 290.8,58.8 289.9,56.5 291.8,58.2 294.4,58.0 295.6,54.6 299.4,56.4 301.1,55.4 302.7,55.9 305.5,55.7 306.8,54.3 308.3,57.7 310.0,55.2 312.5,55.0 314.4,57.2 317.0,56.5 318.5,56.5 321.6,58.2 322.2,58.6 325.0,58.7 327.7,60.6 328.3,60.3 331.7,62.2 333.0,60.7 336.0,61.0 337.7,62.9 340.1,64.8 341.6,65.3 345.5,63.5 347.3,64.5 348.8,65.6 350.6,66.3 353.4,64.7 355.7,65.4 356.8,67.7 358.9,69.1 360.0,71.5 361.3,72.5 363.0,72.6 365.2,75.6 366.1,76.2 369.6,75.6 371.8,77.0 373.1,76.3 375.4,76.5 377.5,78.8"/>
<polyline points="175.2,61.3 176.2,62.8 178.9,64.1 181.6,63.8 183.9,63.8 186.2,63.7 187.7,63.8 189.7,64.2 192.8,63.8 194.3,62.9 196.3,63.3 199.4,61.9 199.4,60.5 202.6,59.4 202.2,57.9 205.5,58.1 203.1,56.8 202.0,54.8 199.1,54.3 197.7,52.2 195.9,53.0 193.6,55.8 190.8,55.5 189.5,53.4 187.2,51.7 184.8,53.3 183.9,55.2 179.7,54.4 180.2,56.6 176.8,56.5 175.1,58.1 175.2,61.3"/>
<polyline points="175.2,61.3 176.6,63.9 179.0,63.4 181.6,63.8 183.7,64.9 186.6,62.8 188.3,61.8 190.3,61.4 192.9,62.6 194.3,62.9 195.6,60.4 198.7,60.6 200.9,62.0 200.9,58.9 203.1,58.1 205.5,58.1 203.3,58.1 201.5,54.5 199.1,54.3 196.0,54.9 194.8,55.1 192.2,55.2 191.5,52.3 188.3,52.6 187.1,54.4 184.8,53.3 182.1,54.5 181.0,56.3 178.8,55.3 176.8,56.5 175.5,59.5 175.2,61.3"/>
<polyline points="200.7,68.0 203.9,67.8 205.7,69.0 206.0,71.2 209.7,72.4 210.7,70.4 213.5,72.1 216.7,70.6 218.8,70.2 220.8,70.7 221.9,70.5 224.0,72.8 228.0,71.5 229.4,72.1 232.3,72.8 232.9,73.8 236.3,70.5 237.0,72.3 239.5,71.4 242.1,71.2 243.3,70.5 246.5,67.9 248.6,68.6 250.1,68.9 247.0,68.8 245.3,66.1 243.0,67.0 240.4,66.2 238.9,64.5 237.5,61.1 238.9,58.7 237.3,58.5 234.1,58.7 232.3,56.2 229.4,57.5 226.2,59.0 224.0,56.7 223.0,59.2 219.8,58.7 218.1,59.4 214.7,59.8 212.5,57.9 210.3,57.2 209.2,57.9 205.6,57.1 203.8,58.0 200.7,57.8 199.0,57.3 197.5,59.1 196.5,61.0 194.3,62.9 197.5,64.1 198.6,64.5 200.7,66.1 200.7,68.0"/>
<polyline points="200.7,68.0 202.3,68.1 203.4,70.9 207.8,70.7 209.7,69.9 211.0,70.8 213.5,72.1 215.0,70.9 218.6,73.5 219.4,73.8 222.2,72.9 224.9,72.7 228.1,71.4 229.4,72.1 231.9,69.9 233.8,73.2 236.8,71.9 238.1,70.4 239.8,72.3 242.1,71.2 244.2,71.5 246.4,70.1 248.0,70.3 250.1,68.9 247.9,67.0 245.3,66.1 242.7,66.6 240.1,65.7 238.9,64.5 238.8,61.2 238.9,58.7 236.6,58.3 234.7,59.3 232.0,56.1 229.4,57.5 226.9,57.7 225.0,56.8 221.8,59.8 219.8,58.7 217.1,58.5 214.5,56.5 213.8,56.3 210.3,57.2 207.6,58.0 206.6,56.4 204.6,59.4 202.3,60.0 199.4,57.6 197.5,59.1 196.6,60.5 194.3,62.9 197.5,64.0 198.2,65.7 200.7,66.1 200.7,68.0"/>
<polyline points="248.5,62.9 251.2,62.9 252.0,64.1 254.6,63.9 256.5,63.4 258.8,62.9 261.3,63.5 261.8,62.3 263.7,59.6 266.0,59.1 263.8,59.4 263.8,55.9 261.3,54.9 259.4,55.8 257.2,54.0 253.3,55.2 251.7,55.9 251.1,58.4 248.5,59.7 248.5,62.9"/>
<polyline points="248.5,62.9 250.8,64.2 251.9,62.5 254.6,63.0 256.6,64.1 259.4,63.1 261.3,63.5 263.5,63.1 264.2,60.1 266.0,59.1 266.0,56.8 263.8,54.6 261.3,54.9 258.6,55.7 257.4,56.0 254.2,54.6 251.7,55.9 250.0,57.7 248.5,59.7 248.5,62.9"/>
<polyline points="269.2,61.3 272.2,62.0 272.7,58.1 274.9,59.2 277.3,59.9 279.7,57.6 280.8,57.0 283.5,56.4 285.5,56.4 286.7,55.2 285.6,55.6 282.6,54.3 280.1,53.9 279.0,56.4 275.8,56.5 275.2,56.3 272.4,54.6 270.4,56.5 271.7,60.2 269.2,61.3"/>
<polyline points="269.2,61.3 271.4,61.4 272.9,58.1 275.1,58.9 278.3,60.3 278.8,59.6 280.7,56.6 283.1,54.4 284.0,55.2 286.7,55.2 285.1,55.9 282.6,53.6 280.8,54.9 278.9,56.7 276.0,53.3 275.0,53.3 272.4,54.6 272.8,56.5 270.3,58.8 269.2,61.3"/>
<polyline points="267.6,50.2 269.8,50.5 271.5,51.4 273.1,52.6 275.9,53.7 278.3,50.7 280.4,53.0 282.3,53.2 284.3,53.4 287.4,52.3 289.3,52.4 291.1,54.5 293.1,53.3 296.1,53.1 298.1,53.1 299.3,51.5 300.7,53.8 302.9,54.7 305.2,53.6 308.1,54.8 310.1,54.3 312.6,53.8 313.8,52.3 315.8,54.4 318.6,53.0 318.6,50.2 317.4,48.1 314.8,50.8 312.2,48.6 309.4,47.2 307.8,48.6 305.3,49.0 304.9,47.3 301.6,49.6 299.3,49.5 298.5,48.4 296.4,47.1 294.7,47.1 292.4,45.5 289.9,47.0 288.3,45.5 284.2,45.6 283.7,47.2 280.4,46.7 278.1,47.8 276.3,48.9 274.5,50.0 271.8,48.1 270.3,48.7 267.6,50.2"/>
<polyline points="267.6,50.2 268.7,51.7 272.5,53.0 273.7,53.3 276.0,51.2 278.0,53.5 280.4,53.0 281.6,54.8 285.3,53.1 286.8,53.6 288.2,51.6 291.8,52.4 293.1,53.3 294.7,54.7 296.4,55.0 300.4,53.6 302.5,52.6 302.8,53.8 305.7,52.5 308.5,52.1 310.7,51.8 311.4,52.3 313.5,53.3 317.1,53.2 318.6,53.0 318.6,50.2 316.6,49.3 313.9,50.9 312.2,48.6 309.8,50.0 307.9,49.7 306.4,48.7 304.8,47.4 301.1,49.1 299.3,48.3 298.2,46.1 296.7,48.9 294.9,45.8 291.9,47.1 289.9,47.0 287.5,48.4 285.0,48.2 283.0,46.7 280.4,46.7 278.8,48.4 277.2,48.8 273.6,49.6 271.1,49.2 269.4,51.7 267.6,50.2"/>
<polyline points="286.7,47.0 289.3,46.4 291.1,46.4 293.0,44.6 294.0,44.1 296.1,43.2 298.3,44.7 300.2,45.9 302.7,43.8 304.1,44.2 307.3,44.6 307.8,45.1 311.1,43.6 311.7,46.6 315.2,45.5 316.4,46.4 318.7,46.6 319.8,47.2 322.6,47.5 325.0,46.0 324.6,44.1 325.0,40.6 327.7,39.1 329.2,40.6 331.3,38.9 334.5,39.0 335.8,37.4 339.5,37.1 341.9,39.2 343.0,36.8 346.2,37.2 347.3,35.8 349.9,36.2 351.5,33.5 354.5,35.4 355.8,32.0 357.1,32.8 360.8,34.4 361.7,33.2 365.4,32.6 366.4,31.1 369.3,31.8 371.2,30.9 372.1,29.5 375.0,29.6 375.9,27.9 374.3,26.3 371.8,25.8 370.5,25.7 367.0,25.4 364.6,28.2 363.7,28.2 361.6,27.1 358.1,26.8 356.5,25.9 354.1,26.9 352.3,25.2 350.5,26.3 347.7,24.5 347.0,26.7 343.4,25.7 341.8,26.9 339.3,24.9 337.7,28.3 336.4,28.2 333.6,25.0 331.4,25.9 329.8,26.9 326.4,26.9 325.4,25.8 323.3,27.9 320.8,25.5 318.6,26.3 315.8,26.0 314.2,28.4 311.8,29.0 310.7,28.5 308.0,25.8 305.2,29.1 302.9,27.8 301.7,28.8 299.2,26.9 297.7,26.9 295.7,27.8 293.1,29.5 292.1,29.7 288.9,32.3 286.8,31.7 286.1,32.9 283.6,32.6 285.9,31.4 287.4,34.6 290.4,33.1 291.6,35.4 294.0,32.4 296.4,34.2 297.9,34.1 299.5,34.9 297.3,35.7 294.9,37.8 293.1,39.0 294.5,41.5 298.5,41.1 299.5,42.2 297.4,44.9 294.9,43.1 292.7,45.0 290.0,44.1 289.4,44.9 286.7,47.0"/>
<polyline points="286.7,47.0 287.9,46.0 291.8,47.8 292.6,44.3 293.9,45.9 297.1,44.5 298.4,45.2 300.5,45.3 302.7,43.8 304.5,44.2 306.8,46.1 309.0,45.6 311.7,44.2 313.1,45.7 314.3,44.0 317.5,45.6 318.5,46.5 321.1,44.2 322.1,47.2 325.0,46.0 325.9,44.0 325.0,40.6 326.4,39.6 329.4,39.0 333.4,41.1 334.5,39.0 336.0,37.4 338.6,39.8 340.6,36.8 342.2,35.5 344.8,36.0 347.3,35.8 349.4,37.2 352.0,33.4 354.3,33.9 356.4,34.1 357.0,32.6 360.2,33.7 362.5,32.3 364.1,32.7 366.4,31.1 368.9,29.6 369.8,30.0 371.8,29.8 373.5,29.8 375.9,27.9 373.8,26.4 370.8,28.1 370.0,28.4 367.2,29.1 365.0,26.2 362.6,27.4 361.4,28.5 358.1,26.2 356.5,26.1 355.0,25.5 352.2,24.6 350.5,26.3 348.6,26.9 346.5,25.1 343.3,27.5 341.9,26.2 339.0,25.6 338.0,27.7 335.8,28.0 332.8,26.3 331.2,25.6 329.1,26.7 326.4,27.2 324.3,25.1 322.5,27.7 320.7,25.3 318.6,26.3 315.5,25.1 313.6,25.9 311.4,26.6 309.9,28.9 307.7,26.8 306.8,28.7 303.0,27.8 302.3,29.2 300.4,29.7 296.3,28.4 295.4,28.0 293.1,29.5 291.8,29.1 289.2,29.3 287.8,33.3 286.3,33.2 283.6,32.6 285.7,31.2 288.1,33.5 290.4,31.7 291.2,32.1 293.1,34.5 295.7,33.7 298.2,33.6 299.5,34.9 297.4,37.6 294.5,36.6 293.1,39.0 296.6,38.6 298.2,39.5 299.5,42.2 298.3,43.0 294.6,43.5 293.2,44.2 290.8,45.4 288.6,47.5 286.7,47.0"/>
<polyline points="267.6,41.6 270.5,43.3 271.7,43.1 273.3,43.1 275.4,40.9 278.6,40.6 280.4,40.6 282.4,41.0 283.6,39.3 285.8,39.1 288.6,37.7 290.2,38.7 292.5,37.0 293.6,36.7 296.3,37.4 294.1,36.1 292.9,33.6 290.6,32.6 288.7,32.6 286.7,32.6 285.7,34.6 282.4,35.5 280.3,33.0 279.2,35.1 276.8,36.0 274.8,33.0 273.8,37.1 270.8,35.8 269.9,38.7 267.7,39.0 267.6,41.6"/>
<polyline points="267.6,41.6 268.8,39.9 272.3,39.8 275.0,40.9 276.8,42.5 278.9,40.6 280.4,40.6 281.3,38.9 284.4,40.1 285.6,38.4 288.8,37.0 291.4,39.3 292.6,40.1 294.3,38.8 296.3,37.4 294.3,35.0 292.7,37.3 289.9,35.5 289.3,34.5 286.7,32.6 283.9,31.9 283.7,33.4 280.4,32.3 279.5,35.9 275.9,34.3 274.5,35.1 273.5,36.5 270.8,35.8 268.4,36.7 270.0,40.6 267.6,41.6"/>
<polyline points="197.5,50.2 199.3,48.9 202.0,50.7 204.2,51.8 205.2,51.2 207.1,52.7 210.1,52.1 212.7,53.4 215.0,52.0 216.6,53.3 218.8,53.9 221.6,51.5 222.2,53.3 226.0,51.5 227.0,51.4 230.1,53.4 232.0,52.6 232.7,50.1 235.8,51.7 235.8,48.6 233.3,46.3 232.2,50.0 228.4,48.7 226.8,48.6 225.1,45.5 223.0,47.0 221.4,45.3 219.7,48.4 217.4,45.9 214.1,45.1 211.8,48.2 210.3,48.3 207.6,48.5 205.2,45.4 203.9,47.0 202.0,50.1 199.0,49.2 197.5,50.2"/>
<polyline points="197.5,50.2 199.9,50.6 202.3,51.3 203.3,49.4 205.6,51.7 207.2,51.4 209.2,53.1 212.8,54.0 213.8,52.7 216.6,53.3 218.2,53.8 220.1,52.8 223.3,54.7 224.3,52.1 228.0,53.3 228.7,53.7 231.1,51.6 233.0,53.0 235.8,51.7 235.8,48.6 232.7,47.8 232.6,47.1 229.9,49.5 227.2,46.7 225.2,47.2 223.0,47.0 220.7,47.3 217.9,46.4 216.1,46.0 213.8,45.3 213.3,46.1 209.6,46.2 207.4,47.2 205.1,48.3 203.9,47.0 201.5,48.4 200.5,49.8 197.5,50.2"/>
<polyline points="238.9,49.2 240.7,48.8 243.0,48.0 245.0,51.8 247.3,51.8 249.7,51.7 250.3,51.4 252.8,49.7 254.5,48.9 257.5,52.7 259.5,50.7 261.5,52.7 262.8,51.7 263.1,48.9 261.3,47.0 258.5,48.6 256.8,47.7 254.8,47.5 253.4,45.1 250.3,46.8 248.5,47.0 245.2,47.6 243.0,48.6 240.3,48.1 238.9,49.2"/>
<polyline points="238.9,49.2 240.5,47.7 243.8,48.9 244.7,47.8 247.8,51.0 248.9,49.0 251.2,51.3 253.3,51.7 254.5,49.8 257.5,49.3 258.5,50.1 260.9,53.4 262.8,51.7 262.3,48.9 261.3,47.0 258.7,46.6 257.9,47.8 255.9,48.7 253.5,47.5 250.6,48.5 248.5,47.0 245.3,45.8 243.4,49.1 242.4,49.7 238.9,49.2"/>
<polyline points="181.6,48.6 183.7,47.8 186.0,49.3 187.6,49.5 190.4,50.3 192.0,49.9 194.7,49.9 197.5,48.6 201.0,47.7 201.8,46.2 203.9,43.8 202.4,45.7 200.3,42.2 197.4,43.2 196.0,43.1 194.1,45.2 191.2,43.8 188.6,42.9 186.9,45.2 186.7,47.3 183.8,49.7 181.6,48.6"/>
<polyline points="181.6,48.6 184.8,47.1 186.6,48.0 189.0,47.1 190.4,47.6 192.2,48.7 195.8,47.6 197.5,48.6 199.0,46.4 202.0,46.6 203.9,43.8 202.3,45.0 199.9,44.3 197.6,43.2 196.3,42.3 192.6,43.1 191.2,43.8 190.6,45.3 188.1,45.6 185.1,47.0 184.9,48.7 181.6,48.6"/>
<polyline points="299.5,81.7 301.0,81.9 303.8,81.4 305.9,82.9 307.7,82.0 310.2,84.0 311.7,87.0 314.4,84.3 316.3,87.9 318.6,87.7 314.9,87.3 314.2,87.5 310.9,88.2 309.0,90.6 307.3,91.3 305.7,88.3 302.8,90.9 301.0,87.0 299.5,87.5 296.3,87.7 297.0,85.9 297.5,82.8 299.5,81.7"/>
<polyline points="299.5,81.7 301.0,81.4 303.3,84.4 305.9,82.9 307.5,82.2 309.9,85.1 312.8,83.5 314.1,87.0 316.8,85.9 318.6,87.7 315.8,88.1 313.6,90.7 310.5,88.3 309.0,90.6 307.5,88.8 305.8,88.2 302.2,90.2 301.7,87.3 299.1,89.5 296.3,87.7 296.8,86.2 297.6,82.7 299.5,81.7"/>
<polyline points="242.1,43.8 244.8,43.8 246.6,43.2 249.0,42.1 250.6,42.5 253.3,43.0 254.9,42.8 256.9,40.8 258.1,39.6 256.3,39.2 254.3,38.5 251.9,37.8 249.0,39.4 247.5,39.0 245.3,38.4 243.2,39.8 241.7,41.3 238.9,41.2 241.4,42.1 242.1,43.8"/>
<polyline points="242.1,43.8 244.3,42.4 246.3,42.9 248.8,43.4 250.3,42.3 253.2,42.0 254.9,42.8 255.6,41.0 258.1,39.6 255.9,39.4 254.4,38.4 252.0,39.7 249.6,38.6 247.0,38.8 245.3,38.4 242.6,39.2 240.9,39.2 238.9,41.2 239.8,43.3 242.1,43.8"/>
<polyline points="254.9,46.0 257.8,45.0 259.1,45.2 261.8,45.7 264.4,46.3 266.0,42.8 262.9,41.7 260.7,43.0 258.1,42.8 255.6,44.1 254.9,46.0"/>
<polyline points="254.9,46.0 257.3,46.5 259.4,45.2 262.1,46.6 264.4,46.3 266.0,42.8 262.9,42.1 261.1,41.7 258.1,42.8 256.9,45.5 254.9,46.0"/>
<polyline points="254.9,60.7 256.8,60.4 259.2,60.2 261.3,58.5 264.0,58.6 266.0,58.1 268.1,55.5 270.8,54.9 268.2,54.7 265.1,54.7 262.8,55.2 261.3,57.1 258.5,56.4 257.1,56.9 254.9,58.1 254.9,60.7"/>
<polyline points="254.9,60.7 257.7,61.1 259.1,59.0 261.5,60.3 264.3,58.3 266.0,58.1 268.7,57.5 270.8,54.9 268.3,54.5 265.2,54.8 262.8,55.2 261.5,56.7 259.4,57.2 257.7,58.3 254.9,58.1 254.9,60.7"/>
<polyline points="256.5,70.2 258.4,70.4 260.8,70.0 262.3,72.5 264.4,71.8 266.9,70.4 269.2,69.9 267.6,69.6 265.8,69.1 263.7,68.1 261.3,68.0 258.5,69.6 256.5,70.2"/>
<polyline points="256.5,70.2 258.7,71.3 260.5,71.4 262.9,72.0 264.4,71.8 266.9,70.0 269.2,69.9 267.4,69.9 265.3,68.2 263.0,67.5 261.3,68.0 259.1,68.7 256.5,70.2"/>
<polyline points="318.6,57.5 321.0,56.5 322.7,58.4 324.8,57.0 327.8,57.5 329.8,58.4 328.2,56.2 326.0,57.3 323.1,56.4 321.6,54.6 318.6,55.6 318.6,57.5"/>
<polyline points="318.6,57.5 321.4,56.8 322.5,58.9 325.4,57.7 327.5,57.8 329.8,58.4 328.2,56.2 326.1,56.1 323.8,57.0 321.4,56.6 318.6,55.6 318.6,57.5"/>
<polyline points="326.6,74.0 328.8,74.9 331.3,74.6 332.9,75.6 332.9,73.1 330.9,72.8 329.1,73.7 326.6,74.0"/>
<polyline points="326.6,74.0 328.5,75.6 330.7,73.9 332.9,75.6 332.9,73.1 330.9,72.9 328.9,73.1 326.6,74.0"/>
<polyline points="309.0,90.6 311.7,91.7 314.1,90.3 316.6,90.8 318.6,91.9 317.0,93.1 314.9,91.7 313.3,92.6 311.1,90.8 309.0,90.6"/>
<polyline points="309.0,90.6 311.2,90.0 313.3,91.3 315.9,91.8 318.6,91.9 317.0,93.1 314.9,93.1 312.8,91.7 310.4,92.2 309.0,90.6"/>
<polyline points="270.8,50.5 273.1,50.4 275.6,51.7 275.6,49.5 272.9,49.7 270.8,50.5"/>
<polyline points="270.8,50.5 273.6,51.5 275.6,51.7 275.6,49.5 273.6,50.6 270.8,50.5"/>
<polyline points="219.8,42.8 222.0,42.6 224.6,41.6 222.8,42.2 220.3,40.4 218.2,40.3 216.6,40.6 214.3,40.7 211.9,42.2 214.8,42.0 217.4,41.6 219.8,42.8"/>
<polyline points="219.8,42.8 221.4,41.4 224.6,41.6 223.0,41.3 220.3,40.0 219.0,41.0 216.6,40.6 214.5,42.3 211.9,42.2 214.4,42.4 217.2,43.1 219.8,42.8"/>
<polyline points="377.5,78.8 377.0,77.1 373.0,79.3 372.1,76.7 369.6,75.6 368.6,74.3 365.4,74.8 363.6,71.9 361.8,72.9 360.0,71.5 359.4,67.4 356.8,67.7 356.0,66.8 352.6,66.5 351.8,67.2 349.0,62.5 347.3,64.5 344.7,65.9 343.1,63.2 339.1,65.3 337.7,62.9 336.2,61.0 333.1,63.6 329.6,62.4 329.0,62.4 328.4,58.4 325.0,58.7 323.5,60.4 320.5,59.2 320.2,55.7 317.0,56.5"/>
<polyline points="377.5,78.8 374.3,79.3 373.8,77.7 371.5,78.4 369.6,75.6 369.5,73.0 364.7,74.8 363.7,70.9 360.8,72.0 360.0,71.5 359.2,69.6 356.8,67.7 354.4,67.0 354.3,65.6 349.5,66.8 347.8,66.7 347.3,64.5 345.4,65.0 342.4,64.9 341.4,61.0 337.7,62.9 336.6,60.6 332.4,62.9 331.8,61.8 328.3,60.3 327.5,57.7 325.0,58.7 321.7,60.4 320.2,56.9 320.0,55.0 317.0,56.5"/>
<polyline points="377.5,78.8 375.5,76.1 373.4,78.4 371.7,77.1 369.6,75.6 368.3,75.7 364.3,74.8 363.4,73.4 362.1,70.3 360.0,71.5 356.8,69.6 356.8,67.7 354.2,65.2 352.8,65.1 352.2,64.5 349.7,64.5 347.3,64.5 346.1,62.6 342.9,63.6 340.8,61.8 337.7,62.9 335.3,60.3 334.9,60.0 331.4,58.5 329.1,59.2 325.5,61.3 325.0,58.7 323.2,58.0 320.1,58.2 318.5,55.5 317.0,56.5"/>
<polyline points="395.1,120.2 392.7,120.2 391.1,119.2 388.7,117.0 387.1,116.9 385.4,114.1 382.3,113.8 380.2,113.9 380.1,110.4 377.5,109.0 376.7,106.9 375.9,104.3 374.5,101.5 372.1,101.7 372.2,98.9 369.6,98.5"/>
<polyline points="395.1,120.2 393.2,117.6 389.9,118.4 388.7,117.0 387.3,116.0 384.1,114.3 382.3,113.8 380.8,112.2 378.4,110.4 377.5,109.0 377.5,107.0 375.9,104.3 374.2,103.4 373.6,99.9 369.7,100.5 369.6,98.5"/>
<polyline points="271.4,97.9 272.6,95.1 275.4,94.4 277.2,93.1 278.7,92.1 281.9,90.9 283.6,89.9 285.6,89.1 286.7,86.8 289.2,85.9 290.6,87.7 293.1,86.8 296.1,84.8 296.3,82.6 297.6,81.0 299.5,79.4 302.8,80.2 304.5,78.7 307.4,79.8 309.7,78.3 311.4,77.2 313.8,77.2 313.8,74.6 313.8,72.4 311.0,70.7 310.6,68.6 307.9,67.1 305.8,67.7 302.7,68.6 300.3,68.1 298.1,69.3 296.5,71.1 296.0,71.8 293.1,71.8 290.4,72.1 288.1,71.1 286.7,72.4 284.7,70.4 283.6,69.3 282.5,67.9 280.3,65.5 278.5,64.5 277.2,62.9 275.2,63.1 272.9,62.1 270.8,61.3 270.1,62.9 270.1,66.0 267.6,67.7 269.8,69.5 271.9,68.9 274.0,70.8 272.3,71.5 269.1,72.5 267.6,73.4 265.2,74.4 262.4,73.1 260.1,73.3 258.1,74.0 255.2,74.9 253.9,73.0 250.9,73.2 248.5,74.7 246.8,75.6 244.2,73.0 242.0,74.6 239.3,72.6 237.4,73.2 235.8,72.4 234.5,73.8 232.3,74.9 229.9,74.4 227.8,75.6 225.5,75.9 223.0,74.0 221.3,75.4 218.6,74.8 216.4,75.4 213.4,74.8 211.9,74.7 209.1,73.3 208.0,72.8 205.5,71.5"/>
<polyline points="271.4,97.9 273.1,96.9 274.1,94.4 277.2,93.1 280.2,92.3 281.1,90.8 283.6,89.9 284.8,88.3 286.7,86.8 288.7,87.3 291.5,85.7 293.1,86.8 294.4,85.4 296.3,82.6 298.9,81.5 299.5,79.4 302.4,79.1 304.6,80.9 307.4,79.8 309.2,78.8 312.0,78.1 313.8,77.2 314.5,74.1 313.8,72.4 311.5,71.4 310.6,68.6 307.5,67.6 305.1,68.3 302.7,68.6 300.3,69.9 298.9,69.7 297.8,71.2 294.2,70.2 293.1,71.8 291.4,73.4 288.9,72.3 286.7,72.4 284.4,70.7 283.6,69.3 281.6,67.9 281.1,65.0 278.9,64.7 277.2,62.9 274.8,62.6 273.5,61.1 270.8,61.3 270.2,63.4 268.8,66.3 267.6,67.7 269.4,68.7 272.5,69.5 274.0,70.8 272.0,72.7 270.7,73.7 267.6,73.4 264.9,74.9 263.3,74.7 260.9,75.2 258.1,74.0 255.3,73.5 252.5,73.2 250.3,74.4 248.5,74.7 245.5,75.4 244.7,74.2 241.7,72.7 240.6,73.6 237.7,71.6 235.8,72.4 233.0,73.2 232.9,75.1 230.9,75.6 227.8,75.6 225.4,74.2 223.0,74.0 221.4,75.3 218.5,75.2 215.6,73.9 213.4,75.0 211.9,74.7 209.8,73.9 207.6,73.4 205.5,71.5"/>
<polyline points="384.6,139.0 387.5,137.1 387.5,135.7 388.7,132.9 388.9,130.9 391.1,128.5 392.5,127.2 396.3,126.5 397.0,129.3 395.1,131.3 396.4,132.2 399.8,132.3 401.4,132.9 402.8,134.6 404.6,136.1 405.6,139.3 403.0,141.8 400.7,140.2 398.2,140.9 395.1,139.3 393.1,139.7 390.4,137.8 388.7,137.8 387.1,140.1 384.6,139.0"/>
<polyline points="384.6,139.0 385.8,136.5 386.3,133.7 388.7,132.9 390.7,131.5 390.3,127.9 392.5,127.2 396.3,126.5 395.9,129.2 395.1,131.3 397.5,132.1 400.0,132.3 401.4,132.9 402.5,135.9 404.6,136.1 405.6,139.3 403.0,141.8 401.0,141.1 398.2,140.9 395.1,139.3 393.3,139.6 390.5,137.9 388.3,138.2 386.4,137.5 384.6,139.0"/>
<polyline points="363.2,152.0 365.4,150.4 367.3,149.3 369.6,148.8 372.2,147.2 374.1,147.6 376.5,148.1 379.1,146.3 382.3,144.1 380.7,140.9"/>
<polyline points="363.2,152.0 366.1,151.8 367.3,148.9 369.6,148.8 372.5,148.2 374.3,147.8 376.5,148.1 379.1,146.3 382.3,144.1 380.7,140.9"/>
<polyline points="329.8,180.0 332.6,178.1 332.9,175.8 331.3,172.7 332.9,169.5 333.4,167.9 336.5,167.1 337.1,164.7 337.7,161.6 339.7,161.8 342.3,161.1 344.1,160.0 345.8,158.1 348.2,159.3 350.5,157.7"/>
<polyline points="329.8,180.0 332.6,178.1 332.5,175.6 331.3,172.7 332.9,169.5 334.4,167.2 337.2,166.6 337.1,164.7 337.7,161.6 339.9,160.8 342.6,161.3 344.1,160.0 346.7,158.9 348.9,158.0 350.5,157.7"/>
<polyline points="329.8,180.0 332.6,178.1 332.0,176.0 331.3,172.7 332.9,169.5 334.5,168.8 335.7,167.2 337.1,164.7 337.7,161.6 340.3,162.4 341.6,161.3 344.1,160.0 346.2,159.7 348.5,157.6 350.5,157.7"/>
<polyline points="957.7,231.6 960.2,230.7 962.8,231.6 963.8,234.3 963.1,236.4 961.5,237.1 960.6,239.5 961.0,241.9 961.2,244.3 963.3,245.6 965.4,245.9 967.5,247.6 968.5,249.1 967.9,250.0 965.7,249.2 963.8,246.9 961.8,246.2 959.0,246.9"/>
<polyline points="957.7,231.6 960.3,231.0 962.8,231.6 963.3,233.6 963.1,236.4 961.2,237.4 960.6,239.5 960.3,241.8 961.2,244.3 962.7,245.8 965.4,245.9 966.5,248.2 968.5,249.1 967.9,250.0 966.2,247.5 963.8,246.9 961.3,246.6 959.0,246.9"/>
<polyline points="969.5,250.7 973.3,251.6 974.0,255.5 971.7,258.0 970.1,255.5 970.5,253.0 969.5,250.7"/>
<polyline points="969.5,250.7 973.3,251.6 974.0,255.5 971.7,258.0 970.1,255.5 969.0,252.8 969.5,250.7"/>
<polyline points="962.2,252.9 965.4,253.9 965.3,256.6 966.3,258.6 964.7,261.2 963.4,258.6 962.2,257.0 962.7,255.2 962.2,252.9"/>
<polyline points="962.2,252.9 965.4,253.9 966.0,256.6 966.3,258.6 964.7,261.2 963.4,258.6 962.2,257.0 963.1,254.6 962.2,252.9"/>
<polyline points="967.0,256.1 968.5,258.6 967.9,260.2"/>
<polyline points="967.0,256.1 968.5,258.6 967.9,260.2"/>
<polyline points="646.1,165.4 648.8,167.1 649.9,169.5 647.4,169.8 647.0,171.9 646.8,174.3 645.2,174.3 642.6,173.3 641.0,170.2"/>
<polyline points="646.1,165.4 648.3,166.6 649.9,169.5 647.4,169.8 647.1,172.1 646.8,174.3 645.2,174.3 642.6,173.3 641.0,170.2"/>
<polyline points="649.9,167.6 652.6,168.7 654.7,171.1 657.9,170.2 655.1,172.0 653.1,173.7 654.0,172.2 655.7,170.3 657.1,167.5 656.3,165.7 655.9,168.2 652.9,168.3 652.8,170.6 651.5,172.7"/>
<polyline points="649.9,167.6 652.8,168.0 654.7,171.1 657.9,170.2 656.4,172.6 653.1,173.7 654.3,171.7 656.1,169.9 655.4,166.9 656.3,165.7 654.8,167.3 652.9,168.8 653.0,171.3 651.5,172.7"/>
<polyline points="607.9,112.9 611.0,112.1 613.3,112.2 612.7,115.4 610.2,116.3 608.5,116.0 607.9,112.9"/>
<polyline points="607.9,112.9 610.0,111.7 613.3,112.2 612.7,115.4 610.9,115.6 608.5,116.0 607.9,112.9"/>
<polyline points="607.9,112.9 610.2,112.6 613.3,112.2 612.7,115.4 610.3,115.1 608.5,116.0 607.9,112.9"/>
<polyline points="994.0,182.2 996.9,181.9 998.8,181.0 1001.3,182.1 1003.6,181.3"/>
<polyline points="994.0,182.2 996.0,182.2 998.8,181.0 1001.2,180.2 1003.6,181.3"/>
<polyline points="47.2,116.4 48.7,116.8 50.1,116.2 52.2,115.8 53.5,115.7"/>
<polyline points="47.2,116.4 49.0,116.3 50.1,115.5 52.1,115.5 53.5,115.7"/>
<polyline points="47.2,116.4 49.0,115.7 50.5,115.7 51.8,115.9 53.5,115.7"/>
<polyline points="38.9,120.5 40.7,120.5 42.1,119.7 44.0,118.9"/>
<polyline points="38.9,120.5 41.0,120.3 42.3,118.9 44.0,118.9"/>
<polyline points="38.9,120.5 40.3,119.8 42.3,119.3 44.0,118.9"/>
<polyline points="35.0,122.1 37.3,121.7 38.6,120.5"/>
<polyline points="35.0,122.1 37.1,121.8 38.6,120.5"/>
<polyline points="35.0,122.1 36.7,121.5 38.6,120.5"/>
<polyline points="29.3,123.0 31.0,122.8 32.5,122.1"/>
<polyline points="29.3,123.0 31.1,122.3 32.5,122.1"/>
<polyline points="29.3,123.0 30.6,122.3 32.5,122.1"/>
<polyline points="23.6,124.0 25.5,123.7"/>
<polyline points="23.6,124.0 25.5,123.7"/>
<polyline points="23.6,124.0 25.5,123.7"/>
<polyline points="15.3,125.0 17.1,124.1 19.4,124.0"/>
<polyline points="15.3,125.0 17.6,124.5 19.4,124.0"/>
<polyline points="15.3,125.0 17.3,124.1 19.4,124.0"/>
<polyline points="9.6,125.9 12.1,125.3"/>
<polyline points="9.6,125.9 12.1,125.3"/>
<polyline points="9.6,125.9 12.1,125.3"/>
<polyline points="5.7,125.9 7.6,125.3"/>
<polyline points="5.7,125.9 7.6,125.3"/>
<polyline points="5.7,125.9 7.6,125.3"/>
<polyline points="1142.2,126.9 1145.4,126.2"/>
<polyline points="1123.1,122.1 1126.3,122.4"/>
<polyline points="1138.0,125.3 1140.0,124.6"/>
<polyline points="81.2,109.0 83.7,107.7 86.0,106.2 88.6,107.4 86.5,108.5 84.4,109.4 81.2,109.0"/>
<polyline points="81.2,109.0 82.9,107.1 86.0,106.2 88.6,107.4 86.7,108.4 84.4,109.4 81.2,109.0"/>
<polyline points="519.3,200.4 520.9,199.6 522.5,200.4 520.9,201.2 519.3,200.4"/>
<polyline points="527.3,199.4 528.9,198.6 530.5,199.4 528.9,200.2 527.3,199.4"/>
<polyline points="514.9,199.1 516.5,198.3 518.0,199.1 516.5,199.9 514.9,199.1"/>
<polyline points="522.2,201.3 523.8,200.6 525.4,201.3 523.8,202.1 522.2,201.3"/>
<polyline points="528.6,197.8 530.2,197.0 531.7,197.8 530.2,198.6 528.6,197.8"/>
<polyline points="490.6,170.2 492.2,169.4 493.8,170.2 492.2,170.9 490.6,170.2"/>
<polyline points="482.0,167.9 483.6,167.1 485.2,167.9 483.6,168.7 482.0,167.9"/>
<polyline points="485.2,167.3 486.8,166.5 488.4,167.3 486.8,168.1 485.2,167.3"/>
<polyline points="472.5,164.7 474.1,163.9 475.7,164.7 474.1,165.5 472.5,164.7"/>
<polyline points="517.7,186.4 519.3,185.6 520.9,186.4 519.3,187.2 517.7,186.4"/>
<polyline points="496.7,242.4 498.3,241.6 499.9,242.4 498.3,243.2 496.7,242.4"/>
<polyline points="494.5,237.3 496.1,236.5 497.7,237.3 496.1,238.1 494.5,237.3"/>
<polyline points="498.6,239.2 500.2,238.4 501.8,239.2 500.2,240.0 498.6,239.2"/>
<polyline points="492.2,236.4 493.8,235.6 495.4,236.4 493.8,237.2 492.2,236.4"/>
<polyline points="281.3,292.4 282.9,291.6 284.5,292.4 282.9,293.2 281.3,292.4"/>
<polyline points="284.2,292.4 285.8,291.6 287.4,292.4 285.8,293.2 284.2,292.4"/>
<polyline points="286.7,293.3 288.3,292.5 289.9,293.3 288.3,294.1 286.7,293.3"/>
<polyline points="454.0,463.3 455.6,462.5 457.2,463.3 455.6,464.1 454.0,463.3"/>
<polyline points="793.3,447.4 794.9,446.6 796.5,447.4 794.9,448.2 793.3,447.4"/>
<polyline points="806.1,459.2 807.7,458.4 809.2,459.2 807.7,460.0 806.1,459.2"/>
<polyline points="736.6,438.2 738.2,437.4 739.8,438.2 738.2,439.0 736.6,438.2"/>
<polyline points="692.3,439.8 693.9,439.0 695.5,439.8 693.9,440.5 692.3,439.8"/>
<polyline points="748.7,357.6 750.3,356.8 751.9,357.6 750.3,358.4 748.7,357.6"/>
<polyline points="755.1,355.1 756.7,354.3 758.3,355.1 756.7,355.9 755.1,355.1"/>
<polyline points="709.8,327.7 711.4,326.9 713.0,327.7 711.4,328.5 709.8,327.7"/>
<polyline points="713.3,329.3 714.9,328.5 716.5,329.3 714.9,330.1 713.3,329.3"/>
<polyline points="715.9,331.2 717.5,330.4 719.1,331.2 717.5,332.0 715.9,331.2"/>
<polyline points="748.7,305.1 750.3,304.3 751.9,305.1 750.3,305.9 748.7,305.1"/>
<polyline points="743.3,250.7 744.9,249.9 746.5,250.7 744.9,251.5 743.3,250.7"/>
<polyline points="867.5,250.7 869.1,249.9 870.7,250.7 869.1,251.5 867.5,250.7"/>
<polyline points="867.2,254.5 868.8,253.7 870.4,254.5 868.8,255.3 867.2,254.5"/>
<polyline points="870.7,267.6 872.3,266.8 873.9,267.6 872.3,268.3 870.7,267.6"/>
<polyline points="868.2,248.1 869.8,247.3 871.4,248.1 869.8,248.9 868.2,248.1"/>
<polyline points="581.4,164.4 583.0,163.6 584.6,164.4 583.0,165.2 581.4,164.4"/>
<polyline points="576.3,166.3 577.9,165.5 579.5,166.3 577.9,167.1 576.3,166.3"/>
<polyline points="584.6,163.1 586.2,162.4 587.8,163.1 586.2,163.9 584.6,163.1"/>
<polyline points="549.6,93.1 551.2,92.3 552.8,93.1 551.2,93.9 549.6,93.1"/>
<polyline points="568.1,98.5 569.7,97.7 571.2,98.5 569.7,99.3 568.1,98.5"/>
<polyline points="562.3,102.7 563.9,101.9 565.5,102.7 563.9,103.5 562.3,102.7"/>
<polyline points="545.4,64.5 547.0,63.7 548.6,64.5 547.0,65.3 545.4,64.5"/>
<polyline points="632.4,53.7 634.0,52.9 635.6,53.7 634.0,54.5 632.4,53.7"/>
<polyline points="95.6,346.5 97.2,345.7 98.8,346.5 97.2,347.3 95.6,346.5"/>
<polyline points="23.9,334.1 25.5,333.3 27.1,334.1 25.5,334.9 23.9,334.1"/>
<polyline points="13.7,357.9 15.3,357.2 16.9,357.9 15.3,358.7 13.7,357.9"/>
<polyline points="1033.2,247.8 1034.8,247.0 1036.4,247.8 1034.8,248.6 1033.2,247.8"/>
<polyline points="979.7,206.1 981.3,205.3 982.9,206.1 981.3,206.9 979.7,206.1"/>
<polyline points="977.1,207.1 978.7,206.3 980.3,207.1 978.7,207.9 977.1,207.1"/>
<polyline points="984.5,200.4 986.1,199.6 987.7,200.4 986.1,201.2 984.5,200.4"/>
<polyline points="967.6,212.8 969.2,212.0 970.8,212.8 969.2,213.6 967.6,212.8"/>
<polyline points="9.6,430.5 11.2,429.7 12.7,430.5 11.2,431.3 9.6,430.5"/>
<polyline points="1100.8,451.8 1102.4,451.1 1103.9,451.8 1102.4,452.6 1100.8,451.8"/>
<polyline points="1078.5,463.9 1080.1,463.1 1081.6,463.9 1080.1,464.7 1078.5,463.9"/>
<polyline points="365.8,187.7 367.3,186.9 368.9,187.7 367.3,188.5 365.8,187.7"/>
<polyline points="324.0,212.5 325.6,211.7 327.2,212.5 325.6,213.3 324.0,212.5"/>
<polyline points="323.4,205.8 325.0,205.0 326.6,205.8 325.0,206.6 323.4,205.8"/>
<polyline points="329.8,213.4 331.3,212.6 332.9,213.4 331.3,214.2 329.8,213.4"/>
<polyline points="332.9,216.6 334.5,215.8 336.1,216.6 334.5,217.4 332.9,216.6"/>
<polyline points="337.7,223.6 339.3,222.8 340.9,223.6 339.3,224.4 337.7,223.6"/>
<polyline points="325.6,210.6 327.2,209.8 328.8,210.6 327.2,211.4 325.6,210.6"/>
<polyline points="376.6,257.4 378.2,256.6 379.8,257.4 378.2,258.2 376.6,257.4"/>
<polyline points="377.5,244.0 379.1,243.2 380.7,244.0 379.1,244.8 377.5,244.0"/>
<polyline points="375.9,238.9 377.5,238.1 379.1,238.9 377.5,239.7 375.9,238.9"/>
<polyline points="377.5,248.5 379.1,247.7 380.7,248.5 379.1,249.3 377.5,248.5"/>
<polyline points="382.3,248.5 383.9,247.7 385.5,248.5 383.9,249.3 382.3,248.5"/>
<polyline points="374.4,236.4 375.9,235.6 377.5,236.4 375.9,237.2 374.4,236.4"/>
<polyline points="365.4,232.2 367.0,231.4 368.6,232.2 367.0,233.0 365.4,232.2"/>
<polyline points="592.9,289.5 594.5,288.7 596.1,289.5 594.5,290.3 592.9,289.5"/>
<polyline points="599.6,279.3 601.2,278.5 602.8,279.3 601.2,280.1 599.6,279.3"/>
<polyline points="697.1,309.9 698.7,309.1 700.3,309.9 698.7,310.7 697.1,309.9"/>
<polyline points="698.4,307.0 700.0,306.2 701.6,307.0 700.0,307.8 698.4,307.0"/>
<polyline points="630.8,107.4 632.4,106.7 634.0,107.4 632.4,108.2 630.8,107.4"/>
<polyline points="625.1,110.0 626.7,109.2 628.3,110.0 626.7,110.8 625.1,110.0"/>
<polyline points="643.6,104.6 645.2,103.8 646.8,104.6 645.2,105.4 643.6,104.6"/>
<polyline points="644.2,103.0 645.8,102.2 647.4,103.0 645.8,103.8 644.2,103.0"/>
<polyline points="635.6,98.9 637.2,98.1 638.8,98.9 637.2,99.6 635.6,98.9"/>
<polyline points="974.9,184.2 976.5,183.4 978.1,184.2 976.5,185.0 974.9,184.2"/>
<polyline points="983.8,181.0 985.4,180.2 987.0,181.0 985.4,181.8 983.8,181.0"/>
<polyline points="42.1,99.5 43.6,98.7 45.2,99.5 43.6,100.3 42.1,99.5"/>
<polyline points="30.3,109.0 31.9,108.2 33.5,109.0 31.9,109.8 30.3,109.0"/>
<polyline points="371.2,132.9 372.8,132.1 374.4,132.9 372.8,133.7 371.2,132.9"/>
<polyline points="370.2,142.8 371.8,142.0 373.4,142.8 371.8,143.6 370.2,142.8"/>
<polyline points="378.5,143.4 380.1,142.6 381.7,143.4 380.1,144.2 378.5,143.4"/>
<polyline points="553.7,341.1 555.3,340.3 556.9,341.1 555.3,341.9 553.7,341.1"/>
<polyline points="526.0,315.9 527.6,315.1 529.2,315.9 527.6,316.7 526.0,315.9"/>
<polyline points="532.7,408.6 534.3,407.8 535.9,408.6 534.3,409.4 532.7,408.6"/>
<polyline points="818.8,411.4 820.4,410.6 822.0,411.4 820.4,412.2 818.8,411.4"/>
<polyline points="880.3,329.3 881.9,328.5 883.5,329.3 881.9,330.1 880.3,329.3"/>
<polyline points="908.6,323.9 910.2,323.1 911.8,323.9 910.2,324.7 908.6,323.9"/>
<polyline points="804.5,277.7 806.1,276.9 807.7,277.7 806.1,278.5 804.5,277.7"/>
<polyline points="805.1,285.7 806.7,284.9 808.3,285.7 806.7,286.5 805.1,285.7"/>
<polyline points="802.6,313.7 804.1,312.9 805.7,313.7 804.1,314.5 802.6,313.7"/>
<polyline points="1103.9,382.8 1105.5,382.0 1107.1,382.8 1105.5,383.6 1103.9,382.8"/>
<polyline points="1107.1,292.1 1108.7,291.3 1110.3,292.1 1108.7,292.9 1107.1,292.1"/>
<polyline points="1123.1,286.0 1124.7,285.2 1126.3,286.0 1124.7,286.8 1123.1,286.0"/>
<polyline points="70.4,284.4 72.0,283.6 73.6,284.4 72.0,285.2 70.4,284.4"/>
<polyline points="62.8,357.9 64.4,357.2 66.0,357.9 64.4,358.7 62.8,357.9"/>
<polyline points="125.8,319.1 127.4,318.3 129.0,319.1 127.4,319.9 125.8,319.1"/>
<polyline points="223.3,376.7 224.9,375.9 226.5,376.7 224.9,377.5 223.3,376.7"/>
<polyline points="317.0,397.4 318.6,396.6 320.2,397.4 318.6,398.2 317.0,397.4"/>
<polyline points="487.5,476.7 489.1,475.9 490.6,476.7 489.1,477.5 487.5,476.7"/>
<polyline points="426.9,483.4 428.5,482.6 430.1,483.4 428.5,484.2 426.9,483.4"/>
<polyline points="383.9,487.8 385.5,487.0 387.1,487.8 385.5,488.6 383.9,487.8"/>
<polyline points="390.3,492.3 391.9,491.5 393.5,492.3 391.9,493.1 390.3,492.3"/>
<polyline points="340.0,518.6 338.7,517.4 336.7,516.9 333.9,519.5 332.3,518.1 330.0,517.4 332.3,517.7 335.9,516.1 337.5,514.9 339.5,513.9 342.3,514.9 342.3,511.7 344.6,510.4 347.5,511.1 348.8,508.3 350.8,508.6 353.9,506.9 355.1,506.1 356.0,504.5 358.4,503.6 362.2,504.4 362.3,502.1 365.1,501.1 365.5,498.7 370.1,499.6 370.6,496.0 372.2,494.6 375.1,494.8 376.2,493.8 380.0,494.4 380.7,493.2 383.5,493.0 384.9,492.6 387.6,491.1 388.8,492.6 391.3,489.5 392.7,489.2 396.7,490.7 397.6,489.8 396.5,491.4 394.0,491.5 391.9,494.1 390.1,494.8 388.9,495.6 386.6,498.0 382.6,495.5 382.7,499.3 380.1,498.6 378.8,499.5 376.0,500.5 374.1,501.1 372.6,503.6 369.5,505.9 370.1,508.6 372.0,509.4 375.1,511.1 375.9,512.1 377.2,515.2 378.8,516.1 379.7,519.6 382.4,521.0 381.3,523.6 379.6,523.5 379.4,526.1 376.1,527.4 375.1,528.6"/>
<polyline points="340.0,518.6 337.6,518.9 335.5,518.6 333.0,518.6 333.0,518.0 330.0,517.4 332.4,514.8 335.8,517.0 337.5,514.9 339.7,512.6 341.1,514.4 343.7,512.0 344.0,510.3 347.5,511.1 349.7,509.0 352.1,510.5 354.6,508.4 355.1,506.1 357.9,506.3 360.2,505.7 362.0,504.6 362.6,501.0 365.1,501.1 366.8,500.0 368.8,498.2 370.8,497.9 372.6,495.3 375.1,494.8 377.0,494.3 378.8,494.4 381.0,493.2 384.1,493.3 385.9,492.8 387.6,491.1 390.3,489.7 391.4,490.7 393.3,489.5 396.4,490.8 397.6,489.8 395.4,491.4 394.6,493.2 392.6,493.8 390.1,494.8 387.8,496.3 386.3,495.3 383.9,498.3 381.6,497.4 380.1,498.6 377.6,499.6 377.6,501.4 375.6,502.3 372.6,503.6 369.7,505.3 370.1,508.6 373.1,510.9 375.1,511.1 375.0,513.1 377.6,513.4 378.8,516.1 378.7,519.4 380.5,520.9 381.3,523.6 380.4,525.6 377.1,526.0 375.2,526.8 375.1,528.6"/>
<polyline points="340.0,518.6 338.2,518.6 335.0,518.7 334.6,519.2 331.1,518.4 330.0,517.4 332.7,518.0 336.2,516.8 337.5,514.9 338.9,514.1 341.7,514.5 343.8,510.9 345.3,511.7 347.5,511.1 349.2,510.4 350.1,507.1 352.1,507.5 355.1,506.1 357.3,504.4 359.1,503.3 360.7,503.8 362.5,500.2 365.1,501.1 367.0,500.4 369.0,497.2 371.5,499.0 373.4,496.3 375.1,494.8 376.1,493.8 379.3,492.8 381.5,493.3 382.5,491.1 385.1,491.0 387.6,491.1 390.3,490.2 392.4,488.9 394.2,489.2 395.7,489.0 397.6,489.8 396.8,491.0 392.7,491.7 392.0,494.7 390.1,494.8 387.2,496.0 387.0,497.9 384.3,498.2 381.1,497.0 380.1,498.6 378.3,499.6 376.3,499.7 374.6,503.4 372.6,503.6 371.1,507.1 370.1,508.6 373.2,508.4 375.1,511.1 376.7,511.3 378.4,512.8 378.8,516.1 380.1,518.3 380.4,520.7 381.3,523.6 379.3,524.3 377.5,524.2 376.6,527.3 375.1,528.6"/>
<polyline points="340.0,518.6 337.3,518.8 335.1,519.2 334.3,518.5 332.0,517.2 330.0,517.4 331.5,516.0 335.4,517.5 337.5,514.9 339.3,512.6 341.3,513.6 343.9,511.7 345.2,511.3 347.5,511.1 350.2,511.5 350.5,508.7 353.8,507.7 355.1,506.1 356.8,505.0 359.1,502.9 361.6,502.7 363.3,501.4 365.1,501.1 365.6,498.5 370.4,500.0 371.5,497.9 372.5,496.3 375.1,494.8 377.1,492.9 379.0,494.5 380.8,493.7 382.9,493.0 385.2,491.9 387.6,491.1 388.9,491.1 391.8,490.5 393.1,488.9 395.8,490.8 397.6,489.8 395.0,491.0 394.2,491.8 391.6,494.1 390.1,494.8 387.5,495.5 386.4,496.8 382.8,495.6 382.6,497.0 380.1,498.6 378.7,499.0 374.6,500.2 374.3,501.3 372.6,503.6 370.4,504.9 370.1,508.6 372.0,511.1 375.1,511.1 378.4,512.2 378.2,514.8 378.8,516.1 379.0,518.9 379.0,521.0 381.3,523.6 379.0,523.4 379.7,527.4 378.4,528.2 375.1,528.6"/>
<polyline points="320.0,522.4 321.5,522.4 323.5,520.5 326.5,520.1 328.9,521.4 330.0,519.9 332.5,520.6 334.2,519.4 337.1,518.8 338.2,517.8 340.7,515.0 342.5,515.6 344.8,515.0 346.6,515.3 349.0,513.9 351.1,513.4 353.3,510.8 355.1,511.1 357.1,513.4 357.6,515.6 355.5,516.0 354.0,517.9 352.6,519.9 351.0,521.0 348.3,519.3 346.3,521.1 344.1,523.0 341.4,521.4 340.0,522.4 338.4,523.0 335.6,523.3 333.9,522.5 332.2,523.1 329.5,522.2 327.5,523.6"/>
<polyline points="320.0,522.4 322.4,521.8 324.1,520.4 326.4,520.3 327.4,519.3 330.0,519.9 332.2,519.6 334.2,518.1 335.9,517.0 338.3,515.5 340.7,515.5 342.5,515.6 344.8,515.0 346.3,514.7 348.8,514.3 351.7,513.5 353.6,512.2 355.1,511.1 356.6,513.5 357.6,515.6 355.4,515.7 355.1,519.3 352.6,519.9 351.0,520.2 348.0,521.6 346.9,521.4 344.3,522.5 342.3,522.9 340.0,522.4 338.0,522.5 335.4,522.8 333.3,524.5 332.5,524.0 329.4,522.6 327.5,523.6"/>
<polyline points="530.3,522.4 532.1,521.8 534.3,521.5 536.2,520.6 538.5,519.5 540.3,518.6 542.3,518.0 544.3,516.9 546.1,517.9 548.6,517.1 550.4,516.6 552.9,515.9 554.2,517.6 556.4,516.4 558.5,516.5 560.8,517.1 563.2,516.9 565.4,517.4 567.6,516.9 569.0,517.5 570.9,516.4 573.0,516.5 575.4,516.6"/>
<polyline points="530.3,522.4 532.7,521.9 534.4,521.9 536.2,519.2 538.7,519.1 540.3,518.6 542.1,518.0 544.6,516.9 546.3,517.5 548.6,516.8 550.4,516.6 552.4,517.4 554.6,516.2 556.7,517.7 559.0,517.4 561.2,517.1 563.3,516.8 565.4,517.4 567.0,518.0 569.7,516.8 571.0,517.9 573.5,517.0 575.4,516.6"/>
<polyline points="230.3,531.1 232.4,532.0 234.0,529.8 236.7,531.4 238.5,529.7 240.6,531.0 242.2,529.0 244.5,529.7 245.8,529.7 248.1,530.5 250.4,529.9 252.8,530.2 255.4,528.6 253.2,527.4 250.8,527.6 248.6,526.7 247.9,524.9 245.4,522.4 247.6,520.6 249.0,521.5 251.6,521.2 253.1,521.0 255.5,521.0 257.9,520.6 259.6,522.3 261.7,521.0 263.7,522.9 266.7,522.3 268.7,521.8 270.4,522.4 272.0,521.8 274.7,521.4 276.3,524.0 279.4,522.9 280.7,522.6 283.2,523.5 285.4,523.6"/>
<polyline points="72.6,536.2 75.1,537.5 76.9,535.9 78.3,536.5 81.5,536.9 83.2,536.7 85.1,537.4 87.2,537.6 89.8,537.6 92.6,536.2 94.9,535.1 96.5,534.0 98.8,533.7 100.5,533.0 102.7,532.9 104.9,532.1 107.7,532.4"/>
<polyline points="160.2,526.6 162.0,526.4 164.6,526.6 166.3,525.1 168.5,525.9 170.7,525.4 173.2,525.4 175.3,524.1 177.8,524.5 179.2,523.7 181.8,525.1 183.6,525.3 185.7,525.0 187.9,525.1 190.3,525.4 192.2,525.7 194.8,525.3 197.1,525.1 198.6,526.1 201.1,525.5 203.4,526.5 205.3,526.6 207.4,526.7 209.2,528.1 212.0,528.7 214.2,529.1 216.4,528.0 217.9,529.0 220.3,529.1"/>
<polyline points="230.3,531.1 232.7,532.5 234.5,531.8 236.8,529.5 237.9,529.7 239.9,530.9 242.7,530.3 244.5,529.0 246.3,529.0 248.7,530.4 250.4,529.9 252.1,528.0 255.4,528.6 254.3,526.5 251.7,527.0 249.7,525.1 247.9,524.9 245.4,522.4 247.4,522.6 249.6,522.0 252.2,520.5 254.3,522.5 256.0,522.4 257.9,520.6 259.4,521.9 262.3,522.0 264.5,522.9 265.7,522.9 268.2,522.9 270.4,522.4 272.4,522.0 275.1,523.7 277.0,524.0 278.6,522.1 280.7,523.4 282.7,522.9 285.4,523.6"/>
<polyline points="72.6,536.2 75.0,535.6 77.3,535.9 79.3,536.4 80.7,536.5 82.5,536.9 85.1,537.4 87.5,536.9 90.4,535.3 92.6,536.2 94.1,535.5 96.9,536.2 98.4,534.1 101.2,533.0 103.4,533.7 105.1,532.4 107.7,532.4"/>
<polyline points="160.2,526.6 162.4,527.2 165.1,526.8 166.9,524.8 168.9,524.2 171.3,525.4 173.4,524.5 175.3,524.1 177.5,523.6 179.5,524.0 182.0,524.1 184.1,525.0 186.1,525.3 188.4,526.1 190.3,525.4 192.2,525.7 194.4,526.6 196.6,525.1 199.3,526.5 201.2,526.6 203.4,527.4 205.3,526.6 207.4,526.9 209.3,527.8 212.0,527.0 213.5,528.6 216.4,528.9 217.9,528.0 220.3,529.1"/>
<polyline points="230.3,531.1 232.1,531.0 235.2,532.2 236.8,530.6 237.9,531.1 240.0,532.0 242.2,529.1 244.2,528.8 247.0,529.8 248.9,529.7 250.4,529.9 253.2,530.0 255.4,528.6 253.4,528.5 251.8,526.9 249.9,525.4 247.9,524.9 245.4,522.4 247.5,521.5 249.3,523.3 250.8,521.1 252.9,520.1 256.3,520.6 257.9,520.6 260.6,521.6 262.0,522.2 263.4,521.6 265.9,521.4 267.6,522.4 270.4,522.4 272.4,522.7 274.6,522.7 277.3,521.8 279.1,524.0 281.4,522.1 283.9,524.6 285.4,523.6"/>
<polyline points="72.6,536.2 74.1,536.9 76.9,537.5 79.4,536.3 81.3,537.8 83.2,536.6 85.1,537.4 87.3,536.7 90.4,537.2 92.6,536.2 94.7,535.2 97.3,536.1 99.4,535.5 101.0,535.3 103.4,533.4 106.2,533.3 107.7,532.4"/>
<polyline points="160.2,526.6 162.4,526.5 164.6,526.2 167.2,525.9 168.5,524.3 170.7,525.7 172.7,525.1 175.3,524.1 177.7,524.6 179.5,524.0 182.0,524.1 183.9,524.9 186.1,524.7 188.3,526.1 190.3,525.4 192.1,526.4 194.5,525.8 197.1,525.6 199.0,525.5 201.4,526.9 203.0,525.5 205.3,526.6 207.9,527.1 210.0,526.7 211.8,527.5 213.3,528.8 215.8,528.0 218.1,528.0 220.3,529.1"/>
<polyline points="1117.4,519.1 1116.1,520.9 1116.4,523.7 1114.9,524.9 1113.3,525.3 1110.4,525.2 1108.6,527.2 1107.0,526.1 1104.9,527.4 1102.8,529.2 1101.2,527.5 1098.4,528.3 1096.4,529.2 1094.9,529.9 1092.3,530.8 1091.1,533.6 1092.8,536.4 1094.9,537.4 1097.2,537.2 1099.3,538.4 1100.6,538.3 1103.0,537.8 1104.9,538.7 1107.5,537.6 1109.0,539.4 1111.7,538.7 1113.7,538.2 1111.2,539.5 1109.3,538.2 1107.3,540.1 1104.6,538.9 1102.4,539.9 1100.6,539.6 1098.8,541.8 1096.6,540.4 1094.3,543.0 1092.4,542.4 1090.0,544.2 1088.0,544.9 1084.9,544.9 1082.3,545.2 1080.8,546.3 1078.6,546.7 1080.9,546.2 1083.3,547.5 1084.9,548.7 1086.5,550.5 1088.4,551.4 1089.9,552.4"/>
<polyline points="1117.4,519.1 1117.5,521.3 1116.3,522.9 1114.9,524.9 1113.1,524.7 1111.3,526.2 1108.5,525.6 1107.1,526.9 1104.9,527.4 1102.1,527.0 1100.9,528.5 1099.0,528.0 1097.5,529.8 1094.9,529.9 1092.8,532.0 1091.1,533.6 1093.5,534.9 1094.9,537.4 1096.7,538.8 1099.3,537.7 1100.6,539.1 1103.2,537.5 1104.9,538.7 1107.6,539.1 1109.1,538.8 1111.2,538.3 1113.7,538.2 1111.5,538.6 1108.5,538.0 1106.8,538.2 1104.9,538.4 1102.4,539.9 1100.0,539.5 1098.3,540.0 1096.7,540.1 1093.8,541.2 1092.4,542.4 1089.6,543.7 1087.3,544.8 1084.9,544.9 1082.9,545.5 1080.6,546.9 1078.6,546.7 1080.1,547.7 1082.1,549.0 1084.9,548.7 1086.6,549.6 1088.5,551.6 1089.9,552.4"/>
<polyline points="795.2,507.4 795.7,511.1 793.4,511.4 792.5,513.2 790.2,514.1 790.5,517.2 789.0,519.9 791.0,520.4 792.9,521.6 795.2,521.1 797.6,520.0 800.5,518.7 802.8,518.6 805.3,515.6"/>
<polyline points="680.1,509.9 682.6,510.6 684.9,510.8 687.6,511.6 690.1,511.5 693.1,512.1 695.1,512.4 696.9,511.9 698.5,510.3 701.3,510.0 703.1,510.6 705.1,509.1 707.3,509.3 709.3,508.3 710.8,507.0 713.7,507.7 715.9,506.7 717.6,506.6 719.7,506.8 721.7,504.7 723.7,505.5 725.8,503.7 728.1,503.1 730.2,503.6"/>
<polyline points="795.2,507.4 795.7,511.1 794.0,511.8 792.4,513.1 790.2,514.1 790.3,516.8 789.0,519.9 790.9,520.9 792.9,521.1 795.2,521.1 798.0,520.8 800.3,519.8 802.8,518.6 805.3,515.6"/>
<polyline points="680.1,509.9 682.2,510.5 685.0,512.0 687.6,511.6 690.2,511.9 692.5,511.3 695.1,512.4 697.3,511.1 698.7,510.2 701.6,511.0 703.1,510.2 705.1,509.1 707.3,508.1 709.4,507.8 711.6,507.5 713.8,507.5 715.6,508.0 717.6,506.6 719.5,507.2 721.5,506.4 723.8,505.2 725.9,505.2 728.2,503.5 730.2,503.6"/>
</g>
<rect x="0" y="577" width="1148" height="1" fill="#000"/><rect x="1147" y="560" width="1" height="18" fill="#000"/>
</svg>
<div id="leg">
<div class="sw" style="top:2px;background:#ff1c1c"></div><div class="tk" style="top:12px"></div><div class="lb" style="top:7px">25</div>
<div class="sw" style="top:32px;background:#ff3c3c"></div><div class="tk" style="top:42px"></div><div class="lb" style="top:37px">20</div>
<div class="sw" style="top:62px;background:#ff5b5b"></div><div class="tk" style="top:72px"></div><div class="lb" style="top:67px">15</div>
<div class="sw" style="top:92px;background:#ff7a7a"></div><div class="tk" style="top:102px"></div><div class="lb" style="top:97px">10</div>
<div class="sw" style="top:122px;background:#ff9999"></div><div class="tk" style="top:132px"></div><div class="lb" style="top:127px">5</div>
<div class="sw" style="top:152px;background:#ffb8b8"></div><div class="tk" style="top:162px"></div><div class="lb" style="top:157px">0</div>
<div class="sw" style="top:182px;background:#ffd7d7"></div><div class="tk" style="top:192px"></div><div class="lb" style="top:187px">−5</div>
<div class="sw" style="top:212px;background:#d7d7ff"></div><div class="tk" style="top:222px"></div><div class="lb" style="top:217px">−10</div>
<div class="sw" style="top:242px;background:#b8b8ff"></div><div class="tk" style="top:252px"></div><div class="lb" style="top:247px">−15</div>
<div class="sw" style="top:272px;background:#9999ff"></div><div class="tk" style="top:282px"></div><div class="lb" style="top:277px">−20</div>
<div class="sw" style="top:302px;background:#7a7aff"></div><div class="tk" style="top:312px"></div><div class="lb" style="top:307px">−25</div>
<div class="sw" style="top:332px;background:#5b5bff"></div><div class="tk" style="top:342px"></div><div class="lb" style="top:337px">−30</div>
<div class="sw" style="top:362px;background:#3c3cff"></div><div class="tk" style="top:372px"></div><div class="lb" style="top:367px">−35</div>
<div class="sw" style="top:392px;background:#1c1cff"></div><div class="tk" style="top:402px"></div><div class="lb" style="top:397px">−40</div>
</div>
</body></html>
